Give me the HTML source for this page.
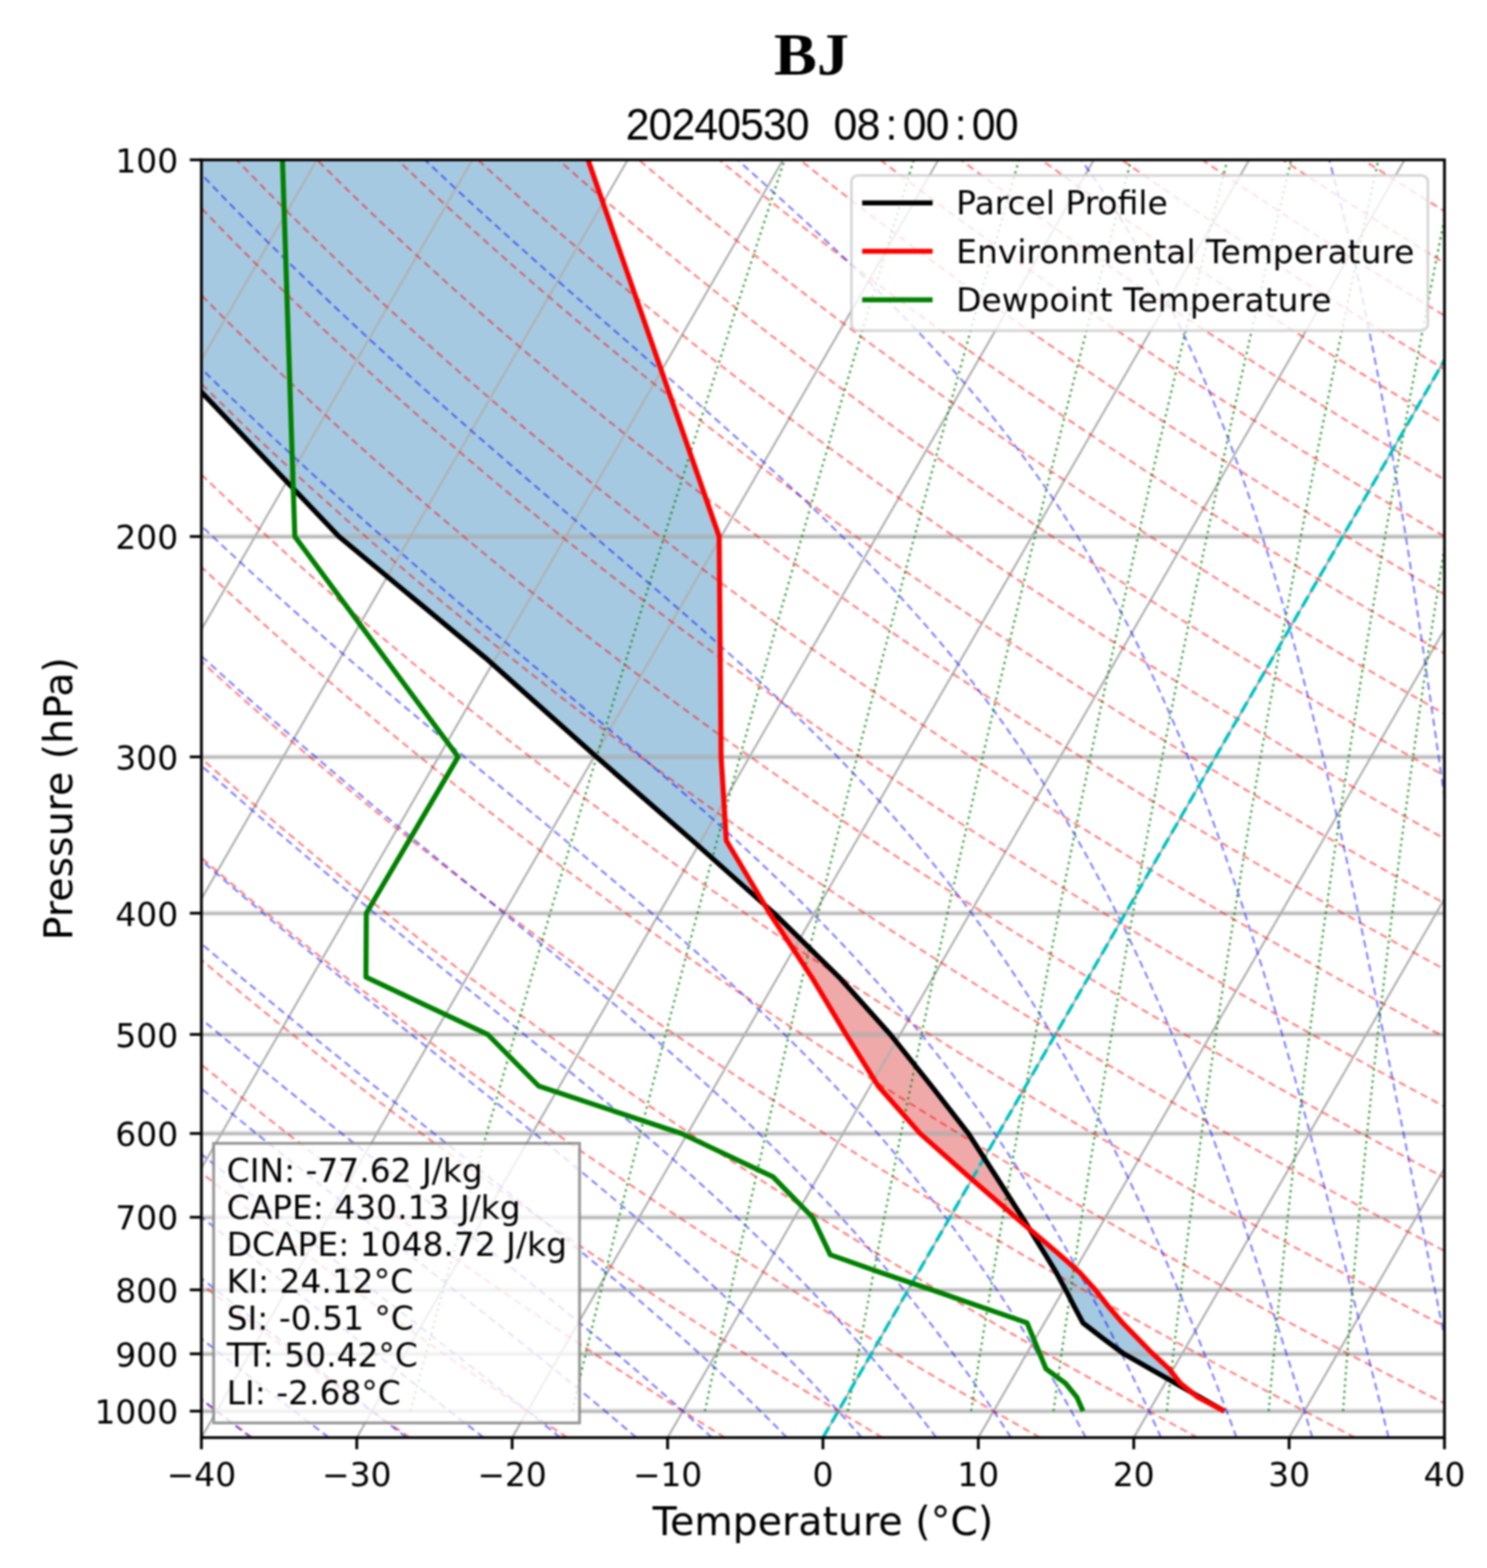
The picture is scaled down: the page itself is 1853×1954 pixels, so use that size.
<!DOCTYPE html>
<html><head><meta charset="utf-8"><title>BJ Skew-T</title>
<style>
html,body{margin:0;padding:0;background:#fff;}
body{width:1853px;height:1954px;overflow:hidden;}
svg{display:block;}
</style></head><body>
<svg xmlns="http://www.w3.org/2000/svg" width="1853" height="1954" viewBox="0 0 1853 1954">
<defs><filter id="soft" x="0" y="0" width="100%" height="100%" filterUnits="userSpaceOnUse" color-interpolation-filters="sRGB"><feGaussianBlur stdDeviation="0.9"/></filter></defs>
<g filter="url(#soft)">
<rect x="-10" y="-10" width="1873" height="1974" fill="#fff"/>
<defs><clipPath id="ax"><rect x="251.0" y="199.2" width="1549.0" height="1592.3"/></clipPath></defs>
<g clip-path="url(#ax)">
<path d="M732.8,199.2 L732.8,199.2 L733.2,200.2 L733.5,201.3 L733.9,202.3 L734.2,203.4 L734.6,204.4 L735.0,205.4 L735.3,206.5 L735.7,207.5 L736.1,208.6 L736.4,209.6 L736.8,210.6 L737.1,211.7 L737.5,212.7 L737.9,213.8 L738.2,214.8 L738.6,215.8 L739.0,216.9 L739.3,217.9 L739.7,219.0 L740.0,220.0 L740.4,221.0 L740.8,222.1 L741.1,223.1 L741.5,224.2 L741.9,225.2 L742.2,226.2 L742.6,227.3 L742.9,228.3 L743.3,229.4 L743.7,230.4 L744.0,231.4 L744.4,232.5 L744.7,233.5 L745.1,234.6 L745.5,235.6 L745.8,236.6 L746.2,237.7 L746.6,238.7 L746.9,239.8 L747.3,240.8 L747.6,241.8 L748.0,242.9 L748.4,243.9 L748.7,245.0 L749.1,246.0 L749.5,247.0 L749.8,248.1 L750.2,249.1 L750.5,250.2 L750.9,251.2 L751.3,252.3 L751.6,253.3 L752.0,254.3 L752.4,255.4 L752.7,256.4 L753.1,257.5 L753.4,258.5 L753.8,259.5 L754.2,260.6 L754.5,261.6 L754.9,262.7 L755.3,263.7 L755.6,264.7 L756.0,265.8 L756.3,266.8 L756.7,267.9 L757.1,268.9 L757.4,269.9 L757.8,271.0 L758.1,272.0 L758.5,273.1 L758.9,274.1 L759.2,275.1 L759.6,276.2 L760.0,277.2 L760.3,278.3 L760.7,279.3 L761.0,280.3 L761.4,281.4 L761.8,282.4 L762.1,283.5 L762.5,284.5 L762.9,285.5 L763.2,286.6 L763.6,287.6 L763.9,288.7 L764.3,289.7 L764.7,290.7 L765.0,291.8 L765.4,292.8 L765.8,293.9 L766.1,294.9 L766.5,295.9 L766.8,297.0 L767.2,298.0 L767.6,299.1 L767.9,300.1 L768.3,301.1 L768.6,302.2 L769.0,303.2 L769.4,304.3 L769.7,305.3 L770.1,306.3 L770.5,307.4 L770.8,308.4 L771.2,309.5 L771.5,310.5 L771.9,311.5 L772.3,312.6 L772.6,313.6 L773.0,314.7 L773.4,315.7 L773.7,316.7 L774.1,317.8 L774.4,318.8 L774.8,319.9 L775.2,320.9 L775.5,321.9 L775.9,323.0 L776.3,324.0 L776.6,325.1 L777.0,326.1 L777.3,327.1 L777.7,328.2 L778.1,329.2 L778.4,330.3 L778.8,331.3 L779.2,332.3 L779.5,333.4 L779.9,334.4 L780.2,335.5 L780.6,336.5 L781.0,337.5 L781.3,338.6 L781.7,339.6 L782.0,340.7 L782.4,341.7 L782.8,342.7 L783.1,343.8 L783.5,344.8 L783.9,345.9 L784.2,346.9 L784.6,347.9 L784.9,349.0 L785.3,350.0 L785.7,351.1 L786.0,352.1 L786.4,353.1 L786.8,354.2 L787.1,355.2 L787.5,356.3 L787.8,357.3 L788.2,358.4 L788.6,359.4 L788.9,360.4 L789.3,361.5 L789.7,362.5 L790.0,363.6 L790.4,364.6 L790.7,365.6 L791.1,366.7 L791.5,367.7 L791.8,368.8 L792.2,369.8 L792.5,370.8 L792.9,371.9 L793.3,372.9 L793.6,374.0 L794.0,375.0 L794.4,376.0 L794.7,377.1 L795.1,378.1 L795.4,379.2 L795.8,380.2 L796.2,381.2 L796.5,382.3 L796.9,383.3 L797.3,384.4 L797.6,385.4 L798.0,386.4 L798.3,387.5 L798.7,388.5 L799.1,389.6 L799.4,390.6 L799.8,391.6 L800.2,392.7 L800.5,393.7 L800.9,394.8 L801.2,395.8 L801.6,396.8 L802.0,397.9 L802.3,398.9 L802.7,400.0 L803.0,401.0 L803.4,402.0 L803.8,403.1 L804.1,404.1 L804.5,405.2 L804.9,406.2 L805.2,407.2 L805.6,408.3 L805.9,409.3 L806.3,410.4 L806.7,411.4 L807.0,412.4 L807.4,413.5 L807.8,414.5 L808.1,415.6 L808.5,416.6 L808.8,417.6 L809.2,418.7 L809.6,419.7 L809.9,420.8 L810.3,421.8 L810.7,422.8 L811.0,423.9 L811.4,424.9 L811.7,426.0 L812.1,427.0 L812.5,428.0 L812.8,429.1 L813.2,430.1 L813.6,431.2 L813.9,432.2 L814.3,433.2 L814.6,434.3 L815.0,435.3 L815.4,436.4 L815.7,437.4 L816.1,438.4 L816.4,439.5 L816.8,440.5 L817.2,441.6 L817.5,442.6 L817.9,443.6 L818.3,444.7 L818.6,445.7 L819.0,446.8 L819.3,447.8 L819.7,448.8 L820.1,449.9 L820.4,450.9 L820.8,452.0 L821.2,453.0 L821.5,454.0 L821.9,455.1 L822.2,456.1 L822.6,457.2 L823.0,458.2 L823.3,459.3 L823.7,460.3 L824.1,461.3 L824.4,462.4 L824.8,463.4 L825.1,464.5 L825.5,465.5 L825.9,466.5 L826.2,467.6 L826.6,468.6 L826.9,469.7 L827.3,470.7 L827.7,471.7 L828.0,472.8 L828.4,473.8 L828.8,474.9 L829.1,475.9 L829.5,476.9 L829.8,478.0 L830.2,479.0 L830.6,480.1 L830.9,481.1 L831.3,482.1 L831.7,483.2 L832.0,484.2 L832.4,485.3 L832.7,486.3 L833.1,487.3 L833.5,488.4 L833.8,489.4 L834.2,490.5 L834.6,491.5 L834.9,492.5 L835.3,493.6 L835.6,494.6 L836.0,495.7 L836.4,496.7 L836.7,497.7 L837.1,498.8 L837.4,499.8 L837.8,500.9 L838.2,501.9 L838.5,502.9 L838.9,504.0 L839.3,505.0 L839.6,506.1 L840.0,507.1 L840.3,508.1 L840.7,509.2 L841.1,510.2 L841.4,511.3 L841.8,512.3 L842.2,513.3 L842.5,514.4 L842.9,515.4 L843.2,516.5 L843.6,517.5 L844.0,518.5 L844.3,519.6 L844.7,520.6 L845.1,521.7 L845.4,522.7 L845.8,523.7 L846.1,524.8 L846.5,525.8 L846.9,526.9 L847.2,527.9 L847.6,528.9 L848.0,530.0 L848.3,531.0 L848.7,532.1 L849.0,533.1 L849.4,534.1 L849.8,535.2 L850.1,536.2 L850.5,537.3 L850.8,538.3 L851.2,539.3 L851.6,540.4 L851.9,541.4 L852.3,542.5 L852.7,543.5 L853.0,544.5 L853.4,545.6 L853.7,546.6 L854.1,547.7 L854.5,548.7 L854.8,549.7 L855.2,550.8 L855.6,551.8 L855.9,552.9 L856.3,553.9 L856.6,554.9 L857.0,556.0 L857.4,557.0 L857.7,558.1 L858.1,559.1 L858.5,560.1 L858.8,561.2 L859.2,562.2 L859.5,563.3 L859.9,564.3 L860.3,565.4 L860.6,566.4 L861.0,567.4 L861.3,568.5 L861.7,569.5 L862.1,570.6 L862.4,571.6 L862.8,572.6 L863.2,573.7 L863.5,574.7 L863.9,575.8 L864.2,576.8 L864.6,577.8 L865.0,578.9 L865.3,579.9 L865.7,581.0 L866.1,582.0 L866.4,583.0 L866.8,584.1 L867.1,585.1 L867.5,586.2 L867.9,587.2 L868.2,588.2 L868.6,589.3 L869.0,590.3 L869.3,591.4 L869.7,592.4 L870.0,593.4 L870.4,594.5 L870.8,595.5 L871.1,596.6 L871.5,597.6 L871.9,598.6 L872.2,599.7 L872.6,600.7 L872.9,601.8 L873.3,602.8 L873.7,603.8 L874.0,604.9 L874.4,605.9 L874.7,607.0 L875.1,608.0 L875.5,609.0 L875.8,610.1 L876.2,611.1 L876.6,612.2 L876.9,613.2 L877.3,614.2 L877.6,615.3 L878.0,616.3 L878.4,617.4 L878.7,618.4 L879.1,619.4 L879.5,620.5 L879.8,621.5 L880.2,622.6 L880.5,623.6 L880.9,624.6 L881.3,625.7 L881.6,626.7 L882.0,627.8 L882.4,628.8 L882.7,629.8 L883.1,630.9 L883.4,631.9 L883.8,633.0 L884.2,634.0 L884.5,635.0 L884.9,636.1 L885.2,637.1 L885.6,638.2 L886.0,639.2 L886.3,640.2 L886.7,641.3 L887.1,642.3 L887.4,643.4 L887.8,644.4 L888.1,645.4 L888.5,646.5 L888.9,647.5 L889.2,648.6 L889.6,649.6 L890.0,650.6 L890.3,651.7 L890.7,652.7 L891.0,653.8 L891.4,654.8 L891.8,655.8 L892.1,656.9 L892.5,657.9 L892.9,659.0 L893.2,660.0 L893.6,661.0 L893.9,662.1 L894.3,663.1 L894.7,664.2 L895.0,665.2 L895.4,666.2 L895.7,667.3 L896.1,668.3 L896.2,668.6 L896.2,669.4 L896.2,670.4 L896.2,671.5 L896.2,672.5 L896.2,673.5 L896.3,674.6 L896.3,675.6 L896.3,676.7 L896.3,677.7 L896.3,678.7 L896.3,679.8 L896.3,680.8 L896.3,681.9 L896.3,682.9 L896.3,683.9 L896.3,685.0 L896.4,686.0 L896.4,687.1 L896.4,688.1 L896.4,689.1 L896.4,690.2 L896.4,691.2 L896.4,692.3 L896.4,693.3 L896.4,694.3 L896.4,695.4 L896.4,696.4 L896.5,697.5 L896.5,698.5 L896.5,699.5 L896.5,700.6 L896.5,701.6 L896.5,702.7 L896.5,703.7 L896.5,704.7 L896.5,705.8 L896.5,706.8 L896.5,707.9 L896.6,708.9 L896.6,709.9 L896.6,711.0 L896.6,712.0 L896.6,713.1 L896.6,714.1 L896.6,715.1 L896.6,716.2 L896.6,717.2 L896.6,718.3 L896.6,719.3 L896.7,720.3 L896.7,721.4 L896.7,722.4 L896.7,723.5 L896.7,724.5 L896.7,725.5 L896.7,726.6 L896.7,727.6 L896.7,728.7 L896.7,729.7 L896.7,730.7 L896.8,731.8 L896.8,732.8 L896.8,733.9 L896.8,734.9 L896.8,735.9 L896.8,737.0 L896.8,738.0 L896.8,739.1 L896.8,740.1 L896.8,741.1 L896.8,742.2 L896.9,743.2 L896.9,744.3 L896.9,745.3 L896.9,746.3 L896.9,747.4 L896.9,748.3 L896.9,748.4 L896.9,749.5 L896.9,750.5 L896.9,751.5 L896.9,752.6 L896.9,753.6 L897.0,754.7 L897.0,755.7 L897.0,756.7 L897.0,757.8 L897.0,758.8 L897.0,759.9 L897.0,760.9 L897.0,761.9 L897.0,763.0 L897.0,764.0 L897.0,765.1 L897.1,766.1 L897.1,767.1 L897.1,768.2 L897.1,769.2 L897.1,770.3 L897.1,771.3 L897.1,772.4 L897.1,773.4 L897.1,774.4 L897.1,775.5 L897.1,776.5 L897.2,777.6 L897.2,778.6 L897.2,779.6 L897.2,780.7 L897.2,781.7 L897.2,782.8 L897.2,783.8 L897.2,784.8 L897.2,785.9 L897.2,786.9 L897.2,788.0 L897.3,789.0 L897.3,790.0 L897.3,791.1 L897.3,792.1 L897.3,793.2 L897.3,794.2 L897.3,795.2 L897.3,796.3 L897.3,797.3 L897.3,798.4 L897.3,799.4 L897.4,800.4 L897.4,801.5 L897.4,802.5 L897.4,803.6 L897.4,804.6 L897.4,805.6 L897.4,806.7 L897.4,807.7 L897.4,808.8 L897.4,809.8 L897.4,810.8 L897.5,811.9 L897.5,812.9 L897.5,814.0 L897.5,815.0 L897.5,816.0 L897.5,817.1 L897.5,818.1 L897.5,819.2 L897.5,819.7 L897.5,820.2 L897.5,821.2 L897.5,822.3 L897.6,823.3 L897.6,824.4 L897.6,825.4 L897.6,826.4 L897.6,827.5 L897.6,828.5 L897.6,829.6 L897.6,830.6 L897.6,831.6 L897.6,832.7 L897.6,833.7 L897.7,834.8 L897.7,835.8 L897.7,836.8 L897.7,837.9 L897.7,838.9 L897.7,840.0 L897.7,841.0 L897.7,842.0 L897.7,843.1 L897.7,844.1 L897.7,845.2 L897.8,846.2 L897.8,847.2 L897.8,848.3 L897.8,849.3 L897.8,850.4 L897.8,851.4 L897.8,852.4 L897.8,853.5 L897.8,854.5 L897.8,855.6 L897.8,856.6 L897.9,857.6 L897.9,858.7 L897.9,859.7 L897.9,860.8 L897.9,861.8 L897.9,862.8 L897.9,863.9 L897.9,864.9 L897.9,866.0 L897.9,867.0 L897.9,868.0 L898.0,869.1 L898.0,870.1 L898.0,871.2 L898.0,872.2 L898.0,873.2 L898.0,874.3 L898.0,875.3 L898.0,876.4 L898.0,877.4 L898.0,878.5 L898.0,879.5 L898.1,880.5 L898.1,881.6 L898.1,882.6 L898.1,883.7 L898.1,884.7 L898.1,885.7 L898.1,886.8 L898.1,887.8 L898.1,888.9 L898.1,889.9 L898.1,890.9 L898.2,892.0 L898.2,893.0 L898.2,894.1 L898.2,895.1 L898.2,896.1 L898.2,897.2 L898.2,898.2 L898.2,899.3 L898.2,900.3 L898.2,901.3 L898.2,902.4 L898.3,903.4 L898.3,904.5 L898.3,905.5 L898.3,906.5 L898.3,907.6 L898.3,908.6 L898.3,909.7 L898.3,910.7 L898.3,911.7 L898.3,912.8 L898.3,913.8 L898.4,914.9 L898.4,915.9 L898.4,916.9 L898.4,918.0 L898.4,919.0 L898.4,920.1 L898.4,921.1 L898.4,922.1 L898.4,923.2 L898.4,924.2 L898.4,925.3 L898.5,926.3 L898.5,927.3 L898.5,928.4 L898.5,929.4 L898.5,930.5 L898.5,931.5 L898.5,932.5 L898.5,933.6 L898.5,934.6 L898.5,935.7 L898.5,936.7 L898.6,937.7 L898.6,938.8 L898.6,939.8 L898.6,940.9 L898.6,941.9 L898.6,942.9 L898.6,943.2 L898.7,944.0 L898.7,945.0 L898.8,946.1 L898.8,947.1 L898.9,948.1 L899.0,949.2 L899.0,950.2 L899.1,951.3 L899.2,952.3 L899.2,953.3 L899.3,954.4 L899.4,955.4 L899.4,956.5 L899.5,957.5 L899.6,958.5 L899.6,959.6 L899.7,960.6 L899.8,961.7 L899.8,962.7 L899.9,963.7 L899.9,964.8 L900.0,965.8 L900.1,966.9 L900.1,967.9 L900.2,968.9 L900.3,970.0 L900.3,971.0 L900.4,972.1 L900.5,973.1 L900.5,974.1 L900.6,975.2 L900.7,976.2 L900.7,977.3 L900.8,978.3 L900.9,979.4 L900.9,980.4 L901.0,981.4 L901.0,982.5 L901.1,983.5 L901.2,984.6 L901.2,985.6 L901.3,986.6 L901.4,987.7 L901.4,988.7 L901.5,989.8 L901.6,990.8 L901.6,991.8 L901.7,992.9 L901.8,993.9 L901.8,995.0 L901.9,996.0 L902.0,997.0 L902.0,998.1 L902.1,999.1 L902.1,1000.2 L902.2,1001.2 L902.3,1002.2 L902.3,1003.3 L902.4,1004.3 L902.5,1005.4 L902.5,1006.4 L902.6,1007.4 L902.7,1008.5 L902.7,1009.5 L902.8,1010.6 L902.9,1011.6 L902.9,1012.6 L903.0,1013.7 L903.1,1014.7 L903.1,1015.8 L903.2,1016.8 L903.3,1017.8 L903.3,1018.9 L903.4,1019.9 L903.4,1021.0 L903.5,1022.0 L903.6,1023.0 L903.6,1024.1 L903.7,1025.1 L903.8,1026.2 L903.8,1027.2 L903.9,1028.2 L904.0,1029.3 L904.0,1030.3 L904.1,1031.4 L904.2,1032.4 L904.2,1033.4 L904.3,1034.5 L904.4,1035.5 L904.4,1036.6 L904.5,1037.6 L904.5,1038.6 L904.6,1039.7 L904.7,1040.7 L904.7,1041.8 L904.8,1042.8 L904.9,1043.8 L904.9,1044.9 L905.0,1045.9 L905.1,1047.0 L905.1,1047.5 L905.4,1048.0 L906.0,1049.0 L906.6,1050.1 L907.2,1051.1 L907.9,1052.2 L908.5,1053.2 L909.1,1054.2 L909.7,1055.3 L910.3,1056.3 L911.0,1057.4 L911.6,1058.4 L912.2,1059.4 L912.8,1060.5 L913.4,1061.5 L914.1,1062.6 L914.7,1063.6 L915.3,1064.6 L915.9,1065.7 L916.5,1066.7 L917.2,1067.8 L917.8,1068.8 L918.4,1069.8 L919.0,1070.9 L919.6,1071.9 L920.3,1073.0 L920.9,1074.0 L921.5,1075.0 L922.1,1076.1 L922.7,1077.1 L923.4,1078.2 L924.0,1079.2 L924.6,1080.2 L925.2,1081.3 L925.8,1082.3 L926.5,1083.4 L927.1,1084.4 L927.7,1085.5 L928.3,1086.5 L928.9,1087.5 L929.6,1088.6 L930.2,1089.6 L930.8,1090.7 L931.4,1091.7 L932.0,1092.7 L932.7,1093.8 L933.3,1094.8 L933.9,1095.9 L934.5,1096.9 L935.1,1097.9 L935.8,1099.0 L936.4,1100.0 L937.0,1101.1 L937.6,1102.1 L938.2,1103.1 L938.9,1104.2 L939.5,1105.2 L940.1,1106.3 L940.7,1107.3 L941.3,1108.3 L942.0,1109.4 L942.6,1110.4 L943.2,1111.5 L943.8,1112.5 L944.4,1113.5 L945.1,1114.6 L945.7,1115.6 L946.3,1116.7 L946.9,1117.7 L947.5,1118.7 L948.2,1119.8 L948.8,1120.8 L949.4,1121.9 L950.0,1122.9 L950.6,1123.9 L951.3,1125.0 L951.9,1126.0 L952.5,1127.1 L952.2,1127.1 L951.1,1126.0 L949.9,1125.0 L948.7,1123.9 L947.6,1122.9 L946.4,1121.9 L945.2,1120.8 L944.1,1119.8 L942.9,1118.7 L941.7,1117.7 L940.6,1116.7 L939.4,1115.6 L938.2,1114.6 L937.0,1113.5 L935.9,1112.5 L934.7,1111.5 L933.5,1110.4 L932.4,1109.4 L931.2,1108.3 L930.0,1107.3 L928.9,1106.3 L927.7,1105.2 L926.5,1104.2 L925.4,1103.1 L924.2,1102.1 L923.0,1101.1 L921.9,1100.0 L920.7,1099.0 L919.5,1097.9 L918.3,1096.9 L917.2,1095.9 L916.0,1094.8 L914.8,1093.8 L913.7,1092.7 L912.5,1091.7 L911.3,1090.7 L910.2,1089.6 L909.0,1088.6 L907.8,1087.5 L906.7,1086.5 L905.5,1085.5 L904.3,1084.4 L903.2,1083.4 L902.0,1082.3 L900.8,1081.3 L899.6,1080.2 L898.5,1079.2 L897.3,1078.2 L896.1,1077.1 L895.0,1076.1 L893.8,1075.0 L892.6,1074.0 L891.5,1073.0 L890.3,1071.9 L889.1,1070.9 L888.0,1069.8 L886.8,1068.8 L885.6,1067.8 L884.5,1066.7 L883.3,1065.7 L882.1,1064.6 L880.9,1063.6 L879.8,1062.6 L878.6,1061.5 L877.4,1060.5 L876.3,1059.4 L875.1,1058.4 L873.9,1057.4 L872.8,1056.3 L871.6,1055.3 L870.4,1054.2 L869.3,1053.2 L868.1,1052.2 L866.9,1051.1 L865.8,1050.1 L864.6,1049.0 L863.4,1048.0 L862.9,1047.5 L862.2,1047.0 L861.0,1045.9 L859.8,1044.9 L858.7,1043.8 L857.5,1042.8 L856.3,1041.8 L855.1,1040.7 L853.9,1039.7 L852.7,1038.6 L851.5,1037.6 L850.3,1036.6 L849.1,1035.5 L847.9,1034.5 L846.7,1033.4 L845.5,1032.4 L844.3,1031.4 L843.1,1030.3 L842.0,1029.3 L840.8,1028.2 L839.6,1027.2 L838.4,1026.2 L837.2,1025.1 L836.0,1024.1 L834.8,1023.0 L833.6,1022.0 L832.4,1021.0 L831.2,1019.9 L830.0,1018.9 L828.8,1017.8 L827.6,1016.8 L826.5,1015.8 L825.3,1014.7 L824.1,1013.7 L822.9,1012.6 L821.7,1011.6 L820.5,1010.6 L819.3,1009.5 L818.1,1008.5 L816.9,1007.4 L815.7,1006.4 L814.5,1005.4 L813.3,1004.3 L812.1,1003.3 L810.9,1002.2 L809.8,1001.2 L808.6,1000.2 L807.4,999.1 L806.2,998.1 L805.0,997.0 L803.8,996.0 L802.6,995.0 L801.4,993.9 L800.2,992.9 L799.0,991.8 L797.8,990.8 L796.6,989.8 L795.4,988.7 L794.2,987.7 L793.1,986.6 L791.9,985.6 L790.7,984.6 L789.5,983.5 L788.3,982.5 L787.1,981.4 L785.9,980.4 L784.7,979.4 L783.5,978.3 L782.3,977.3 L781.1,976.2 L779.9,975.2 L778.7,974.1 L777.5,973.1 L776.4,972.1 L775.2,971.0 L774.0,970.0 L772.8,968.9 L771.6,967.9 L770.4,966.9 L769.2,965.8 L768.0,964.8 L766.8,963.7 L765.6,962.7 L764.4,961.7 L763.2,960.6 L762.0,959.6 L760.8,958.5 L759.7,957.5 L758.5,956.5 L757.3,955.4 L756.1,954.4 L754.9,953.3 L753.7,952.3 L752.5,951.3 L751.3,950.2 L750.1,949.2 L748.9,948.1 L747.7,947.1 L746.5,946.1 L745.3,945.0 L744.1,944.0 L743.2,943.2 L743.0,942.9 L741.8,941.9 L740.6,940.9 L739.5,939.8 L738.3,938.8 L737.1,937.7 L736.0,936.7 L734.8,935.7 L733.6,934.6 L732.5,933.6 L731.3,932.5 L730.1,931.5 L729.0,930.5 L727.8,929.4 L726.6,928.4 L725.5,927.3 L724.3,926.3 L723.1,925.3 L722.0,924.2 L720.8,923.2 L719.6,922.1 L718.5,921.1 L717.3,920.1 L716.1,919.0 L715.0,918.0 L713.8,916.9 L712.6,915.9 L711.5,914.9 L710.3,913.8 L709.1,912.8 L708.0,911.7 L706.8,910.7 L705.6,909.7 L704.5,908.6 L703.3,907.6 L702.1,906.5 L701.0,905.5 L699.8,904.5 L698.7,903.4 L697.5,902.4 L696.3,901.3 L695.2,900.3 L694.0,899.3 L692.8,898.2 L691.7,897.2 L690.5,896.1 L689.3,895.1 L688.2,894.1 L687.0,893.0 L685.8,892.0 L684.7,890.9 L683.5,889.9 L682.3,888.9 L681.2,887.8 L680.0,886.8 L678.8,885.7 L677.7,884.7 L676.5,883.7 L675.3,882.6 L674.2,881.6 L673.0,880.5 L671.8,879.5 L670.7,878.5 L669.5,877.4 L668.3,876.4 L667.2,875.3 L666.0,874.3 L664.8,873.2 L663.7,872.2 L662.5,871.2 L661.3,870.1 L660.2,869.1 L659.0,868.0 L657.8,867.0 L656.7,866.0 L655.5,864.9 L654.3,863.9 L653.2,862.8 L652.0,861.8 L650.8,860.8 L649.7,859.7 L648.5,858.7 L647.3,857.6 L646.2,856.6 L645.0,855.6 L643.8,854.5 L642.7,853.5 L641.5,852.4 L640.4,851.4 L639.2,850.4 L638.0,849.3 L636.9,848.3 L635.7,847.2 L634.5,846.2 L633.4,845.2 L632.2,844.1 L631.0,843.1 L629.9,842.0 L628.7,841.0 L627.5,840.0 L626.4,838.9 L625.2,837.9 L624.0,836.8 L622.9,835.8 L621.7,834.8 L620.5,833.7 L619.4,832.7 L618.2,831.6 L617.0,830.6 L615.9,829.6 L614.7,828.5 L613.5,827.5 L612.4,826.4 L611.2,825.4 L610.0,824.4 L608.9,823.3 L607.7,822.3 L606.5,821.2 L605.4,820.2 L604.8,819.7 L604.2,819.2 L602.9,818.1 L601.6,817.1 L600.4,816.0 L599.1,815.0 L597.9,814.0 L596.6,812.9 L595.3,811.9 L594.1,810.8 L592.8,809.8 L591.6,808.8 L590.3,807.7 L589.1,806.7 L587.8,805.6 L586.5,804.6 L585.3,803.6 L584.0,802.5 L582.8,801.5 L581.5,800.4 L580.3,799.4 L579.0,798.4 L577.7,797.3 L576.5,796.3 L575.2,795.2 L574.0,794.2 L572.7,793.2 L571.4,792.1 L570.2,791.1 L568.9,790.0 L567.7,789.0 L566.4,788.0 L565.2,786.9 L563.9,785.9 L562.6,784.8 L561.4,783.8 L560.1,782.8 L558.9,781.7 L557.6,780.7 L556.3,779.6 L555.1,778.6 L553.8,777.6 L552.6,776.5 L551.3,775.5 L550.1,774.4 L548.8,773.4 L547.5,772.4 L546.3,771.3 L545.0,770.3 L543.8,769.2 L542.5,768.2 L541.2,767.1 L540.0,766.1 L538.7,765.1 L537.5,764.0 L536.2,763.0 L535.0,761.9 L533.7,760.9 L532.4,759.9 L531.2,758.8 L529.9,757.8 L528.7,756.7 L527.4,755.7 L526.1,754.7 L524.9,753.6 L523.6,752.6 L522.4,751.5 L521.1,750.5 L519.9,749.5 L518.6,748.4 L518.5,748.3 L517.3,747.4 L516.1,746.3 L514.8,745.3 L513.6,744.3 L512.3,743.2 L511.1,742.2 L509.8,741.1 L508.6,740.1 L507.3,739.1 L506.1,738.0 L504.8,737.0 L503.6,735.9 L502.3,734.9 L501.1,733.9 L499.8,732.8 L498.5,731.8 L497.3,730.7 L496.0,729.7 L494.8,728.7 L493.5,727.6 L492.3,726.6 L491.0,725.5 L489.8,724.5 L488.5,723.5 L487.3,722.4 L486.0,721.4 L484.8,720.3 L483.5,719.3 L482.3,718.3 L481.0,717.2 L479.7,716.2 L478.5,715.1 L477.2,714.1 L476.0,713.1 L474.7,712.0 L473.5,711.0 L472.2,709.9 L471.0,708.9 L469.7,707.9 L468.5,706.8 L467.2,705.8 L466.0,704.7 L464.7,703.7 L463.5,702.7 L462.2,701.6 L460.9,700.6 L459.7,699.5 L458.4,698.5 L457.2,697.5 L455.9,696.4 L454.7,695.4 L453.4,694.3 L452.2,693.3 L450.9,692.3 L449.7,691.2 L448.4,690.2 L447.2,689.1 L445.9,688.1 L444.7,687.1 L443.4,686.0 L442.1,685.0 L440.9,683.9 L439.6,682.9 L438.4,681.9 L437.1,680.8 L435.9,679.8 L434.6,678.7 L433.4,677.7 L432.1,676.7 L430.9,675.6 L429.6,674.6 L428.4,673.5 L427.1,672.5 L425.9,671.5 L424.6,670.4 L423.3,669.4 L422.4,668.6 L422.2,668.3 L421.2,667.3 L420.2,666.2 L419.2,665.2 L418.2,664.2 L417.2,663.1 L416.2,662.1 L415.2,661.0 L414.2,660.0 L413.2,659.0 L412.3,657.9 L411.3,656.9 L410.3,655.8 L409.3,654.8 L408.3,653.8 L407.3,652.7 L406.3,651.7 L405.3,650.6 L404.3,649.6 L403.3,648.6 L402.4,647.5 L401.4,646.5 L400.4,645.4 L399.4,644.4 L398.4,643.4 L397.4,642.3 L396.4,641.3 L395.4,640.2 L394.4,639.2 L393.4,638.2 L392.4,637.1 L391.5,636.1 L390.5,635.0 L389.5,634.0 L388.5,633.0 L387.5,631.9 L386.5,630.9 L385.5,629.8 L384.5,628.8 L383.5,627.8 L382.5,626.7 L381.6,625.7 L380.6,624.6 L379.6,623.6 L378.6,622.6 L377.6,621.5 L376.6,620.5 L375.6,619.4 L374.6,618.4 L373.6,617.4 L372.6,616.3 L371.6,615.3 L370.7,614.2 L369.7,613.2 L368.7,612.2 L367.7,611.1 L366.7,610.1 L365.7,609.0 L364.7,608.0 L363.7,607.0 L362.7,605.9 L361.7,604.9 L360.8,603.8 L359.8,602.8 L358.8,601.8 L357.8,600.7 L356.8,599.7 L355.8,598.6 L354.8,597.6 L353.8,596.6 L352.8,595.5 L351.8,594.5 L350.9,593.4 L349.9,592.4 L348.9,591.4 L347.9,590.3 L346.9,589.3 L345.9,588.2 L344.9,587.2 L343.9,586.2 L342.9,585.1 L341.9,584.1 L340.9,583.0 L340.0,582.0 L339.0,581.0 L338.0,579.9 L337.0,578.9 L336.0,577.8 L335.0,576.8 L334.0,575.8 L333.0,574.7 L332.0,573.7 L331.0,572.6 L330.1,571.6 L329.1,570.6 L328.1,569.5 L327.1,568.5 L326.1,567.4 L325.1,566.4 L324.1,565.4 L323.1,564.3 L322.1,563.3 L321.1,562.2 L320.1,561.2 L319.2,560.1 L318.2,559.1 L317.2,558.1 L316.2,557.0 L315.2,556.0 L314.2,554.9 L313.2,553.9 L312.2,552.9 L311.2,551.8 L310.2,550.8 L309.3,549.7 L308.3,548.7 L307.3,547.7 L306.3,546.6 L305.3,545.6 L304.3,544.5 L303.3,543.5 L302.3,542.5 L301.3,541.4 L300.3,540.4 L299.4,539.3 L298.4,538.3 L297.4,537.3 L296.4,536.2 L295.4,535.2 L294.4,534.1 L293.4,533.1 L292.4,532.1 L291.4,531.0 L290.4,530.0 L289.4,528.9 L288.5,527.9 L287.5,526.9 L286.5,525.8 L285.5,524.8 L284.5,523.7 L283.5,522.7 L282.5,521.7 L281.5,520.6 L280.5,519.6 L279.5,518.5 L278.6,517.5 L277.6,516.5 L276.6,515.4 L275.6,514.4 L274.6,513.3 L273.6,512.3 L272.6,511.3 L271.6,510.2 L270.6,509.2 L269.6,508.1 L268.7,507.1 L267.7,506.1 L266.7,505.0 L265.7,504.0 L264.7,502.9 L263.7,501.9 L262.7,500.9 L261.7,499.8 L260.7,498.8 L259.7,497.7 L258.7,496.7 L257.8,495.7 L256.8,494.6 L255.8,493.6 L254.8,492.5 L253.8,491.5 L252.8,490.5 L251.8,489.4 L250.8,488.4 L249.8,487.3 L248.8,486.3 L247.9,485.3 L246.9,484.2 L245.9,483.2 L244.9,482.1 L243.9,481.1 L242.9,480.1 L241.9,479.0 L240.9,478.0 L239.9,476.9 L238.9,475.9 L237.9,474.9 L237.0,473.8 L236.0,472.8 L235.0,471.7 L234.0,470.7 L233.0,469.7 L232.0,468.6 L231.0,467.6 L230.0,466.5 L229.0,465.5 L228.0,464.5 L227.1,463.4 L226.1,462.4 L225.1,461.3 L224.1,460.3 L223.1,459.3 L222.1,458.2 L221.1,457.2 L220.1,456.1 L219.1,455.1 L218.1,454.0 L217.2,453.0 L216.2,452.0 L215.2,450.9 L214.2,449.9 L213.2,448.8 L212.2,447.8 L211.2,446.8 L210.2,445.7 L209.2,444.7 L208.2,443.6 L207.2,442.6 L206.3,441.6 L205.3,440.5 L204.3,439.5 L203.3,438.4 L202.3,437.4 L201.3,436.4 L200.3,435.3 L199.3,434.3 L198.3,433.2 L197.3,432.2 L196.4,431.2 L195.4,430.1 L194.4,429.1 L193.4,428.0 L192.4,427.0 L191.4,426.0 L190.4,424.9 L189.4,423.9 L188.4,422.8 L187.4,421.8 L186.4,420.8 L185.5,419.7 L184.5,418.7 L183.5,417.6 L182.5,416.6 L181.5,415.6 L180.5,414.5 L179.5,413.5 L178.5,412.4 L177.5,411.4 L176.5,410.4 L175.6,409.3 L174.6,408.3 L173.6,407.2 L172.6,406.2 L171.6,405.2 L170.6,404.1 L169.6,403.1 L168.6,402.0 L167.6,401.0 L166.6,400.0 L165.7,398.9 L164.7,397.9 L163.7,396.8 L162.7,395.8 L161.7,394.8 L160.7,393.7 L159.7,392.7 L158.7,391.6 L157.7,390.6 L156.7,389.6 L155.7,388.5 L154.8,387.5 L153.8,386.4 L152.8,385.4 L151.8,384.4 L150.8,383.3 L149.8,382.3 L148.8,381.2 L147.8,380.2 L146.8,379.2 L145.8,378.1 L144.9,377.1 L143.9,376.0 L142.9,375.0 L141.9,374.0 L140.9,372.9 L139.9,371.9 L138.9,370.8 L137.9,369.8 L136.9,368.8 L135.9,367.7 L135.0,366.7 L134.0,365.6 L133.0,364.6 L132.0,363.6 L131.0,362.5 L130.0,361.5 L129.0,360.4 L128.0,359.4 L127.0,358.4 L126.0,357.3 L125.0,356.3 L124.1,355.2 L123.1,354.2 L122.1,353.1 L121.1,352.1 L120.1,351.1 L119.1,350.0 L118.1,349.0 L117.1,347.9 L116.1,346.9 L115.1,345.9 L114.2,344.8 L113.2,343.8 L112.2,342.7 L111.2,341.7 L110.2,340.7 L109.2,339.6 L108.2,338.6 L107.2,337.5 L106.2,336.5 L105.2,335.5 L104.2,334.4 L103.3,333.4 L102.3,332.3 L101.3,331.3 L100.3,330.3 L99.3,329.2 L98.3,328.2 L97.3,327.1 L96.3,326.1 L95.3,325.1 L94.3,324.0 L93.4,323.0 L92.4,321.9 L91.4,320.9 L90.4,319.9 L89.4,318.8 L88.4,317.8 L87.4,316.7 L86.4,315.7 L85.4,314.7 L84.4,313.6 L83.5,312.6 L82.5,311.5 L81.5,310.5 L80.5,309.5 L79.5,308.4 L78.5,307.4 L77.5,306.3 L76.5,305.3 L75.5,304.3 L74.5,303.2 L73.5,302.2 L72.6,301.1 L71.6,300.1 L70.6,299.1 L69.6,298.0 L68.6,297.0 L67.6,295.9 L66.6,294.9 L65.6,293.9 L64.6,292.8 L63.6,291.8 L62.7,290.7 L61.7,289.7 L60.7,288.7 L59.7,287.6 L58.7,286.6 L57.7,285.5 L56.7,284.5 L55.7,283.5 L54.7,282.4 L53.7,281.4 L52.7,280.3 L51.8,279.3 L50.8,278.3 L49.8,277.2 L48.8,276.2 L47.8,275.1 L46.8,274.1 L45.8,273.1 L44.8,272.0 L43.8,271.0 L42.8,269.9 L41.9,268.9 L40.9,267.9 L39.9,266.8 L38.9,265.8 L37.9,264.7 L36.9,263.7 L35.9,262.7 L34.9,261.6 L33.9,260.6 L32.9,259.5 L32.0,258.5 L31.0,257.5 L30.0,256.4 L29.0,255.4 L28.0,254.3 L27.0,253.3 L26.0,252.3 L25.0,251.2 L24.0,250.2 L23.0,249.1 L22.0,248.1 L21.1,247.0 L20.1,246.0 L19.1,245.0 L18.1,243.9 L17.1,242.9 L16.1,241.8 L15.1,240.8 L14.1,239.8 L13.1,238.7 L12.1,237.7 L11.2,236.6 L10.2,235.6 L9.2,234.6 L8.2,233.5 L7.2,232.5 L6.2,231.4 L5.2,230.4 L4.2,229.4 L3.2,228.3 L2.2,227.3 L1.2,226.2 L0.3,225.2 L-0.7,224.2 L-1.7,223.1 L-2.7,222.1 L-3.7,221.0 L-4.7,220.0 L-5.7,219.0 L-6.7,217.9 L-7.7,216.9 L-8.7,215.8 L-9.6,214.8 L-10.6,213.8 L-11.6,212.7 L-12.6,211.7 L-13.6,210.6 L-14.6,209.6 L-15.6,208.6 L-16.6,207.5 L-17.6,206.5 L-18.6,205.4 L-19.5,204.4 L-20.5,203.4 L-21.5,202.3 L-22.5,201.3 L-23.5,200.2 L-24.5,199.2 L-24.5,199.2Z" fill="#1f77b4" fill-opacity="0.4"/><path d="M1284.1,1532.7 L1285.3,1533.8 L1286.6,1534.8 L1287.8,1535.9 L1289.0,1536.9 L1290.2,1537.9 L1291.5,1539.0 L1292.7,1540.0 L1293.9,1541.1 L1295.1,1542.1 L1296.4,1543.1 L1297.6,1544.2 L1298.8,1545.2 L1300.0,1546.3 L1301.3,1547.3 L1302.5,1548.3 L1303.7,1549.4 L1304.9,1550.4 L1306.2,1551.5 L1307.4,1552.5 L1308.6,1553.5 L1309.8,1554.6 L1311.1,1555.6 L1312.3,1556.7 L1313.5,1557.7 L1314.7,1558.7 L1315.9,1559.8 L1317.2,1560.8 L1318.4,1561.9 L1319.6,1562.9 L1320.5,1563.6 L1320.8,1563.9 L1322.0,1565.0 L1323.2,1566.0 L1324.3,1567.1 L1325.5,1568.1 L1326.7,1569.1 L1327.9,1570.2 L1329.0,1571.2 L1330.2,1572.3 L1331.4,1573.3 L1332.5,1574.3 L1333.7,1575.4 L1334.9,1576.4 L1336.1,1577.5 L1337.2,1578.5 L1338.4,1579.5 L1339.6,1580.6 L1340.7,1581.6 L1341.9,1582.7 L1343.1,1583.7 L1344.3,1584.7 L1345.4,1585.8 L1345.5,1585.9 L1346.4,1586.8 L1347.3,1587.9 L1348.3,1588.9 L1349.2,1589.9 L1350.2,1591.0 L1351.1,1592.0 L1352.0,1593.1 L1353.0,1594.1 L1353.9,1595.1 L1354.9,1596.2 L1355.8,1597.2 L1356.8,1598.3 L1357.7,1599.3 L1358.6,1600.3 L1359.6,1601.4 L1360.5,1602.4 L1361.5,1603.5 L1362.4,1604.5 L1363.4,1605.6 L1364.3,1606.6 L1365.0,1607.4 L1365.2,1607.6 L1366.0,1608.7 L1366.8,1609.7 L1367.7,1610.8 L1368.5,1611.8 L1369.3,1612.8 L1370.1,1613.9 L1370.9,1614.9 L1371.7,1616.0 L1372.5,1617.0 L1373.4,1618.0 L1374.2,1619.1 L1375.0,1620.1 L1375.8,1621.2 L1376.6,1622.2 L1377.4,1623.2 L1378.2,1624.3 L1379.1,1625.3 L1379.9,1626.4 L1380.7,1627.4 L1381.3,1628.2 L1381.5,1628.4 L1382.4,1629.5 L1383.3,1630.5 L1384.2,1631.6 L1385.1,1632.6 L1386.0,1633.6 L1386.9,1634.7 L1387.8,1635.7 L1388.7,1636.8 L1389.6,1637.8 L1390.5,1638.8 L1391.4,1639.9 L1392.3,1640.9 L1393.1,1642.0 L1394.0,1643.0 L1394.9,1644.0 L1395.8,1645.1 L1396.7,1646.1 L1397.6,1647.2 L1398.5,1648.2 L1398.7,1648.4 L1399.5,1649.2 L1400.5,1650.3 L1401.5,1651.3 L1402.5,1652.4 L1403.6,1653.4 L1404.6,1654.4 L1405.6,1655.5 L1406.6,1656.5 L1407.6,1657.6 L1408.6,1658.6 L1409.6,1659.6 L1410.6,1660.7 L1411.7,1661.7 L1412.7,1662.8 L1413.7,1663.8 L1414.7,1664.8 L1415.7,1665.9 L1416.7,1666.9 L1417.7,1668.0 L1417.8,1668.0 L1418.7,1669.0 L1419.8,1670.0 L1420.8,1671.1 L1421.8,1672.1 L1422.8,1673.2 L1423.8,1674.2 L1424.9,1675.2 L1425.9,1676.3 L1426.9,1677.3 L1427.9,1678.4 L1428.9,1679.4 L1430.0,1680.4 L1431.0,1681.5 L1432.0,1682.5 L1433.0,1683.6 L1434.0,1684.6 L1435.1,1685.6 L1436.1,1686.7 L1436.5,1687.1 L1437.2,1687.7 L1438.3,1688.8 L1439.4,1689.8 L1440.6,1690.8 L1441.7,1691.9 L1442.8,1692.9 L1444.0,1694.0 L1445.1,1695.0 L1446.2,1696.0 L1447.4,1697.1 L1448.5,1698.1 L1449.6,1699.2 L1450.8,1700.2 L1451.9,1701.2 L1453.0,1702.3 L1454.2,1703.3 L1455.3,1704.4 L1456.4,1705.4 L1456.7,1705.7 L1457.3,1706.5 L1458.1,1707.5 L1458.9,1708.5 L1459.7,1709.6 L1460.6,1710.6 L1461.4,1711.7 L1462.2,1712.7 L1463.0,1713.7 L1463.8,1714.8 L1464.6,1715.8 L1465.4,1716.9 L1466.2,1717.9 L1467.1,1718.9 L1467.9,1720.0 L1468.7,1721.0 L1469.5,1722.1 L1470.3,1723.1 L1470.8,1723.7 L1471.3,1724.1 L1472.6,1725.2 L1473.9,1726.2 L1475.2,1727.3 L1476.5,1728.3 L1477.8,1729.3 L1479.1,1730.4 L1480.4,1731.4 L1481.7,1732.5 L1483.0,1733.5 L1484.3,1734.5 L1485.6,1735.6 L1485.5,1735.6 L1483.7,1734.5 L1481.9,1733.5 L1480.0,1732.5 L1478.2,1731.4 L1476.4,1730.4 L1474.6,1729.3 L1472.7,1728.3 L1470.9,1727.3 L1469.1,1726.2 L1467.2,1725.2 L1465.4,1724.1 L1464.7,1723.7 L1463.6,1723.1 L1461.8,1722.1 L1459.9,1721.0 L1458.1,1720.0 L1456.3,1718.9 L1454.5,1717.9 L1452.6,1716.9 L1450.8,1715.8 L1449.0,1714.8 L1447.1,1713.7 L1445.3,1712.7 L1443.5,1711.7 L1441.7,1710.6 L1439.8,1709.6 L1438.0,1708.5 L1436.2,1707.5 L1434.4,1706.5 L1433.0,1705.7 L1432.5,1705.4 L1430.7,1704.4 L1428.9,1703.3 L1427.1,1702.3 L1425.2,1701.2 L1423.4,1700.2 L1421.6,1699.2 L1419.7,1698.1 L1417.9,1697.1 L1416.1,1696.0 L1414.3,1695.0 L1412.4,1694.0 L1410.6,1692.9 L1408.8,1691.9 L1407.0,1690.8 L1405.1,1689.8 L1403.3,1688.8 L1401.5,1687.7 L1400.4,1687.1 L1399.8,1686.7 L1398.4,1685.6 L1397.0,1684.6 L1395.6,1683.6 L1394.2,1682.5 L1392.8,1681.5 L1391.4,1680.4 L1390.0,1679.4 L1388.6,1678.4 L1387.2,1677.3 L1385.8,1676.3 L1384.3,1675.2 L1382.9,1674.2 L1381.5,1673.2 L1380.1,1672.1 L1378.7,1671.1 L1377.3,1670.0 L1375.9,1669.0 L1374.6,1668.0 L1374.5,1668.0 L1373.2,1666.9 L1371.8,1665.9 L1370.5,1664.8 L1369.2,1663.8 L1367.8,1662.8 L1366.5,1661.7 L1365.2,1660.7 L1363.8,1659.6 L1362.5,1658.6 L1361.2,1657.6 L1359.8,1656.5 L1358.5,1655.5 L1357.1,1654.4 L1355.8,1653.4 L1354.5,1652.4 L1353.1,1651.3 L1351.8,1650.3 L1350.5,1649.2 L1349.4,1648.4 L1349.3,1648.2 L1348.7,1647.2 L1348.2,1646.1 L1347.6,1645.1 L1347.1,1644.0 L1346.5,1643.0 L1346.0,1642.0 L1345.4,1640.9 L1344.9,1639.9 L1344.3,1638.8 L1343.8,1637.8 L1343.2,1636.8 L1342.7,1635.7 L1342.1,1634.7 L1341.6,1633.6 L1341.0,1632.6 L1340.5,1631.6 L1339.9,1630.5 L1339.4,1629.5 L1338.8,1628.4 L1338.7,1628.2 L1338.3,1627.4 L1337.8,1626.4 L1337.2,1625.3 L1336.7,1624.3 L1336.2,1623.2 L1335.6,1622.2 L1335.1,1621.2 L1334.6,1620.1 L1334.0,1619.1 L1333.5,1618.0 L1333.0,1617.0 L1332.4,1616.0 L1331.9,1614.9 L1331.3,1613.9 L1330.8,1612.8 L1330.3,1611.8 L1329.7,1610.8 L1329.2,1609.7 L1328.7,1608.7 L1328.1,1607.6 L1328.0,1607.4 L1327.6,1606.6 L1327.0,1605.6 L1326.5,1604.5 L1325.9,1603.5 L1325.3,1602.4 L1324.8,1601.4 L1324.2,1600.3 L1323.6,1599.3 L1323.1,1598.3 L1322.5,1597.2 L1321.9,1596.2 L1321.4,1595.1 L1320.8,1594.1 L1320.2,1593.1 L1319.7,1592.0 L1319.1,1591.0 L1318.5,1589.9 L1318.0,1588.9 L1317.4,1587.9 L1316.8,1586.8 L1316.3,1585.9 L1316.3,1585.8 L1315.6,1584.7 L1315.0,1583.7 L1314.3,1582.7 L1313.7,1581.6 L1313.1,1580.6 L1312.4,1579.5 L1311.8,1578.5 L1311.2,1577.5 L1310.5,1576.4 L1309.9,1575.4 L1309.3,1574.3 L1308.6,1573.3 L1308.0,1572.3 L1307.3,1571.2 L1306.7,1570.2 L1306.1,1569.1 L1305.4,1568.1 L1304.8,1567.1 L1304.2,1566.0 L1303.5,1565.0 L1302.9,1563.9 L1302.7,1563.6 L1302.2,1562.9 L1301.6,1561.9 L1301.0,1560.8 L1300.3,1559.8 L1299.7,1558.7 L1299.0,1557.7 L1298.4,1556.7 L1297.7,1555.6 L1297.1,1554.6 L1296.4,1553.5 L1295.8,1552.5 L1295.2,1551.5 L1294.5,1550.4 L1293.9,1549.4 L1293.2,1548.3 L1292.6,1547.3 L1291.9,1546.3 L1291.3,1545.2 L1290.7,1544.2 L1290.0,1543.1 L1289.4,1542.1 L1288.7,1541.1 L1288.1,1540.0 L1287.4,1539.0 L1286.8,1537.9 L1286.2,1536.9 L1285.5,1535.9 L1284.9,1534.8 L1284.2,1533.8 L1283.6,1532.7Z" fill="#1f77b4" fill-opacity="0.4"/><path d="M953.1,1128.1 L953.7,1129.1 L954.4,1130.2 L955.0,1131.2 L955.6,1132.3 L956.2,1133.3 L956.8,1134.3 L957.5,1135.4 L958.1,1136.4 L958.7,1137.5 L959.0,1138.0 L959.4,1138.5 L960.0,1139.5 L960.7,1140.6 L961.4,1141.6 L962.1,1142.7 L962.8,1143.7 L963.5,1144.7 L964.1,1145.8 L964.8,1146.8 L965.5,1147.9 L966.2,1148.9 L966.9,1149.9 L967.6,1151.0 L968.3,1152.0 L968.9,1153.1 L969.6,1154.1 L970.3,1155.1 L971.0,1156.2 L971.7,1157.2 L972.4,1158.3 L973.0,1159.3 L973.7,1160.3 L974.4,1161.4 L975.1,1162.4 L975.8,1163.5 L976.5,1164.5 L977.2,1165.5 L977.8,1166.6 L978.5,1167.6 L979.2,1168.7 L979.9,1169.7 L980.6,1170.7 L981.3,1171.8 L981.9,1172.8 L982.6,1173.9 L983.3,1174.9 L984.0,1175.9 L984.7,1177.0 L985.4,1178.0 L986.1,1179.1 L986.7,1180.1 L987.4,1181.1 L988.1,1182.2 L988.8,1183.2 L989.5,1184.3 L990.2,1185.3 L990.8,1186.4 L991.5,1187.4 L992.2,1188.4 L992.9,1189.5 L993.6,1190.5 L994.3,1191.6 L995.0,1192.6 L995.6,1193.6 L996.3,1194.7 L997.0,1195.7 L997.7,1196.8 L998.4,1197.8 L999.1,1198.8 L999.7,1199.9 L1000.4,1200.9 L1001.1,1202.0 L1001.8,1203.0 L1002.5,1204.0 L1003.2,1205.1 L1003.9,1206.1 L1004.5,1207.2 L1005.2,1208.2 L1005.9,1209.2 L1006.6,1210.3 L1007.3,1211.3 L1008.0,1212.4 L1008.6,1213.4 L1009.3,1214.4 L1010.0,1215.5 L1010.7,1216.5 L1011.4,1217.6 L1011.5,1217.7 L1012.0,1218.6 L1012.6,1219.6 L1013.3,1220.7 L1013.9,1221.7 L1014.5,1222.8 L1015.1,1223.8 L1015.8,1224.8 L1016.4,1225.9 L1017.0,1226.9 L1017.6,1228.0 L1018.3,1229.0 L1018.9,1230.0 L1019.5,1231.1 L1020.1,1232.1 L1020.8,1233.2 L1021.4,1234.2 L1022.0,1235.2 L1022.6,1236.3 L1023.3,1237.3 L1023.9,1238.4 L1024.5,1239.4 L1025.1,1240.4 L1025.7,1241.5 L1026.4,1242.5 L1027.0,1243.6 L1027.6,1244.6 L1028.2,1245.6 L1028.9,1246.7 L1029.5,1247.7 L1030.1,1248.8 L1030.7,1249.8 L1031.4,1250.8 L1032.0,1251.9 L1032.6,1252.9 L1033.2,1254.0 L1033.9,1255.0 L1034.5,1256.0 L1035.1,1257.1 L1035.7,1258.1 L1036.4,1259.2 L1037.0,1260.2 L1037.6,1261.2 L1038.2,1262.3 L1038.9,1263.3 L1039.5,1264.4 L1040.1,1265.4 L1040.7,1266.4 L1041.3,1267.5 L1042.0,1268.5 L1042.6,1269.6 L1043.2,1270.6 L1043.8,1271.6 L1044.5,1272.7 L1045.1,1273.7 L1045.7,1274.8 L1046.3,1275.8 L1047.0,1276.8 L1047.6,1277.9 L1048.2,1278.9 L1048.8,1280.0 L1049.5,1281.0 L1050.1,1282.0 L1050.7,1283.1 L1051.3,1284.1 L1052.0,1285.2 L1052.6,1286.2 L1053.2,1287.2 L1053.8,1288.3 L1054.3,1289.1 L1054.5,1289.3 L1055.1,1290.4 L1055.8,1291.4 L1056.4,1292.5 L1057.0,1293.5 L1057.7,1294.5 L1058.3,1295.6 L1059.0,1296.6 L1059.6,1297.7 L1060.3,1298.7 L1060.9,1299.7 L1061.6,1300.8 L1062.2,1301.8 L1062.9,1302.9 L1063.5,1303.9 L1064.2,1304.9 L1064.8,1306.0 L1065.5,1307.0 L1066.1,1308.1 L1066.8,1309.1 L1067.4,1310.1 L1068.1,1311.2 L1068.7,1312.2 L1069.4,1313.3 L1070.0,1314.3 L1070.7,1315.3 L1071.3,1316.4 L1072.0,1317.4 L1072.6,1318.5 L1073.2,1319.5 L1073.9,1320.5 L1074.5,1321.6 L1075.2,1322.6 L1075.8,1323.7 L1076.5,1324.7 L1077.1,1325.7 L1077.8,1326.8 L1078.4,1327.8 L1079.1,1328.9 L1079.7,1329.9 L1080.4,1330.9 L1081.0,1332.0 L1081.7,1333.0 L1082.3,1334.1 L1083.0,1335.1 L1083.6,1336.1 L1084.3,1337.2 L1084.9,1338.2 L1085.6,1339.3 L1086.2,1340.3 L1086.9,1341.3 L1087.5,1342.4 L1088.1,1343.4 L1088.8,1344.5 L1089.4,1345.5 L1090.1,1346.5 L1090.7,1347.6 L1091.4,1348.6 L1092.0,1349.7 L1092.7,1350.7 L1093.3,1351.7 L1094.0,1352.8 L1094.5,1353.6 L1094.7,1353.8 L1095.6,1354.9 L1096.5,1355.9 L1097.4,1356.9 L1098.4,1358.0 L1099.3,1359.0 L1100.2,1360.1 L1101.1,1361.1 L1102.0,1362.1 L1102.9,1363.2 L1103.9,1364.2 L1104.8,1365.3 L1105.7,1366.3 L1106.6,1367.3 L1107.5,1368.4 L1108.5,1369.4 L1109.4,1370.5 L1110.3,1371.5 L1111.2,1372.5 L1112.1,1373.6 L1113.0,1374.6 L1114.0,1375.7 L1114.9,1376.7 L1115.8,1377.7 L1116.7,1378.8 L1117.6,1379.8 L1118.5,1380.9 L1119.5,1381.9 L1120.4,1382.9 L1121.3,1384.0 L1122.2,1385.0 L1123.1,1386.1 L1124.1,1387.1 L1125.0,1388.1 L1125.9,1389.2 L1126.8,1390.2 L1127.7,1391.3 L1128.6,1392.3 L1129.6,1393.4 L1130.5,1394.4 L1131.4,1395.4 L1132.3,1396.5 L1133.2,1397.5 L1134.2,1398.6 L1135.1,1399.6 L1136.0,1400.6 L1136.9,1401.7 L1137.8,1402.7 L1138.7,1403.8 L1139.7,1404.8 L1140.6,1405.8 L1141.5,1406.9 L1142.4,1407.9 L1143.3,1409.0 L1144.3,1410.0 L1145.2,1411.0 L1146.1,1412.1 L1146.5,1412.5 L1147.1,1413.1 L1148.3,1414.2 L1149.5,1415.2 L1150.7,1416.2 L1151.8,1417.3 L1153.0,1418.3 L1154.2,1419.4 L1155.3,1420.4 L1156.5,1421.4 L1157.7,1422.5 L1158.9,1423.5 L1160.0,1424.6 L1161.2,1425.6 L1162.4,1426.6 L1163.5,1427.7 L1164.7,1428.7 L1165.9,1429.8 L1167.0,1430.8 L1168.2,1431.8 L1169.4,1432.9 L1170.6,1433.9 L1171.7,1435.0 L1172.9,1436.0 L1174.1,1437.0 L1175.2,1438.1 L1176.4,1439.1 L1177.6,1440.2 L1178.8,1441.2 L1179.9,1442.2 L1181.1,1443.3 L1182.3,1444.3 L1183.4,1445.4 L1184.6,1446.4 L1185.8,1447.4 L1186.9,1448.5 L1188.1,1449.5 L1189.3,1450.6 L1190.5,1451.6 L1191.6,1452.6 L1192.8,1453.7 L1194.0,1454.7 L1195.1,1455.8 L1196.3,1456.8 L1197.5,1457.8 L1198.7,1458.9 L1199.8,1459.9 L1201.0,1461.0 L1202.2,1462.0 L1203.3,1463.0 L1204.5,1464.1 L1205.7,1465.1 L1206.8,1466.2 L1207.5,1466.7 L1208.0,1467.2 L1209.2,1468.2 L1210.4,1469.3 L1211.6,1470.3 L1212.8,1471.4 L1214.0,1472.4 L1215.2,1473.4 L1216.4,1474.5 L1217.7,1475.5 L1218.9,1476.6 L1220.1,1477.6 L1221.3,1478.6 L1222.5,1479.7 L1223.7,1480.7 L1224.9,1481.8 L1226.1,1482.8 L1227.3,1483.8 L1228.5,1484.9 L1229.7,1485.9 L1230.9,1487.0 L1232.1,1488.0 L1233.3,1489.0 L1234.5,1490.1 L1235.7,1491.1 L1236.9,1492.2 L1238.1,1493.2 L1239.3,1494.2 L1240.5,1495.3 L1241.7,1496.3 L1242.9,1497.4 L1244.1,1498.4 L1245.3,1499.5 L1246.5,1500.5 L1247.7,1501.5 L1248.9,1502.6 L1250.1,1503.6 L1251.3,1504.7 L1252.5,1505.7 L1253.7,1506.7 L1254.9,1507.8 L1256.1,1508.8 L1257.3,1509.9 L1258.5,1510.9 L1259.7,1511.9 L1260.9,1513.0 L1262.1,1514.0 L1263.3,1515.1 L1264.5,1516.1 L1265.5,1516.9 L1265.7,1517.1 L1267.0,1518.2 L1268.2,1519.2 L1269.4,1520.3 L1270.6,1521.3 L1271.9,1522.3 L1273.1,1523.4 L1274.3,1524.4 L1275.5,1525.5 L1276.8,1526.5 L1278.0,1527.5 L1279.2,1528.6 L1280.4,1529.6 L1281.7,1530.7 L1282.9,1531.7 L1282.9,1531.7 L1282.3,1530.7 L1281.6,1529.6 L1281.0,1528.6 L1280.4,1527.5 L1279.7,1526.5 L1279.1,1525.5 L1278.4,1524.4 L1277.8,1523.4 L1277.1,1522.3 L1276.5,1521.3 L1275.9,1520.3 L1275.2,1519.2 L1274.6,1518.2 L1273.9,1517.1 L1273.8,1516.9 L1273.3,1516.1 L1272.6,1515.1 L1271.9,1514.0 L1271.3,1513.0 L1270.6,1511.9 L1269.9,1510.9 L1269.3,1509.9 L1268.6,1508.8 L1267.9,1507.8 L1267.3,1506.7 L1266.6,1505.7 L1265.9,1504.7 L1265.3,1503.6 L1264.6,1502.6 L1264.0,1501.5 L1263.3,1500.5 L1262.6,1499.5 L1262.0,1498.4 L1261.3,1497.4 L1260.6,1496.3 L1260.0,1495.3 L1259.3,1494.2 L1258.6,1493.2 L1258.0,1492.2 L1257.3,1491.1 L1256.6,1490.1 L1256.0,1489.0 L1255.3,1488.0 L1254.6,1487.0 L1254.0,1485.9 L1253.3,1484.9 L1252.6,1483.8 L1252.0,1482.8 L1251.3,1481.8 L1250.6,1480.7 L1250.0,1479.7 L1249.3,1478.6 L1248.6,1477.6 L1248.0,1476.6 L1247.3,1475.5 L1246.7,1474.5 L1246.0,1473.4 L1245.3,1472.4 L1244.7,1471.4 L1244.0,1470.3 L1243.3,1469.3 L1242.7,1468.2 L1242.0,1467.2 L1241.7,1466.7 L1241.3,1466.2 L1240.7,1465.1 L1240.0,1464.1 L1239.3,1463.0 L1238.6,1462.0 L1238.0,1461.0 L1237.3,1459.9 L1236.6,1458.9 L1236.0,1457.8 L1235.3,1456.8 L1234.6,1455.8 L1233.9,1454.7 L1233.3,1453.7 L1232.6,1452.6 L1231.9,1451.6 L1231.3,1450.6 L1230.6,1449.5 L1229.9,1448.5 L1229.2,1447.4 L1228.6,1446.4 L1227.9,1445.4 L1227.2,1444.3 L1226.5,1443.3 L1225.9,1442.2 L1225.2,1441.2 L1224.5,1440.2 L1223.9,1439.1 L1223.2,1438.1 L1222.5,1437.0 L1221.8,1436.0 L1221.2,1435.0 L1220.5,1433.9 L1219.8,1432.9 L1219.2,1431.8 L1218.5,1430.8 L1217.8,1429.8 L1217.1,1428.7 L1216.5,1427.7 L1215.8,1426.6 L1215.1,1425.6 L1214.5,1424.6 L1213.8,1423.5 L1213.1,1422.5 L1212.4,1421.4 L1211.8,1420.4 L1211.1,1419.4 L1210.4,1418.3 L1209.8,1417.3 L1209.1,1416.2 L1208.4,1415.2 L1207.7,1414.2 L1207.1,1413.1 L1206.7,1412.5 L1206.3,1412.1 L1205.5,1411.0 L1204.7,1410.0 L1203.9,1409.0 L1203.1,1407.9 L1202.3,1406.9 L1201.5,1405.8 L1200.7,1404.8 L1199.9,1403.8 L1199.1,1402.7 L1198.3,1401.7 L1197.5,1400.6 L1196.7,1399.6 L1195.8,1398.6 L1195.0,1397.5 L1194.2,1396.5 L1193.4,1395.4 L1192.6,1394.4 L1191.8,1393.4 L1191.0,1392.3 L1190.2,1391.3 L1189.4,1390.2 L1188.6,1389.2 L1187.8,1388.1 L1187.0,1387.1 L1186.2,1386.1 L1185.4,1385.0 L1184.6,1384.0 L1183.7,1382.9 L1182.9,1381.9 L1182.1,1380.9 L1181.3,1379.8 L1180.5,1378.8 L1179.7,1377.7 L1178.9,1376.7 L1178.1,1375.7 L1177.3,1374.6 L1176.5,1373.6 L1175.7,1372.5 L1174.9,1371.5 L1174.1,1370.5 L1173.3,1369.4 L1172.5,1368.4 L1171.6,1367.3 L1170.8,1366.3 L1170.0,1365.3 L1169.2,1364.2 L1168.4,1363.2 L1167.6,1362.1 L1166.8,1361.1 L1166.0,1360.1 L1165.2,1359.0 L1164.4,1358.0 L1163.6,1356.9 L1162.8,1355.9 L1162.0,1354.9 L1161.2,1353.8 L1161.0,1353.6 L1160.3,1352.8 L1159.5,1351.7 L1158.7,1350.7 L1157.8,1349.7 L1157.0,1348.6 L1156.2,1347.6 L1155.4,1346.5 L1154.5,1345.5 L1153.7,1344.5 L1152.9,1343.4 L1152.0,1342.4 L1151.2,1341.3 L1150.4,1340.3 L1149.5,1339.3 L1148.7,1338.2 L1147.9,1337.2 L1147.1,1336.1 L1146.2,1335.1 L1145.4,1334.1 L1144.6,1333.0 L1143.7,1332.0 L1142.9,1330.9 L1142.1,1329.9 L1141.2,1328.9 L1140.4,1327.8 L1139.6,1326.8 L1138.8,1325.7 L1137.9,1324.7 L1137.1,1323.7 L1136.3,1322.6 L1135.4,1321.6 L1134.6,1320.5 L1133.8,1319.5 L1132.9,1318.5 L1132.1,1317.4 L1131.3,1316.4 L1130.5,1315.3 L1129.6,1314.3 L1128.8,1313.3 L1128.0,1312.2 L1127.1,1311.2 L1126.3,1310.1 L1125.5,1309.1 L1124.6,1308.1 L1123.8,1307.0 L1123.0,1306.0 L1122.2,1304.9 L1121.3,1303.9 L1120.5,1302.9 L1119.7,1301.8 L1118.8,1300.8 L1118.0,1299.7 L1117.2,1298.7 L1116.3,1297.7 L1115.5,1296.6 L1114.7,1295.6 L1113.9,1294.5 L1113.0,1293.5 L1112.2,1292.5 L1111.4,1291.4 L1110.5,1290.4 L1109.7,1289.3 L1109.5,1289.1 L1108.8,1288.3 L1107.9,1287.2 L1106.9,1286.2 L1106.0,1285.2 L1105.1,1284.1 L1104.1,1283.1 L1103.2,1282.0 L1102.3,1281.0 L1101.3,1280.0 L1100.4,1278.9 L1099.5,1277.9 L1098.5,1276.8 L1097.6,1275.8 L1096.7,1274.8 L1095.8,1273.7 L1094.8,1272.7 L1093.9,1271.6 L1093.0,1270.6 L1092.0,1269.6 L1091.1,1268.5 L1090.2,1267.5 L1089.2,1266.4 L1088.3,1265.4 L1087.4,1264.4 L1086.4,1263.3 L1085.5,1262.3 L1084.6,1261.2 L1083.6,1260.2 L1082.7,1259.2 L1081.8,1258.1 L1080.8,1257.1 L1079.9,1256.0 L1079.0,1255.0 L1078.1,1254.0 L1077.1,1252.9 L1076.2,1251.9 L1075.3,1250.8 L1074.3,1249.8 L1073.4,1248.8 L1072.5,1247.7 L1071.5,1246.7 L1070.6,1245.6 L1069.7,1244.6 L1068.7,1243.6 L1067.8,1242.5 L1066.9,1241.5 L1065.9,1240.4 L1065.0,1239.4 L1064.1,1238.4 L1063.1,1237.3 L1062.2,1236.3 L1061.3,1235.2 L1060.4,1234.2 L1059.4,1233.2 L1058.5,1232.1 L1057.6,1231.1 L1056.6,1230.0 L1055.7,1229.0 L1054.8,1228.0 L1053.8,1226.9 L1052.9,1225.9 L1052.0,1224.8 L1051.0,1223.8 L1050.1,1222.8 L1049.2,1221.7 L1048.2,1220.7 L1047.3,1219.6 L1046.4,1218.6 L1045.6,1217.7 L1045.4,1217.6 L1044.4,1216.5 L1043.3,1215.5 L1042.3,1214.4 L1041.2,1213.4 L1040.1,1212.4 L1039.1,1211.3 L1038.0,1210.3 L1037.0,1209.2 L1035.9,1208.2 L1034.8,1207.2 L1033.8,1206.1 L1032.7,1205.1 L1031.7,1204.0 L1030.6,1203.0 L1029.6,1202.0 L1028.5,1200.9 L1027.4,1199.9 L1026.4,1198.8 L1025.3,1197.8 L1024.3,1196.8 L1023.2,1195.7 L1022.2,1194.7 L1021.1,1193.6 L1020.0,1192.6 L1019.0,1191.6 L1017.9,1190.5 L1016.9,1189.5 L1015.8,1188.4 L1014.8,1187.4 L1013.7,1186.4 L1012.6,1185.3 L1011.6,1184.3 L1010.5,1183.2 L1009.5,1182.2 L1008.4,1181.1 L1007.3,1180.1 L1006.3,1179.1 L1005.2,1178.0 L1004.2,1177.0 L1003.1,1175.9 L1002.1,1174.9 L1001.0,1173.9 L999.9,1172.8 L998.9,1171.8 L997.8,1170.7 L996.8,1169.7 L995.7,1168.7 L994.7,1167.6 L993.6,1166.6 L992.5,1165.5 L991.5,1164.5 L990.4,1163.5 L989.4,1162.4 L988.3,1161.4 L987.3,1160.3 L986.2,1159.3 L985.1,1158.3 L984.1,1157.2 L983.0,1156.2 L982.0,1155.1 L980.9,1154.1 L979.8,1153.1 L978.8,1152.0 L977.7,1151.0 L976.7,1149.9 L975.6,1148.9 L974.6,1147.9 L973.5,1146.8 L972.4,1145.8 L971.4,1144.7 L970.3,1143.7 L969.3,1142.7 L968.2,1141.6 L967.2,1140.6 L966.1,1139.5 L965.0,1138.5 L964.5,1138.0 L963.9,1137.5 L962.8,1136.4 L961.6,1135.4 L960.4,1134.3 L959.3,1133.3 L958.1,1132.3 L956.9,1131.2 L955.7,1130.2 L954.6,1129.1 L953.4,1128.1Z" fill="#d62728" fill-opacity="0.4"/><path d="M1486.8,1736.6 L1488.1,1737.7 L1489.4,1738.7 L1490.7,1739.7 L1492.0,1740.8 L1492.7,1741.3 L1493.7,1741.8 L1495.7,1742.9 L1497.7,1743.9 L1499.7,1744.9 L1501.7,1746.0 L1503.7,1747.0 L1505.7,1748.1 L1507.7,1749.1 L1509.7,1750.1 L1511.7,1751.2 L1513.7,1752.2 L1515.7,1753.3 L1517.7,1754.3 L1519.7,1755.3 L1521.7,1756.4 L1523.7,1757.4 L1523.9,1757.4 L1522.0,1756.4 L1520.2,1755.3 L1518.4,1754.3 L1516.6,1753.3 L1514.7,1752.2 L1512.9,1751.2 L1511.1,1750.1 L1509.3,1749.1 L1507.4,1748.1 L1505.6,1747.0 L1503.8,1746.0 L1502.0,1744.9 L1500.1,1743.9 L1498.3,1742.9 L1496.5,1741.8 L1495.6,1741.3 L1494.6,1740.8 L1492.8,1739.7 L1491.0,1738.7 L1489.2,1737.7 L1487.3,1736.6Z" fill="#d62728" fill-opacity="0.4"/>
<g stroke="#b0b0b0" stroke-width="2.6" fill="none">
<path d="M-1298.0,1791.5 L-379.6,199.2"/>
<path d="M-1104.4,1791.5 L-185.9,199.2"/>
<path d="M-910.8,1791.5 L7.7,199.2"/>
<path d="M-717.1,1791.5 L201.3,199.2"/>
<path d="M-523.5,1791.5 L394.9,199.2"/>
<path d="M-329.9,1791.5 L588.6,199.2"/>
<path d="M-136.2,1791.5 L782.2,199.2"/>
<path d="M57.4,1791.5 L975.8,199.2"/>
<path d="M251.0,1791.5 L1169.4,199.2"/>
<path d="M444.6,1791.5 L1363.1,199.2"/>
<path d="M638.2,1791.5 L1556.7,199.2"/>
<path d="M831.9,1791.5 L1750.3,199.2"/>
<path d="M1025.5,1791.5 L1943.9,199.2"/>
<path d="M1219.1,1791.5 L2137.6,199.2"/>
<path d="M1412.8,1791.5 L2331.2,199.2"/>
<path d="M1606.4,1791.5 L2524.8,199.2"/>
<path d="M1800.0,1791.5 L2718.4,199.2"/>
</g>
<g fill="none">
<path d="M251.0,668.6 H1800.0" stroke="#a0a0a0" stroke-opacity="0.28" stroke-width="7.0"/>
<path d="M251.0,668.9 H1800.0" stroke="#b0b0b0" stroke-width="2.6"/>
<path d="M251.0,943.2 H1800.0" stroke="#a0a0a0" stroke-opacity="0.28" stroke-width="7.0"/>
<path d="M251.0,943.5 H1800.0" stroke="#b0b0b0" stroke-width="2.6"/>
<path d="M251.0,1138.0 H1800.0" stroke="#a0a0a0" stroke-opacity="0.28" stroke-width="7.0"/>
<path d="M251.0,1138.3 H1800.0" stroke="#b0b0b0" stroke-width="2.6"/>
<path d="M251.0,1289.1 H1800.0" stroke="#a0a0a0" stroke-opacity="0.28" stroke-width="7.0"/>
<path d="M251.0,1289.4 H1800.0" stroke="#b0b0b0" stroke-width="2.6"/>
<path d="M251.0,1412.5 H1800.0" stroke="#a0a0a0" stroke-opacity="0.28" stroke-width="7.0"/>
<path d="M251.0,1412.8 H1800.0" stroke="#b0b0b0" stroke-width="2.6"/>
<path d="M251.0,1516.9 H1800.0" stroke="#a0a0a0" stroke-opacity="0.28" stroke-width="7.0"/>
<path d="M251.0,1517.2 H1800.0" stroke="#b0b0b0" stroke-width="2.6"/>
<path d="M251.0,1607.4 H1800.0" stroke="#a0a0a0" stroke-opacity="0.28" stroke-width="7.0"/>
<path d="M251.0,1607.7 H1800.0" stroke="#b0b0b0" stroke-width="2.6"/>
<path d="M251.0,1687.1 H1800.0" stroke="#a0a0a0" stroke-opacity="0.28" stroke-width="7.0"/>
<path d="M251.0,1687.4 H1800.0" stroke="#b0b0b0" stroke-width="2.6"/>
<path d="M251.0,1758.5 H1800.0" stroke="#a0a0a0" stroke-opacity="0.28" stroke-width="7.0"/>
<path d="M251.0,1758.8 H1800.0" stroke="#b0b0b0" stroke-width="2.6"/>
</g>
<g stroke="#ff0000" stroke-opacity="0.5" stroke-width="2.5" fill="none" stroke-dasharray="9.4 5.8">
<path d="M314.4,1791.5 L300.8,1781.5 L287.4,1771.5 L274.0,1761.5 L260.7,1751.4 L247.5,1741.4 L234.4,1731.4 L221.3,1721.4 L208.4,1711.4 L195.5,1701.4 L182.6,1691.4 L169.9,1681.3 L157.2,1671.3 L144.7,1661.3 L132.1,1651.3 L119.7,1641.3 L107.4,1631.3 L95.1,1621.3 L82.9,1611.2 L70.7,1601.2 L58.7,1591.2 L46.7,1581.2 L34.8,1571.2 L23.0,1561.2 L11.2,1551.2 L-0.4,1541.1 L-12.0,1531.1 L-23.6,1521.1 L-35.0,1511.1 L-46.4,1501.1 L-57.7,1491.1 L-69.0,1481.1 L-80.1,1471.0 L-91.2,1461.0 L-102.3,1451.0 L-113.2,1441.0 L-124.1,1431.0 L-134.9,1421.0 L-145.7,1411.0 L-156.4,1400.9 L-167.0,1390.9 L-177.5,1380.9 L-188.0,1370.9 L-198.4,1360.9 L-208.7,1350.9 L-219.0,1340.8 L-229.2,1330.8 L-239.3,1320.8 L-249.4,1310.8 L-259.4,1300.8 L-269.3,1290.8 L-279.2,1280.8 L-289.0,1270.7 L-298.7,1260.7 L-308.4,1250.7 L-318.0,1240.7 L-327.5,1230.7 L-337.0,1220.7 L-346.4,1210.7 L-355.7,1200.6 L-365.0,1190.6 L-374.2,1180.6 L-383.4,1170.6 L-392.5,1160.6 L-401.5,1150.6 L-410.5,1140.6 L-419.4,1130.5 L-428.2,1120.5 L-437.0,1110.5 L-445.7,1100.5 L-454.4,1090.5 L-463.0,1080.5 L-471.5,1070.5 L-480.0,1060.4 L-488.4,1050.4 L-496.8,1040.4 L-505.1,1030.4 L-513.3,1020.4 L-521.5,1010.4 L-529.6,1000.4 L-537.7,990.3 L-545.7,980.3 L-553.6,970.3 L-561.5,960.3 L-569.3,950.3 L-577.1,940.3 L-584.8,930.3 L-592.5,920.2 L-600.1,910.2 L-607.6,900.2 L-615.1,890.2 L-622.6,880.2 L-629.9,870.2 L-637.3,860.2 L-644.5,850.1 L-651.7,840.1 L-658.9,830.1 L-666.0,820.1 L-673.0,810.1 L-680.0,800.1 L-687.0,790.1 L-693.9,780.0 L-700.7,770.0 L-707.5,760.0 L-714.2,750.0 L-720.9,740.0 L-727.5,730.0 L-734.1,720.0 L-740.6,709.9 L-747.1,699.9 L-753.5,689.9 L-759.9,679.9 L-766.2,669.9 L-772.4,659.9 L-778.7,649.9 L-784.8,639.8 L-790.9,629.8 L-797.0,619.8 L-803.0,609.8 L-809.0,599.8 L-814.9,589.8 L-820.7,579.7 L-826.6,569.7 L-832.3,559.7 L-838.0,549.7 L-843.7,539.7 L-849.3,529.7 L-854.9,519.7 L-860.4,509.6 L-865.9,499.6 L-871.3,489.6 L-876.7,479.6 L-882.0,469.6 L-887.3,459.6 L-892.6,449.6 L-897.8,439.5 L-902.9,429.5 L-908.0,419.5 L-913.1,409.5 L-918.1,399.5 L-923.1,389.5 L-928.0,379.5 L-932.9,369.4 L-937.7,359.4 L-942.5,349.4 L-947.2,339.4 L-951.9,329.4 L-956.6,319.4 L-961.2,309.4 L-965.7,299.3 L-970.3,289.3 L-974.8,279.3 L-979.2,269.3 L-983.6,259.3 L-987.9,249.3 L-992.2,239.3 L-996.5,229.2 L-1000.7,219.2 L-1004.9,209.2 L-1009.0,199.2"/>
<path d="M510.7,1791.5 L496.4,1781.5 L482.1,1771.5 L467.9,1761.5 L453.8,1751.4 L439.8,1741.4 L425.8,1731.4 L412.0,1721.4 L398.2,1711.4 L384.5,1701.4 L370.9,1691.4 L357.3,1681.3 L343.9,1671.3 L330.5,1661.3 L317.2,1651.3 L304.0,1641.3 L290.9,1631.3 L277.8,1621.3 L264.8,1611.2 L251.9,1601.2 L239.1,1591.2 L226.4,1581.2 L213.7,1571.2 L201.2,1561.2 L188.6,1551.2 L176.2,1541.1 L163.9,1531.1 L151.6,1521.1 L139.4,1511.1 L127.3,1501.1 L115.2,1491.1 L103.3,1481.1 L91.4,1471.0 L79.5,1461.0 L67.8,1451.0 L56.1,1441.0 L44.5,1431.0 L33.0,1421.0 L21.5,1411.0 L10.2,1400.9 L-1.2,1390.9 L-12.4,1380.9 L-23.6,1370.9 L-34.7,1360.9 L-45.7,1350.9 L-56.6,1340.8 L-67.5,1330.8 L-78.3,1320.8 L-89.1,1310.8 L-99.7,1300.8 L-110.3,1290.8 L-120.9,1280.8 L-131.3,1270.7 L-141.7,1260.7 L-152.1,1250.7 L-162.3,1240.7 L-172.5,1230.7 L-182.7,1220.7 L-192.7,1210.7 L-202.7,1200.6 L-212.6,1190.6 L-222.5,1180.6 L-232.3,1170.6 L-242.0,1160.6 L-251.7,1150.6 L-261.3,1140.6 L-270.8,1130.5 L-280.3,1120.5 L-289.7,1110.5 L-299.0,1100.5 L-308.3,1090.5 L-317.5,1080.5 L-326.7,1070.5 L-335.8,1060.4 L-344.8,1050.4 L-353.7,1040.4 L-362.6,1030.4 L-371.5,1020.4 L-380.3,1010.4 L-389.0,1000.4 L-397.6,990.3 L-406.2,980.3 L-414.8,970.3 L-423.2,960.3 L-431.6,950.3 L-440.0,940.3 L-448.3,930.3 L-456.5,920.2 L-464.7,910.2 L-472.8,900.2 L-480.9,890.2 L-488.9,880.2 L-496.8,870.2 L-504.7,860.2 L-512.5,850.1 L-520.3,840.1 L-528.0,830.1 L-535.7,820.1 L-543.3,810.1 L-550.8,800.1 L-558.3,790.1 L-565.7,780.0 L-573.1,770.0 L-580.4,760.0 L-587.7,750.0 L-594.9,740.0 L-602.1,730.0 L-609.2,720.0 L-616.2,709.9 L-623.2,699.9 L-630.1,689.9 L-637.0,679.9 L-643.9,669.9 L-650.6,659.9 L-657.4,649.9 L-664.0,639.8 L-670.7,629.8 L-677.2,619.8 L-683.7,609.8 L-690.2,599.8 L-696.6,589.8 L-703.0,579.7 L-709.3,569.7 L-715.6,559.7 L-721.8,549.7 L-727.9,539.7 L-734.0,529.7 L-740.1,519.7 L-746.1,509.6 L-752.1,499.6 L-758.0,489.6 L-763.8,479.6 L-769.6,469.6 L-775.4,459.6 L-781.1,449.6 L-786.8,439.5 L-792.4,429.5 L-798.0,419.5 L-803.5,409.5 L-809.0,399.5 L-814.4,389.5 L-819.8,379.5 L-825.1,369.4 L-830.4,359.4 L-835.6,349.4 L-840.8,339.4 L-846.0,329.4 L-851.1,319.4 L-856.1,309.4 L-861.1,299.3 L-866.1,289.3 L-871.0,279.3 L-875.9,269.3 L-880.7,259.3 L-885.5,249.3 L-890.2,239.3 L-894.9,229.2 L-899.6,219.2 L-904.2,209.2 L-908.8,199.2"/>
<path d="M707.1,1791.5 L691.9,1781.5 L676.8,1771.5 L661.8,1761.5 L646.9,1751.4 L632.0,1741.4 L617.2,1731.4 L602.6,1721.4 L588.0,1711.4 L573.5,1701.4 L559.1,1691.4 L544.8,1681.3 L530.5,1671.3 L516.3,1661.3 L502.3,1651.3 L488.3,1641.3 L474.4,1631.3 L460.5,1621.3 L446.8,1611.2 L433.1,1601.2 L419.6,1591.2 L406.1,1581.2 L392.6,1571.2 L379.3,1561.2 L366.1,1551.2 L352.9,1541.1 L339.8,1531.1 L326.8,1521.1 L313.8,1511.1 L301.0,1501.1 L288.2,1491.1 L275.5,1481.1 L262.9,1471.0 L250.3,1461.0 L237.9,1451.0 L225.5,1441.0 L213.2,1431.0 L200.9,1421.0 L188.8,1411.0 L176.7,1400.9 L164.7,1390.9 L152.7,1380.9 L140.9,1370.9 L129.1,1360.9 L117.4,1350.9 L105.7,1340.8 L94.1,1330.8 L82.7,1320.8 L71.2,1310.8 L59.9,1300.8 L48.6,1290.8 L37.4,1280.8 L26.3,1270.7 L15.2,1260.7 L4.2,1250.7 L-6.7,1240.7 L-17.6,1230.7 L-28.3,1220.7 L-39.0,1210.7 L-49.7,1200.6 L-60.3,1190.6 L-70.8,1180.6 L-81.2,1170.6 L-91.6,1160.6 L-101.9,1150.6 L-112.1,1140.6 L-122.2,1130.5 L-132.3,1120.5 L-142.4,1110.5 L-152.3,1100.5 L-162.2,1090.5 L-172.1,1080.5 L-181.8,1070.5 L-191.5,1060.4 L-201.2,1050.4 L-210.7,1040.4 L-220.2,1030.4 L-229.7,1020.4 L-239.0,1010.4 L-248.4,1000.4 L-257.6,990.3 L-266.8,980.3 L-275.9,970.3 L-285.0,960.3 L-294.0,950.3 L-302.9,940.3 L-311.8,930.3 L-320.6,920.2 L-329.3,910.2 L-338.0,900.2 L-346.6,890.2 L-355.2,880.2 L-363.7,870.2 L-372.2,860.2 L-380.6,850.1 L-388.9,840.1 L-397.1,830.1 L-405.4,820.1 L-413.5,810.1 L-421.6,800.1 L-429.6,790.1 L-437.6,780.0 L-445.5,770.0 L-453.4,760.0 L-461.2,750.0 L-468.9,740.0 L-476.6,730.0 L-484.2,720.0 L-491.8,709.9 L-499.3,699.9 L-506.8,689.9 L-514.2,679.9 L-521.5,669.9 L-528.8,659.9 L-536.1,649.9 L-543.3,639.8 L-550.4,629.8 L-557.5,619.8 L-564.5,609.8 L-571.5,599.8 L-578.4,589.8 L-585.2,579.7 L-592.0,569.7 L-598.8,559.7 L-605.5,549.7 L-612.1,539.7 L-618.7,529.7 L-625.3,519.7 L-631.8,509.6 L-638.2,499.6 L-644.6,489.6 L-650.9,479.6 L-657.2,469.6 L-663.5,459.6 L-669.7,449.6 L-675.8,439.5 L-681.9,429.5 L-687.9,419.5 L-693.9,409.5 L-699.8,399.5 L-705.7,389.5 L-711.6,379.5 L-717.3,369.4 L-723.1,359.4 L-728.8,349.4 L-734.4,339.4 L-740.0,329.4 L-745.6,319.4 L-751.1,309.4 L-756.5,299.3 L-761.9,289.3 L-767.3,279.3 L-772.6,269.3 L-777.9,259.3 L-783.1,249.3 L-788.2,239.3 L-793.4,229.2 L-798.4,219.2 L-803.5,209.2 L-808.5,199.2"/>
<path d="M903.4,1791.5 L887.4,1781.5 L871.5,1771.5 L855.6,1761.5 L839.9,1751.4 L824.2,1741.4 L808.7,1731.4 L793.2,1721.4 L777.8,1711.4 L762.5,1701.4 L747.3,1691.4 L732.2,1681.3 L717.1,1671.3 L702.2,1661.3 L687.3,1651.3 L672.6,1641.3 L657.9,1631.3 L643.3,1621.3 L628.8,1611.2 L614.3,1601.2 L600.0,1591.2 L585.7,1581.2 L571.6,1571.2 L557.5,1561.2 L543.5,1551.2 L529.5,1541.1 L515.7,1531.1 L501.9,1521.1 L488.3,1511.1 L474.7,1501.1 L461.2,1491.1 L447.7,1481.1 L434.4,1471.0 L421.1,1461.0 L407.9,1451.0 L394.8,1441.0 L381.8,1431.0 L368.8,1421.0 L356.0,1411.0 L343.2,1400.9 L330.5,1390.9 L317.8,1380.9 L305.3,1370.9 L292.8,1360.9 L280.4,1350.9 L268.1,1340.8 L255.8,1330.8 L243.6,1320.8 L231.5,1310.8 L219.5,1300.8 L207.6,1290.8 L195.7,1280.8 L183.9,1270.7 L172.2,1260.7 L160.5,1250.7 L148.9,1240.7 L137.4,1230.7 L126.0,1220.7 L114.6,1210.7 L103.3,1200.6 L92.1,1190.6 L81.0,1180.6 L69.9,1170.6 L58.9,1160.6 L48.0,1150.6 L37.1,1140.6 L26.3,1130.5 L15.6,1120.5 L4.9,1110.5 L-5.6,1100.5 L-16.2,1090.5 L-26.6,1080.5 L-37.0,1070.5 L-47.3,1060.4 L-57.5,1050.4 L-67.7,1040.4 L-77.8,1030.4 L-87.9,1020.4 L-97.8,1010.4 L-107.7,1000.4 L-117.6,990.3 L-127.4,980.3 L-137.1,970.3 L-146.7,960.3 L-156.3,950.3 L-165.8,940.3 L-175.3,930.3 L-184.6,920.2 L-194.0,910.2 L-203.2,900.2 L-212.4,890.2 L-221.5,880.2 L-230.6,870.2 L-239.6,860.2 L-248.6,850.1 L-257.5,840.1 L-266.3,830.1 L-275.0,820.1 L-283.7,810.1 L-292.4,800.1 L-300.9,790.1 L-309.5,780.0 L-317.9,770.0 L-326.3,760.0 L-334.6,750.0 L-342.9,740.0 L-351.1,730.0 L-359.3,720.0 L-367.4,709.9 L-375.4,699.9 L-383.4,689.9 L-391.4,679.9 L-399.2,669.9 L-407.0,659.9 L-414.8,649.9 L-422.5,639.8 L-430.1,629.8 L-437.7,619.8 L-445.2,609.8 L-452.7,599.8 L-460.1,589.8 L-467.5,579.7 L-474.8,569.7 L-482.0,559.7 L-489.2,549.7 L-496.4,539.7 L-503.4,529.7 L-510.5,519.7 L-517.5,509.6 L-524.4,499.6 L-531.2,489.6 L-538.1,479.6 L-544.8,469.6 L-551.5,459.6 L-558.2,449.6 L-564.8,439.5 L-571.4,429.5 L-577.9,419.5 L-584.3,409.5 L-590.7,399.5 L-597.0,389.5 L-603.3,379.5 L-609.6,369.4 L-615.8,359.4 L-621.9,349.4 L-628.0,339.4 L-634.1,329.4 L-640.1,319.4 L-646.0,309.4 L-651.9,299.3 L-657.7,289.3 L-663.5,279.3 L-669.3,269.3 L-675.0,259.3 L-680.6,249.3 L-686.2,239.3 L-691.8,229.2 L-697.3,219.2 L-702.8,209.2 L-708.2,199.2"/>
<path d="M1099.7,1791.5 L1082.9,1781.5 L1066.2,1771.5 L1049.5,1761.5 L1033.0,1751.4 L1016.5,1741.4 L1000.1,1731.4 L983.8,1721.4 L967.6,1711.4 L951.5,1701.4 L935.5,1691.4 L919.6,1681.3 L903.8,1671.3 L888.0,1661.3 L872.4,1651.3 L856.9,1641.3 L841.4,1631.3 L826.0,1621.3 L810.7,1611.2 L795.5,1601.2 L780.4,1591.2 L765.4,1581.2 L750.5,1571.2 L735.6,1561.2 L720.9,1551.2 L706.2,1541.1 L691.6,1531.1 L677.1,1521.1 L662.7,1511.1 L648.4,1501.1 L634.1,1491.1 L620.0,1481.1 L605.9,1471.0 L591.9,1461.0 L578.0,1451.0 L564.2,1441.0 L550.4,1431.0 L536.8,1421.0 L523.2,1411.0 L509.7,1400.9 L496.3,1390.9 L482.9,1380.9 L469.7,1370.9 L456.5,1360.9 L443.4,1350.9 L430.4,1340.8 L417.5,1330.8 L404.6,1320.8 L391.8,1310.8 L379.1,1300.8 L366.5,1290.8 L354.0,1280.8 L341.5,1270.7 L329.1,1260.7 L316.8,1250.7 L304.6,1240.7 L292.4,1230.7 L280.3,1220.7 L268.3,1210.7 L256.4,1200.6 L244.5,1190.6 L232.7,1180.6 L221.0,1170.6 L209.4,1160.6 L197.8,1150.6 L186.3,1140.6 L174.9,1130.5 L163.5,1120.5 L152.2,1110.5 L141.0,1100.5 L129.9,1090.5 L118.8,1080.5 L107.9,1070.5 L96.9,1060.4 L86.1,1050.4 L75.3,1040.4 L64.6,1030.4 L54.0,1020.4 L43.4,1010.4 L32.9,1000.4 L22.5,990.3 L12.1,980.3 L1.8,970.3 L-8.4,960.3 L-18.6,950.3 L-28.7,940.3 L-38.7,930.3 L-48.7,920.2 L-58.6,910.2 L-68.4,900.2 L-78.2,890.2 L-87.9,880.2 L-97.5,870.2 L-107.1,860.2 L-116.6,850.1 L-126.0,840.1 L-135.4,830.1 L-144.7,820.1 L-154.0,810.1 L-163.1,800.1 L-172.3,790.1 L-181.3,780.0 L-190.3,770.0 L-199.3,760.0 L-208.1,750.0 L-216.9,740.0 L-225.7,730.0 L-234.4,720.0 L-243.0,709.9 L-251.6,699.9 L-260.1,689.9 L-268.5,679.9 L-276.9,669.9 L-285.2,659.9 L-293.5,649.9 L-301.7,639.8 L-309.8,629.8 L-317.9,619.8 L-326.0,609.8 L-333.9,599.8 L-341.9,589.8 L-349.7,579.7 L-357.5,569.7 L-365.3,559.7 L-372.9,549.7 L-380.6,539.7 L-388.2,529.7 L-395.7,519.7 L-403.1,509.6 L-410.5,499.6 L-417.9,489.6 L-425.2,479.6 L-432.4,469.6 L-439.6,459.6 L-446.7,449.6 L-453.8,439.5 L-460.8,429.5 L-467.8,419.5 L-474.7,409.5 L-481.6,399.5 L-488.4,389.5 L-495.1,379.5 L-501.8,369.4 L-508.5,359.4 L-515.1,349.4 L-521.6,339.4 L-528.1,329.4 L-534.6,319.4 L-540.9,309.4 L-547.3,299.3 L-553.6,289.3 L-559.8,279.3 L-566.0,269.3 L-572.1,259.3 L-578.2,249.3 L-584.3,239.3 L-590.2,229.2 L-596.2,219.2 L-602.1,209.2 L-607.9,199.2"/>
<path d="M1296.1,1791.5 L1278.4,1781.5 L1260.9,1771.5 L1243.4,1761.5 L1226.0,1751.4 L1208.7,1741.4 L1191.5,1731.4 L1174.4,1721.4 L1157.4,1711.4 L1140.5,1701.4 L1123.7,1691.4 L1107.0,1681.3 L1090.4,1671.3 L1073.9,1661.3 L1057.5,1651.3 L1041.1,1641.3 L1024.9,1631.3 L1008.7,1621.3 L992.7,1611.2 L976.7,1601.2 L960.9,1591.2 L945.1,1581.2 L929.4,1571.2 L913.8,1561.2 L898.3,1551.2 L882.9,1541.1 L867.5,1531.1 L852.3,1521.1 L837.1,1511.1 L822.1,1501.1 L807.1,1491.1 L792.2,1481.1 L777.4,1471.0 L762.7,1461.0 L748.1,1451.0 L733.5,1441.0 L719.1,1431.0 L704.7,1421.0 L690.4,1411.0 L676.2,1400.9 L662.1,1390.9 L648.1,1380.9 L634.1,1370.9 L620.2,1360.9 L606.5,1350.9 L592.8,1340.8 L579.1,1330.8 L565.6,1320.8 L552.1,1310.8 L538.8,1300.8 L525.5,1290.8 L512.2,1280.8 L499.1,1270.7 L486.1,1260.7 L473.1,1250.7 L460.2,1240.7 L447.4,1230.7 L434.6,1220.7 L422.0,1210.7 L409.4,1200.6 L396.9,1190.6 L384.4,1180.6 L372.1,1170.6 L359.8,1160.6 L347.6,1150.6 L335.5,1140.6 L323.4,1130.5 L311.5,1120.5 L299.6,1110.5 L287.7,1100.5 L276.0,1090.5 L264.3,1080.5 L252.7,1070.5 L241.2,1060.4 L229.7,1050.4 L218.3,1040.4 L207.0,1030.4 L195.8,1020.4 L184.6,1010.4 L173.5,1000.4 L162.5,990.3 L151.5,980.3 L140.6,970.3 L129.8,960.3 L119.1,950.3 L108.4,940.3 L97.8,930.3 L87.3,920.2 L76.8,910.2 L66.4,900.2 L56.1,890.2 L45.8,880.2 L35.6,870.2 L25.5,860.2 L15.4,850.1 L5.4,840.1 L-4.5,830.1 L-14.4,820.1 L-24.2,810.1 L-33.9,800.1 L-43.6,790.1 L-53.2,780.0 L-62.7,770.0 L-72.2,760.0 L-81.6,750.0 L-90.9,740.0 L-100.2,730.0 L-109.4,720.0 L-118.6,709.9 L-127.7,699.9 L-136.7,689.9 L-145.7,679.9 L-154.6,669.9 L-163.4,659.9 L-172.2,649.9 L-180.9,639.8 L-189.6,629.8 L-198.2,619.8 L-206.7,609.8 L-215.2,599.8 L-223.6,589.8 L-232.0,579.7 L-240.3,569.7 L-248.5,559.7 L-256.7,549.7 L-264.8,539.7 L-272.9,529.7 L-280.9,519.7 L-288.8,509.6 L-296.7,499.6 L-304.5,489.6 L-312.3,479.6 L-320.0,469.6 L-327.7,459.6 L-335.3,449.6 L-342.8,439.5 L-350.3,429.5 L-357.7,419.5 L-365.1,409.5 L-372.4,399.5 L-379.7,389.5 L-386.9,379.5 L-394.1,369.4 L-401.2,359.4 L-408.2,349.4 L-415.2,339.4 L-422.2,329.4 L-429.1,319.4 L-435.9,309.4 L-442.7,299.3 L-449.4,289.3 L-456.1,279.3 L-462.7,269.3 L-469.3,259.3 L-475.8,249.3 L-482.3,239.3 L-488.7,229.2 L-495.0,219.2 L-501.3,209.2 L-507.6,199.2"/>
<path d="M1492.4,1791.5 L1473.9,1781.5 L1455.5,1771.5 L1437.3,1761.5 L1419.1,1751.4 L1401.0,1741.4 L1383.0,1731.4 L1365.1,1721.4 L1347.3,1711.4 L1329.6,1701.4 L1312.0,1691.4 L1294.5,1681.3 L1277.1,1671.3 L1259.7,1661.3 L1242.5,1651.3 L1225.4,1641.3 L1208.4,1631.3 L1191.5,1621.3 L1174.7,1611.2 L1157.9,1601.2 L1141.3,1591.2 L1124.8,1581.2 L1108.3,1571.2 L1092.0,1561.2 L1075.7,1551.2 L1059.5,1541.1 L1043.5,1531.1 L1027.5,1521.1 L1011.6,1511.1 L995.8,1501.1 L980.1,1491.1 L964.5,1481.1 L948.9,1471.0 L933.5,1461.0 L918.1,1451.0 L902.9,1441.0 L887.7,1431.0 L872.6,1421.0 L857.6,1411.0 L842.7,1400.9 L827.9,1390.9 L813.2,1380.9 L798.5,1370.9 L784.0,1360.9 L769.5,1350.9 L755.1,1340.8 L740.8,1330.8 L726.6,1320.8 L712.4,1310.8 L698.4,1300.8 L684.4,1290.8 L670.5,1280.8 L656.7,1270.7 L643.0,1260.7 L629.4,1250.7 L615.8,1240.7 L602.3,1230.7 L588.9,1220.7 L575.6,1210.7 L562.4,1200.6 L549.2,1190.6 L536.2,1180.6 L523.2,1170.6 L510.3,1160.6 L497.4,1150.6 L484.7,1140.6 L472.0,1130.5 L459.4,1120.5 L446.9,1110.5 L434.4,1100.5 L422.1,1090.5 L409.8,1080.5 L397.5,1070.5 L385.4,1060.4 L373.3,1050.4 L361.3,1040.4 L349.4,1030.4 L337.6,1020.4 L325.8,1010.4 L314.1,1000.4 L302.5,990.3 L291.0,980.3 L279.5,970.3 L268.1,960.3 L256.8,950.3 L245.5,940.3 L234.3,930.3 L223.2,920.2 L212.2,910.2 L201.2,900.2 L190.3,890.2 L179.5,880.2 L168.7,870.2 L158.0,860.2 L147.4,850.1 L136.8,840.1 L126.4,830.1 L115.9,820.1 L105.6,810.1 L95.3,800.1 L85.1,790.1 L75.0,780.0 L64.9,770.0 L54.9,760.0 L44.9,750.0 L35.0,740.0 L25.2,730.0 L15.5,720.0 L5.8,709.9 L-3.8,699.9 L-13.4,689.9 L-22.8,679.9 L-32.3,669.9 L-41.6,659.9 L-50.9,649.9 L-60.1,639.8 L-69.3,629.8 L-78.4,619.8 L-87.5,609.8 L-96.4,599.8 L-105.4,589.8 L-114.2,579.7 L-123.0,569.7 L-131.7,559.7 L-140.4,549.7 L-149.0,539.7 L-157.6,529.7 L-166.1,519.7 L-174.5,509.6 L-182.9,499.6 L-191.2,489.6 L-199.4,479.6 L-207.6,469.6 L-215.7,459.6 L-223.8,449.6 L-231.8,439.5 L-239.8,429.5 L-247.7,419.5 L-255.5,409.5 L-263.3,399.5 L-271.0,389.5 L-278.7,379.5 L-286.3,369.4 L-293.9,359.4 L-301.4,349.4 L-308.8,339.4 L-316.2,329.4 L-323.5,319.4 L-330.8,309.4 L-338.1,299.3 L-345.2,289.3 L-352.3,279.3 L-359.4,269.3 L-366.4,259.3 L-373.4,249.3 L-380.3,239.3 L-387.1,229.2 L-393.9,219.2 L-400.6,209.2 L-407.3,199.2"/>
<path d="M1688.8,1791.5 L1669.5,1781.5 L1650.2,1771.5 L1631.1,1761.5 L1612.1,1751.4 L1593.2,1741.4 L1574.4,1731.4 L1555.7,1721.4 L1537.1,1711.4 L1518.6,1701.4 L1500.2,1691.4 L1481.9,1681.3 L1463.7,1671.3 L1445.6,1661.3 L1427.6,1651.3 L1409.7,1641.3 L1391.9,1631.3 L1374.2,1621.3 L1356.6,1611.2 L1339.1,1601.2 L1321.7,1591.2 L1304.4,1581.2 L1287.2,1571.2 L1270.1,1561.2 L1253.1,1551.2 L1236.2,1541.1 L1219.4,1531.1 L1202.6,1521.1 L1186.0,1511.1 L1169.5,1501.1 L1153.0,1491.1 L1136.7,1481.1 L1120.4,1471.0 L1104.3,1461.0 L1088.2,1451.0 L1072.2,1441.0 L1056.3,1431.0 L1040.6,1421.0 L1024.8,1411.0 L1009.2,1400.9 L993.7,1390.9 L978.3,1380.9 L962.9,1370.9 L947.7,1360.9 L932.5,1350.9 L917.4,1340.8 L902.5,1330.8 L887.6,1320.8 L872.7,1310.8 L858.0,1300.8 L843.4,1290.8 L828.8,1280.8 L814.3,1270.7 L800.0,1260.7 L785.7,1250.7 L771.4,1240.7 L757.3,1230.7 L743.3,1220.7 L729.3,1210.7 L715.4,1200.6 L701.6,1190.6 L687.9,1180.6 L674.3,1170.6 L660.7,1160.6 L647.3,1150.6 L633.9,1140.6 L620.6,1130.5 L607.3,1120.5 L594.2,1110.5 L581.1,1100.5 L568.1,1090.5 L555.2,1080.5 L542.4,1070.5 L529.6,1060.4 L517.0,1050.4 L504.4,1040.4 L491.8,1030.4 L479.4,1020.4 L467.0,1010.4 L454.7,1000.4 L442.5,990.3 L430.4,980.3 L418.3,970.3 L406.3,960.3 L394.4,950.3 L382.6,940.3 L370.8,930.3 L359.2,920.2 L347.5,910.2 L336.0,900.2 L324.5,890.2 L313.1,880.2 L301.8,870.2 L290.6,860.2 L279.4,850.1 L268.3,840.1 L257.2,830.1 L246.3,820.1 L235.4,810.1 L224.5,800.1 L213.8,790.1 L203.1,780.0 L192.5,770.0 L181.9,760.0 L171.4,750.0 L161.0,740.0 L150.7,730.0 L140.4,720.0 L130.2,709.9 L120.1,699.9 L110.0,689.9 L100.0,679.9 L90.1,669.9 L80.2,659.9 L70.4,649.9 L60.6,639.8 L51.0,629.8 L41.3,619.8 L31.8,609.8 L22.3,599.8 L12.9,589.8 L3.5,579.7 L-5.7,569.7 L-15.0,559.7 L-24.1,549.7 L-33.2,539.7 L-42.3,529.7 L-51.2,519.7 L-60.2,509.6 L-69.0,499.6 L-77.8,489.6 L-86.5,479.6 L-95.2,469.6 L-103.8,459.6 L-112.3,449.6 L-120.8,439.5 L-129.3,429.5 L-137.6,419.5 L-145.9,409.5 L-154.2,399.5 L-162.4,389.5 L-170.5,379.5 L-178.6,369.4 L-186.6,359.4 L-194.5,349.4 L-202.4,339.4 L-210.3,329.4 L-218.0,319.4 L-225.8,309.4 L-233.4,299.3 L-241.0,289.3 L-248.6,279.3 L-256.1,269.3 L-263.5,259.3 L-270.9,249.3 L-278.3,239.3 L-285.5,229.2 L-292.8,219.2 L-299.9,209.2 L-307.0,199.2"/>
<path d="M1885.1,1791.5 L1865.0,1781.5 L1844.9,1771.5 L1825.0,1761.5 L1805.2,1751.4 L1785.4,1741.4 L1765.8,1731.4 L1746.3,1721.4 L1726.9,1711.4 L1707.6,1701.4 L1688.4,1691.4 L1669.3,1681.3 L1650.3,1671.3 L1631.4,1661.3 L1612.7,1651.3 L1594.0,1641.3 L1575.4,1631.3 L1557.0,1621.3 L1538.6,1611.2 L1520.3,1601.2 L1502.2,1591.2 L1484.1,1581.2 L1466.1,1571.2 L1448.3,1561.2 L1430.5,1551.2 L1412.8,1541.1 L1395.3,1531.1 L1377.8,1521.1 L1360.5,1511.1 L1343.2,1501.1 L1326.0,1491.1 L1308.9,1481.1 L1292.0,1471.0 L1275.1,1461.0 L1258.3,1451.0 L1241.6,1441.0 L1225.0,1431.0 L1208.5,1421.0 L1192.1,1411.0 L1175.8,1400.9 L1159.5,1390.9 L1143.4,1380.9 L1127.4,1370.9 L1111.4,1360.9 L1095.6,1350.9 L1079.8,1340.8 L1064.1,1330.8 L1048.5,1320.8 L1033.0,1310.8 L1017.6,1300.8 L1002.3,1290.8 L987.1,1280.8 L972.0,1270.7 L956.9,1260.7 L941.9,1250.7 L927.1,1240.7 L912.3,1230.7 L897.6,1220.7 L883.0,1210.7 L868.4,1200.6 L854.0,1190.6 L839.6,1180.6 L825.4,1170.6 L811.2,1160.6 L797.1,1150.6 L783.1,1140.6 L769.1,1130.5 L755.3,1120.5 L741.5,1110.5 L727.8,1100.5 L714.2,1090.5 L700.7,1080.5 L687.2,1070.5 L673.9,1060.4 L660.6,1050.4 L647.4,1040.4 L634.3,1030.4 L621.2,1020.4 L608.3,1010.4 L595.4,1000.4 L582.6,990.3 L569.8,980.3 L557.2,970.3 L544.6,960.3 L532.1,950.3 L519.7,940.3 L507.4,930.3 L495.1,920.2 L482.9,910.2 L470.8,900.2 L458.8,890.2 L446.8,880.2 L434.9,870.2 L423.1,860.2 L411.4,850.1 L399.7,840.1 L388.1,830.1 L376.6,820.1 L365.1,810.1 L353.8,800.1 L342.5,790.1 L331.2,780.0 L320.1,770.0 L309.0,760.0 L298.0,750.0 L287.0,740.0 L276.2,730.0 L265.4,720.0 L254.6,709.9 L244.0,699.9 L233.4,689.9 L222.8,679.9 L212.4,669.9 L202.0,659.9 L191.7,649.9 L181.4,639.8 L171.2,629.8 L161.1,619.8 L151.1,609.8 L141.1,599.8 L131.2,589.8 L121.3,579.7 L111.5,569.7 L101.8,559.7 L92.1,549.7 L82.5,539.7 L73.0,529.7 L63.6,519.7 L54.2,509.6 L44.8,499.6 L35.6,489.6 L26.4,479.6 L17.2,469.6 L8.1,459.6 L-0.9,449.6 L-9.8,439.5 L-18.7,429.5 L-27.6,419.5 L-36.3,409.5 L-45.0,399.5 L-53.7,389.5 L-62.3,379.5 L-70.8,369.4 L-79.3,359.4 L-87.7,349.4 L-96.0,339.4 L-104.3,329.4 L-112.5,319.4 L-120.7,309.4 L-128.8,299.3 L-136.9,289.3 L-144.9,279.3 L-152.8,269.3 L-160.7,259.3 L-168.5,249.3 L-176.3,239.3 L-184.0,229.2 L-191.6,219.2 L-199.2,209.2 L-206.7,199.2"/>
<path d="M2081.5,1791.5 L2060.5,1781.5 L2039.6,1771.5 L2018.9,1761.5 L1998.2,1751.4 L1977.7,1741.4 L1957.2,1731.4 L1936.9,1721.4 L1916.7,1711.4 L1896.6,1701.4 L1876.6,1691.4 L1856.7,1681.3 L1837.0,1671.3 L1817.3,1661.3 L1797.7,1651.3 L1778.3,1641.3 L1758.9,1631.3 L1739.7,1621.3 L1720.5,1611.2 L1701.5,1601.2 L1682.6,1591.2 L1663.8,1581.2 L1645.0,1571.2 L1626.4,1561.2 L1607.9,1551.2 L1589.5,1541.1 L1571.2,1531.1 L1553.0,1521.1 L1534.9,1511.1 L1516.9,1501.1 L1499.0,1491.1 L1481.2,1481.1 L1463.5,1471.0 L1445.9,1461.0 L1428.3,1451.0 L1410.9,1441.0 L1393.6,1431.0 L1376.4,1421.0 L1359.3,1411.0 L1342.3,1400.9 L1325.3,1390.9 L1308.5,1380.9 L1291.8,1370.9 L1275.1,1360.9 L1258.6,1350.9 L1242.1,1340.8 L1225.8,1330.8 L1209.5,1320.8 L1193.3,1310.8 L1177.3,1300.8 L1161.3,1290.8 L1145.4,1280.8 L1129.6,1270.7 L1113.9,1260.7 L1098.2,1250.7 L1082.7,1240.7 L1067.3,1230.7 L1051.9,1220.7 L1036.6,1210.7 L1021.5,1200.6 L1006.4,1190.6 L991.4,1180.6 L976.5,1170.6 L961.6,1160.6 L946.9,1150.6 L932.2,1140.6 L917.7,1130.5 L903.2,1120.5 L888.8,1110.5 L874.5,1100.5 L860.3,1090.5 L846.1,1080.5 L832.1,1070.5 L818.1,1060.4 L804.2,1050.4 L790.4,1040.4 L776.7,1030.4 L763.0,1020.4 L749.5,1010.4 L736.0,1000.4 L722.6,990.3 L709.3,980.3 L696.0,970.3 L682.9,960.3 L669.8,950.3 L656.8,940.3 L643.9,930.3 L631.0,920.2 L618.3,910.2 L605.6,900.2 L593.0,890.2 L580.5,880.2 L568.0,870.2 L555.6,860.2 L543.3,850.1 L531.1,840.1 L519.0,830.1 L506.9,820.1 L494.9,810.1 L483.0,800.1 L471.1,790.1 L459.4,780.0 L447.7,770.0 L436.0,760.0 L424.5,750.0 L413.0,740.0 L401.6,730.0 L390.3,720.0 L379.0,709.9 L367.8,699.9 L356.7,689.9 L345.7,679.9 L334.7,669.9 L323.8,659.9 L313.0,649.9 L302.2,639.8 L291.5,629.8 L280.9,619.8 L270.3,609.8 L259.8,599.8 L249.4,589.8 L239.1,579.7 L228.8,569.7 L218.6,559.7 L208.4,549.7 L198.3,539.7 L188.3,529.7 L178.4,519.7 L168.5,509.6 L158.7,499.6 L148.9,489.6 L139.2,479.6 L129.6,469.6 L120.1,459.6 L110.6,449.6 L101.1,439.5 L91.8,429.5 L82.5,419.5 L73.3,409.5 L64.1,399.5 L55.0,389.5 L45.9,379.5 L36.9,369.4 L28.0,359.4 L19.2,349.4 L10.4,339.4 L1.6,329.4 L-7.0,319.4 L-15.7,309.4 L-24.2,299.3 L-32.7,289.3 L-41.1,279.3 L-49.5,269.3 L-57.8,259.3 L-66.1,249.3 L-74.3,239.3 L-82.4,229.2 L-90.5,219.2 L-98.5,209.2 L-106.5,199.2"/>
<path d="M2277.8,1791.5 L2256.0,1781.5 L2234.3,1771.5 L2212.7,1761.5 L2191.3,1751.4 L2169.9,1741.4 L2148.7,1731.4 L2127.5,1721.4 L2106.5,1711.4 L2085.6,1701.4 L2064.8,1691.4 L2044.2,1681.3 L2023.6,1671.3 L2003.1,1661.3 L1982.8,1651.3 L1962.6,1641.3 L1942.4,1631.3 L1922.4,1621.3 L1902.5,1611.2 L1882.7,1601.2 L1863.0,1591.2 L1843.4,1581.2 L1824.0,1571.2 L1804.6,1561.2 L1785.3,1551.2 L1766.2,1541.1 L1747.1,1531.1 L1728.2,1521.1 L1709.3,1511.1 L1690.6,1501.1 L1671.9,1491.1 L1653.4,1481.1 L1635.0,1471.0 L1616.6,1461.0 L1598.4,1451.0 L1580.3,1441.0 L1562.3,1431.0 L1544.3,1421.0 L1526.5,1411.0 L1508.8,1400.9 L1491.1,1390.9 L1473.6,1380.9 L1456.2,1370.9 L1438.9,1360.9 L1421.6,1350.9 L1404.5,1340.8 L1387.4,1330.8 L1370.5,1320.8 L1353.6,1310.8 L1336.9,1300.8 L1320.2,1290.8 L1303.7,1280.8 L1287.2,1270.7 L1270.8,1260.7 L1254.5,1250.7 L1238.3,1240.7 L1222.2,1230.7 L1206.2,1220.7 L1190.3,1210.7 L1174.5,1200.6 L1158.7,1190.6 L1143.1,1180.6 L1127.6,1170.6 L1112.1,1160.6 L1096.7,1150.6 L1081.4,1140.6 L1066.2,1130.5 L1051.1,1120.5 L1036.1,1110.5 L1021.2,1100.5 L1006.3,1090.5 L991.6,1080.5 L976.9,1070.5 L962.3,1060.4 L947.8,1050.4 L933.4,1040.4 L919.1,1030.4 L904.8,1020.4 L890.7,1010.4 L876.6,1000.4 L862.6,990.3 L848.7,980.3 L834.9,970.3 L821.1,960.3 L807.5,950.3 L793.9,940.3 L780.4,930.3 L767.0,920.2 L753.7,910.2 L740.4,900.2 L727.2,890.2 L714.1,880.2 L701.1,870.2 L688.2,860.2 L675.3,850.1 L662.5,840.1 L649.8,830.1 L637.2,820.1 L624.7,810.1 L612.2,800.1 L599.8,790.1 L587.5,780.0 L575.3,770.0 L563.1,760.0 L551.0,750.0 L539.0,740.0 L527.1,730.0 L515.2,720.0 L503.4,709.9 L491.7,699.9 L480.1,689.9 L468.5,679.9 L457.0,669.9 L445.6,659.9 L434.2,649.9 L423.0,639.8 L411.8,629.8 L400.6,619.8 L389.6,609.8 L378.6,599.8 L367.7,589.8 L356.8,579.7 L346.0,569.7 L335.3,559.7 L324.7,549.7 L314.1,539.7 L303.6,529.7 L293.2,519.7 L282.8,509.6 L272.5,499.6 L262.3,489.6 L252.1,479.6 L242.0,469.6 L232.0,459.6 L222.0,449.6 L212.1,439.5 L202.3,429.5 L192.5,419.5 L182.8,409.5 L173.2,399.5 L163.6,389.5 L154.1,379.5 L144.7,369.4 L135.3,359.4 L126.0,349.4 L116.8,339.4 L107.6,329.4 L98.5,319.4 L89.4,309.4 L80.4,299.3 L71.5,289.3 L62.6,279.3 L53.8,269.3 L45.0,259.3 L36.4,249.3 L27.7,239.3 L19.2,229.2 L10.7,219.2 L2.2,209.2 L-6.2,199.2"/>
<path d="M2474.1,1791.5 L2451.5,1781.5 L2429.0,1771.5 L2406.6,1761.5 L2384.3,1751.4 L2362.2,1741.4 L2340.1,1731.4 L2318.2,1721.4 L2296.3,1711.4 L2274.6,1701.4 L2253.1,1691.4 L2231.6,1681.3 L2210.2,1671.3 L2189.0,1661.3 L2167.9,1651.3 L2146.8,1641.3 L2125.9,1631.3 L2105.2,1621.3 L2084.5,1611.2 L2063.9,1601.2 L2043.5,1591.2 L2023.1,1581.2 L2002.9,1571.2 L1982.8,1561.2 L1962.7,1551.2 L1942.8,1541.1 L1923.0,1531.1 L1903.3,1521.1 L1883.8,1511.1 L1864.3,1501.1 L1844.9,1491.1 L1825.6,1481.1 L1806.5,1471.0 L1787.4,1461.0 L1768.5,1451.0 L1749.6,1441.0 L1730.9,1431.0 L1712.3,1421.0 L1693.7,1411.0 L1675.3,1400.9 L1657.0,1390.9 L1638.7,1380.9 L1620.6,1370.9 L1602.6,1360.9 L1584.7,1350.9 L1566.8,1340.8 L1549.1,1330.8 L1531.5,1320.8 L1513.9,1310.8 L1496.5,1300.8 L1479.2,1290.8 L1461.9,1280.8 L1444.8,1270.7 L1427.8,1260.7 L1410.8,1250.7 L1394.0,1240.7 L1377.2,1230.7 L1360.5,1220.7 L1344.0,1210.7 L1327.5,1200.6 L1311.1,1190.6 L1294.8,1180.6 L1278.6,1170.6 L1262.5,1160.6 L1246.5,1150.6 L1230.6,1140.6 L1214.8,1130.5 L1199.1,1120.5 L1183.4,1110.5 L1167.9,1100.5 L1152.4,1090.5 L1137.0,1080.5 L1121.8,1070.5 L1106.6,1060.4 L1091.5,1050.4 L1076.4,1040.4 L1061.5,1030.4 L1046.7,1020.4 L1031.9,1010.4 L1017.2,1000.4 L1002.6,990.3 L988.1,980.3 L973.7,970.3 L959.4,960.3 L945.2,950.3 L931.0,940.3 L916.9,930.3 L902.9,920.2 L889.0,910.2 L875.2,900.2 L861.5,890.2 L847.8,880.2 L834.2,870.2 L820.7,860.2 L807.3,850.1 L794.0,840.1 L780.7,830.1 L767.5,820.1 L754.5,810.1 L741.4,800.1 L728.5,790.1 L715.6,780.0 L702.9,770.0 L690.2,760.0 L677.5,750.0 L665.0,740.0 L652.5,730.0 L640.1,720.0 L627.8,709.9 L615.6,699.9 L603.4,689.9 L591.3,679.9 L579.3,669.9 L567.4,659.9 L555.5,649.9 L543.7,639.8 L532.0,629.8 L520.4,619.8 L508.8,609.8 L497.3,599.8 L485.9,589.8 L474.6,579.7 L463.3,569.7 L452.1,559.7 L441.0,549.7 L429.9,539.7 L418.9,529.7 L408.0,519.7 L397.1,509.6 L386.4,499.6 L375.6,489.6 L365.0,479.6 L354.4,469.6 L343.9,459.6 L333.5,449.6 L323.1,439.5 L312.8,429.5 L302.6,419.5 L292.4,409.5 L282.3,399.5 L272.3,389.5 L262.4,379.5 L252.5,369.4 L242.6,359.4 L232.9,349.4 L223.2,339.4 L213.5,329.4 L204.0,319.4 L194.5,309.4 L185.0,299.3 L175.7,289.3 L166.3,279.3 L157.1,269.3 L147.9,259.3 L138.8,249.3 L129.7,239.3 L120.7,229.2 L111.8,219.2 L102.9,209.2 L94.1,199.2"/>
<path d="M2670.5,1791.5 L2647.0,1781.5 L2623.7,1771.5 L2600.5,1761.5 L2577.4,1751.4 L2554.4,1741.4 L2531.5,1731.4 L2508.8,1721.4 L2486.2,1711.4 L2463.7,1701.4 L2441.3,1691.4 L2419.0,1681.3 L2396.9,1671.3 L2374.8,1661.3 L2352.9,1651.3 L2331.1,1641.3 L2309.5,1631.3 L2287.9,1621.3 L2266.4,1611.2 L2245.1,1601.2 L2223.9,1591.2 L2202.8,1581.2 L2181.8,1571.2 L2160.9,1561.2 L2140.1,1551.2 L2119.5,1541.1 L2098.9,1531.1 L2078.5,1521.1 L2058.2,1511.1 L2038.0,1501.1 L2017.9,1491.1 L1997.9,1481.1 L1978.0,1471.0 L1958.2,1461.0 L1938.6,1451.0 L1919.0,1441.0 L1899.5,1431.0 L1880.2,1421.0 L1860.9,1411.0 L1841.8,1400.9 L1822.8,1390.9 L1803.8,1380.9 L1785.0,1370.9 L1766.3,1360.9 L1747.7,1350.9 L1729.2,1340.8 L1710.8,1330.8 L1692.4,1320.8 L1674.2,1310.8 L1656.1,1300.8 L1638.1,1290.8 L1620.2,1280.8 L1602.4,1270.7 L1584.7,1260.7 L1567.1,1250.7 L1549.6,1240.7 L1532.2,1230.7 L1514.9,1220.7 L1497.6,1210.7 L1480.5,1200.6 L1463.5,1190.6 L1446.6,1180.6 L1429.7,1170.6 L1413.0,1160.6 L1396.4,1150.6 L1379.8,1140.6 L1363.4,1130.5 L1347.0,1120.5 L1330.7,1110.5 L1314.6,1100.5 L1298.5,1090.5 L1282.5,1080.5 L1266.6,1070.5 L1250.8,1060.4 L1235.1,1050.4 L1219.4,1040.4 L1203.9,1030.4 L1188.5,1020.4 L1173.1,1010.4 L1157.8,1000.4 L1142.7,990.3 L1127.6,980.3 L1112.6,970.3 L1097.7,960.3 L1082.8,950.3 L1068.1,940.3 L1053.5,930.3 L1038.9,920.2 L1024.4,910.2 L1010.0,900.2 L995.7,890.2 L981.5,880.2 L967.3,870.2 L953.3,860.2 L939.3,850.1 L925.4,840.1 L911.6,830.1 L897.9,820.1 L884.2,810.1 L870.7,800.1 L857.2,790.1 L843.8,780.0 L830.5,770.0 L817.2,760.0 L804.1,750.0 L791.0,740.0 L778.0,730.0 L765.1,720.0 L752.2,709.9 L739.5,699.9 L726.8,689.9 L714.2,679.9 L701.6,669.9 L689.2,659.9 L676.8,649.9 L664.5,639.8 L652.3,629.8 L640.2,619.8 L628.1,609.8 L616.1,599.8 L604.2,589.8 L592.3,579.7 L580.5,569.7 L568.8,559.7 L557.2,549.7 L545.7,539.7 L534.2,529.7 L522.8,519.7 L511.5,509.6 L500.2,499.6 L489.0,489.6 L477.9,479.6 L466.8,469.6 L455.9,459.6 L445.0,449.6 L434.1,439.5 L423.4,429.5 L412.7,419.5 L402.0,409.5 L391.5,399.5 L381.0,389.5 L370.6,379.5 L360.2,369.4 L349.9,359.4 L339.7,349.4 L329.6,339.4 L319.5,329.4 L309.5,319.4 L299.5,309.4 L289.6,299.3 L279.8,289.3 L270.1,279.3 L260.4,269.3 L250.8,259.3 L241.2,249.3 L231.7,239.3 L222.3,229.2 L212.9,219.2 L203.6,209.2 L194.4,199.2"/>
<path d="M2866.8,1791.5 L2842.5,1781.5 L2818.4,1771.5 L2794.3,1761.5 L2770.4,1751.4 L2746.6,1741.4 L2723.0,1731.4 L2699.4,1721.4 L2676.0,1711.4 L2652.7,1701.4 L2629.5,1691.4 L2606.4,1681.3 L2583.5,1671.3 L2560.7,1661.3 L2538.0,1651.3 L2515.4,1641.3 L2493.0,1631.3 L2470.6,1621.3 L2448.4,1611.2 L2426.3,1601.2 L2404.3,1591.2 L2382.5,1581.2 L2360.7,1571.2 L2339.1,1561.2 L2317.6,1551.2 L2296.2,1541.1 L2274.9,1531.1 L2253.7,1521.1 L2232.6,1511.1 L2211.7,1501.1 L2190.8,1491.1 L2170.1,1481.1 L2149.5,1471.0 L2129.0,1461.0 L2108.6,1451.0 L2088.3,1441.0 L2068.2,1431.0 L2048.1,1421.0 L2028.2,1411.0 L2008.3,1400.9 L1988.6,1390.9 L1969.0,1380.9 L1949.4,1370.9 L1930.0,1360.9 L1910.7,1350.9 L1891.5,1340.8 L1872.4,1330.8 L1853.4,1320.8 L1834.5,1310.8 L1815.8,1300.8 L1797.1,1290.8 L1778.5,1280.8 L1760.0,1270.7 L1741.7,1260.7 L1723.4,1250.7 L1705.2,1240.7 L1687.1,1230.7 L1669.2,1220.7 L1651.3,1210.7 L1633.5,1200.6 L1615.9,1190.6 L1598.3,1180.6 L1580.8,1170.6 L1563.5,1160.6 L1546.2,1150.6 L1529.0,1140.6 L1511.9,1130.5 L1494.9,1120.5 L1478.0,1110.5 L1461.2,1100.5 L1444.6,1090.5 L1427.9,1080.5 L1411.4,1070.5 L1395.0,1060.4 L1378.7,1050.4 L1362.5,1040.4 L1346.3,1030.4 L1330.3,1020.4 L1314.3,1010.4 L1298.5,1000.4 L1282.7,990.3 L1267.0,980.3 L1251.4,970.3 L1235.9,960.3 L1220.5,950.3 L1205.2,940.3 L1190.0,930.3 L1174.8,920.2 L1159.8,910.2 L1144.8,900.2 L1129.9,890.2 L1115.1,880.2 L1100.4,870.2 L1085.8,860.2 L1071.3,850.1 L1056.8,840.1 L1042.5,830.1 L1028.2,820.1 L1014.0,810.1 L999.9,800.1 L985.9,790.1 L971.9,780.0 L958.1,770.0 L944.3,760.0 L930.6,750.0 L917.0,740.0 L903.5,730.0 L890.0,720.0 L876.6,709.9 L863.3,699.9 L850.1,689.9 L837.0,679.9 L824.0,669.9 L811.0,659.9 L798.1,649.9 L785.3,639.8 L772.6,629.8 L759.9,619.8 L747.3,609.8 L734.8,599.8 L722.4,589.8 L710.1,579.7 L697.8,569.7 L685.6,559.7 L673.5,549.7 L661.5,539.7 L649.5,529.7 L637.6,519.7 L625.8,509.6 L614.0,499.6 L602.4,489.6 L590.8,479.6 L579.2,469.6 L567.8,459.6 L556.4,449.6 L545.1,439.5 L533.9,429.5 L522.7,419.5 L511.6,409.5 L500.6,399.5 L489.7,389.5 L478.8,379.5 L468.0,369.4 L457.2,359.4 L446.6,349.4 L436.0,339.4 L425.4,329.4 L415.0,319.4 L404.6,309.4 L394.3,299.3 L384.0,289.3 L373.8,279.3 L363.7,269.3 L353.6,259.3 L343.6,249.3 L333.7,239.3 L323.9,229.2 L314.1,219.2 L304.4,209.2 L294.7,199.2"/>
<path d="M3063.2,1791.5 L3038.1,1781.5 L3013.1,1771.5 L2988.2,1761.5 L2963.5,1751.4 L2938.9,1741.4 L2914.4,1731.4 L2890.0,1721.4 L2865.8,1711.4 L2841.7,1701.4 L2817.7,1691.4 L2793.9,1681.3 L2770.1,1671.3 L2746.5,1661.3 L2723.1,1651.3 L2699.7,1641.3 L2676.5,1631.3 L2653.4,1621.3 L2630.4,1611.2 L2607.5,1601.2 L2584.8,1591.2 L2562.1,1581.2 L2539.6,1571.2 L2517.2,1561.2 L2495.0,1551.2 L2472.8,1541.1 L2450.8,1531.1 L2428.9,1521.1 L2407.1,1511.1 L2385.4,1501.1 L2363.8,1491.1 L2342.4,1481.1 L2321.0,1471.0 L2299.8,1461.0 L2278.7,1451.0 L2257.7,1441.0 L2236.8,1431.0 L2216.0,1421.0 L2195.4,1411.0 L2174.8,1400.9 L2154.4,1390.9 L2134.1,1380.9 L2113.9,1370.9 L2093.7,1360.9 L2073.7,1350.9 L2053.9,1340.8 L2034.1,1330.8 L2014.4,1320.8 L1994.8,1310.8 L1975.4,1300.8 L1956.0,1290.8 L1936.8,1280.8 L1917.6,1270.7 L1898.6,1260.7 L1879.7,1250.7 L1860.8,1240.7 L1842.1,1230.7 L1823.5,1220.7 L1805.0,1210.7 L1786.6,1200.6 L1768.2,1190.6 L1750.0,1180.6 L1731.9,1170.6 L1713.9,1160.6 L1696.0,1150.6 L1678.2,1140.6 L1660.5,1130.5 L1642.9,1120.5 L1625.4,1110.5 L1607.9,1100.5 L1590.6,1090.5 L1573.4,1080.5 L1556.3,1070.5 L1539.3,1060.4 L1522.3,1050.4 L1505.5,1040.4 L1488.7,1030.4 L1472.1,1020.4 L1455.5,1010.4 L1439.1,1000.4 L1422.7,990.3 L1406.5,980.3 L1390.3,970.3 L1374.2,960.3 L1358.2,950.3 L1342.3,940.3 L1326.5,930.3 L1310.8,920.2 L1295.1,910.2 L1279.6,900.2 L1264.2,890.2 L1248.8,880.2 L1233.5,870.2 L1218.4,860.2 L1203.3,850.1 L1188.3,840.1 L1173.3,830.1 L1158.5,820.1 L1143.8,810.1 L1129.1,800.1 L1114.5,790.1 L1100.1,780.0 L1085.7,770.0 L1071.3,760.0 L1057.1,750.0 L1043.0,740.0 L1028.9,730.0 L1014.9,720.0 L1001.0,709.9 L987.2,699.9 L973.5,689.9 L959.9,679.9 L946.3,669.9 L932.8,659.9 L919.4,649.9 L906.1,639.8 L892.8,629.8 L879.7,619.8 L866.6,609.8 L853.6,599.8 L840.7,589.8 L827.8,579.7 L815.1,569.7 L802.4,559.7 L789.8,549.7 L777.2,539.7 L764.8,529.7 L752.4,519.7 L740.1,509.6 L727.9,499.6 L715.7,489.6 L703.6,479.6 L691.7,469.6 L679.7,459.6 L667.9,449.6 L656.1,439.5 L644.4,429.5 L632.8,419.5 L621.2,409.5 L609.7,399.5 L598.3,389.5 L587.0,379.5 L575.7,369.4 L564.5,359.4 L553.4,349.4 L542.4,339.4 L531.4,329.4 L520.5,319.4 L509.6,309.4 L498.9,299.3 L488.2,289.3 L477.5,279.3 L467.0,269.3 L456.5,259.3 L446.1,249.3 L435.7,239.3 L425.4,229.2 L415.2,219.2 L405.1,209.2 L395.0,199.2"/>
<path d="M3259.5,1791.5 L3233.6,1781.5 L3207.8,1771.5 L3182.1,1761.5 L3156.5,1751.4 L3131.1,1741.4 L3105.8,1731.4 L3080.6,1721.4 L3055.6,1711.4 L3030.7,1701.4 L3005.9,1691.4 L2981.3,1681.3 L2956.8,1671.3 L2932.4,1661.3 L2908.1,1651.3 L2884.0,1641.3 L2860.0,1631.3 L2836.1,1621.3 L2812.3,1611.2 L2788.7,1601.2 L2765.2,1591.2 L2741.8,1581.2 L2718.5,1571.2 L2695.4,1561.2 L2672.4,1551.2 L2649.5,1541.1 L2626.7,1531.1 L2604.0,1521.1 L2581.5,1511.1 L2559.1,1501.1 L2536.8,1491.1 L2514.6,1481.1 L2492.5,1471.0 L2470.6,1461.0 L2448.8,1451.0 L2427.0,1441.0 L2405.4,1431.0 L2384.0,1421.0 L2362.6,1411.0 L2341.3,1400.9 L2320.2,1390.9 L2299.2,1380.9 L2278.3,1370.9 L2257.5,1360.9 L2236.8,1350.9 L2216.2,1340.8 L2195.7,1330.8 L2175.4,1320.8 L2155.1,1310.8 L2135.0,1300.8 L2115.0,1290.8 L2095.1,1280.8 L2075.3,1270.7 L2055.6,1260.7 L2036.0,1250.7 L2016.5,1240.7 L1997.1,1230.7 L1977.8,1220.7 L1958.6,1210.7 L1939.6,1200.6 L1920.6,1190.6 L1901.8,1180.6 L1883.0,1170.6 L1864.4,1160.6 L1845.8,1150.6 L1827.4,1140.6 L1809.0,1130.5 L1790.8,1120.5 L1772.7,1110.5 L1754.6,1100.5 L1736.7,1090.5 L1718.9,1080.5 L1701.1,1070.5 L1683.5,1060.4 L1665.9,1050.4 L1648.5,1040.4 L1631.2,1030.4 L1613.9,1020.4 L1596.8,1010.4 L1579.7,1000.4 L1562.8,990.3 L1545.9,980.3 L1529.1,970.3 L1512.5,960.3 L1495.9,950.3 L1479.4,940.3 L1463.0,930.3 L1446.7,920.2 L1430.5,910.2 L1414.4,900.2 L1398.4,890.2 L1382.5,880.2 L1366.6,870.2 L1350.9,860.2 L1335.2,850.1 L1319.7,840.1 L1304.2,830.1 L1288.8,820.1 L1273.5,810.1 L1258.3,800.1 L1243.2,790.1 L1228.2,780.0 L1213.3,770.0 L1198.4,760.0 L1183.6,750.0 L1169.0,740.0 L1154.4,730.0 L1139.9,720.0 L1125.4,709.9 L1111.1,699.9 L1096.9,689.9 L1082.7,679.9 L1068.6,669.9 L1054.6,659.9 L1040.7,649.9 L1026.9,639.8 L1013.1,629.8 L999.4,619.8 L985.9,609.8 L972.3,599.8 L958.9,589.8 L945.6,579.7 L932.3,569.7 L919.1,559.7 L906.0,549.7 L893.0,539.7 L880.1,529.7 L867.2,519.7 L854.4,509.6 L841.7,499.6 L829.1,489.6 L816.5,479.6 L804.1,469.6 L791.7,459.6 L779.3,449.6 L767.1,439.5 L754.9,429.5 L742.8,419.5 L730.8,409.5 L718.9,399.5 L707.0,389.5 L695.2,379.5 L683.5,369.4 L671.8,359.4 L660.3,349.4 L648.8,339.4 L637.3,329.4 L626.0,319.4 L614.7,309.4 L603.5,299.3 L592.3,289.3 L581.3,279.3 L570.3,269.3 L559.4,259.3 L548.5,249.3 L537.7,239.3 L527.0,229.2 L516.4,219.2 L505.8,209.2 L495.3,199.2"/>
<path d="M3455.9,1791.5 L3429.1,1781.5 L3402.5,1771.5 L3376.0,1761.5 L3349.6,1751.4 L3323.3,1741.4 L3297.2,1731.4 L3271.3,1721.4 L3245.4,1711.4 L3219.7,1701.4 L3194.2,1691.4 L3168.7,1681.3 L3143.4,1671.3 L3118.2,1661.3 L3093.2,1651.3 L3068.3,1641.3 L3043.5,1631.3 L3018.8,1621.3 L2994.3,1611.2 L2969.9,1601.2 L2945.6,1591.2 L2921.5,1581.2 L2897.4,1571.2 L2873.6,1561.2 L2849.8,1551.2 L2826.1,1541.1 L2802.6,1531.1 L2779.2,1521.1 L2755.9,1511.1 L2732.8,1501.1 L2709.7,1491.1 L2686.8,1481.1 L2664.0,1471.0 L2641.4,1461.0 L2618.8,1451.0 L2596.4,1441.0 L2574.1,1431.0 L2551.9,1421.0 L2529.8,1411.0 L2507.9,1400.9 L2486.0,1390.9 L2464.3,1380.9 L2442.7,1370.9 L2421.2,1360.9 L2399.8,1350.9 L2378.5,1340.8 L2357.4,1330.8 L2336.4,1320.8 L2315.4,1310.8 L2294.6,1300.8 L2273.9,1290.8 L2253.3,1280.8 L2232.9,1270.7 L2212.5,1260.7 L2192.2,1250.7 L2172.1,1240.7 L2152.1,1230.7 L2132.1,1220.7 L2112.3,1210.7 L2092.6,1200.6 L2073.0,1190.6 L2053.5,1180.6 L2034.1,1170.6 L2014.8,1160.6 L1995.6,1150.6 L1976.6,1140.6 L1957.6,1130.5 L1938.7,1120.5 L1920.0,1110.5 L1901.3,1100.5 L1882.8,1090.5 L1864.3,1080.5 L1846.0,1070.5 L1827.7,1060.4 L1809.6,1050.4 L1791.5,1040.4 L1773.6,1030.4 L1755.7,1020.4 L1738.0,1010.4 L1720.3,1000.4 L1702.8,990.3 L1685.3,980.3 L1668.0,970.3 L1650.7,960.3 L1633.6,950.3 L1616.5,940.3 L1599.5,930.3 L1582.7,920.2 L1565.9,910.2 L1549.2,900.2 L1532.6,890.2 L1516.1,880.2 L1499.7,870.2 L1483.4,860.2 L1467.2,850.1 L1451.1,840.1 L1435.1,830.1 L1419.2,820.1 L1403.3,810.1 L1387.6,800.1 L1371.9,790.1 L1356.3,780.0 L1340.9,770.0 L1325.5,760.0 L1310.2,750.0 L1295.0,740.0 L1279.8,730.0 L1264.8,720.0 L1249.8,709.9 L1235.0,699.9 L1220.2,689.9 L1205.5,679.9 L1190.9,669.9 L1176.4,659.9 L1162.0,649.9 L1147.6,639.8 L1133.4,629.8 L1119.2,619.8 L1105.1,609.8 L1091.1,599.8 L1077.2,589.8 L1063.3,579.7 L1049.6,569.7 L1035.9,559.7 L1022.3,549.7 L1008.8,539.7 L995.4,529.7 L982.0,519.7 L968.7,509.6 L955.6,499.6 L942.4,489.6 L929.4,479.6 L916.5,469.6 L903.6,459.6 L890.8,449.6 L878.1,439.5 L865.4,429.5 L852.9,419.5 L840.4,409.5 L828.0,399.5 L815.7,389.5 L803.4,379.5 L791.2,369.4 L779.1,359.4 L767.1,349.4 L755.2,339.4 L743.3,329.4 L731.5,319.4 L719.8,309.4 L708.1,299.3 L696.5,289.3 L685.0,279.3 L673.6,269.3 L662.2,259.3 L650.9,249.3 L639.7,239.3 L628.6,229.2 L617.5,219.2 L606.5,209.2 L595.6,199.2"/>
<path d="M3652.2,1791.5 L3624.6,1781.5 L3597.1,1771.5 L3569.8,1761.5 L3542.6,1751.4 L3515.6,1741.4 L3488.7,1731.4 L3461.9,1721.4 L3435.3,1711.4 L3408.7,1701.4 L3382.4,1691.4 L3356.1,1681.3 L3330.0,1671.3 L3304.1,1661.3 L3278.3,1651.3 L3252.6,1641.3 L3227.0,1631.3 L3201.6,1621.3 L3176.3,1611.2 L3151.1,1601.2 L3126.1,1591.2 L3101.1,1581.2 L3076.4,1571.2 L3051.7,1561.2 L3027.2,1551.2 L3002.8,1541.1 L2978.5,1531.1 L2954.4,1521.1 L2930.4,1511.1 L2906.5,1501.1 L2882.7,1491.1 L2859.1,1481.1 L2835.6,1471.0 L2812.2,1461.0 L2788.9,1451.0 L2765.7,1441.0 L2742.7,1431.0 L2719.8,1421.0 L2697.0,1411.0 L2674.4,1400.9 L2651.8,1390.9 L2629.4,1380.9 L2607.1,1370.9 L2584.9,1360.9 L2562.8,1350.9 L2540.9,1340.8 L2519.1,1330.8 L2497.3,1320.8 L2475.7,1310.8 L2454.3,1300.8 L2432.9,1290.8 L2411.6,1280.8 L2390.5,1270.7 L2369.4,1260.7 L2348.5,1250.7 L2327.7,1240.7 L2307.0,1230.7 L2286.5,1220.7 L2266.0,1210.7 L2245.6,1200.6 L2225.4,1190.6 L2205.2,1180.6 L2185.2,1170.6 L2165.3,1160.6 L2145.5,1150.6 L2125.8,1140.6 L2106.2,1130.5 L2086.7,1120.5 L2067.3,1110.5 L2048.0,1100.5 L2028.8,1090.5 L2009.8,1080.5 L1990.8,1070.5 L1971.9,1060.4 L1953.2,1050.4 L1934.5,1040.4 L1916.0,1030.4 L1897.5,1020.4 L1879.2,1010.4 L1861.0,1000.4 L1842.8,990.3 L1824.8,980.3 L1806.8,970.3 L1789.0,960.3 L1771.2,950.3 L1753.6,940.3 L1736.1,930.3 L1718.6,920.2 L1701.3,910.2 L1684.0,900.2 L1666.9,890.2 L1649.8,880.2 L1632.9,870.2 L1616.0,860.2 L1599.2,850.1 L1582.5,840.1 L1566.0,830.1 L1549.5,820.1 L1533.1,810.1 L1516.8,800.1 L1500.6,790.1 L1484.5,780.0 L1468.5,770.0 L1452.5,760.0 L1436.7,750.0 L1420.9,740.0 L1405.3,730.0 L1389.7,720.0 L1374.3,709.9 L1358.9,699.9 L1343.6,689.9 L1328.4,679.9 L1313.2,669.9 L1298.2,659.9 L1283.3,649.9 L1268.4,639.8 L1253.6,629.8 L1239.0,619.8 L1224.4,609.8 L1209.9,599.8 L1195.4,589.8 L1181.1,579.7 L1166.8,569.7 L1152.7,559.7 L1138.6,549.7 L1124.6,539.7 L1110.7,529.7 L1096.8,519.7 L1083.1,509.6 L1069.4,499.6 L1055.8,489.6 L1042.3,479.6 L1028.9,469.6 L1015.5,459.6 L1002.3,449.6 L989.1,439.5 L976.0,429.5 L962.9,419.5 L950.0,409.5 L937.1,399.5 L924.3,389.5 L911.6,379.5 L899.0,369.4 L886.4,359.4 L874.0,349.4 L861.6,339.4 L849.2,329.4 L837.0,319.4 L824.8,309.4 L812.7,299.3 L800.7,289.3 L788.8,279.3 L776.9,269.3 L765.1,259.3 L753.4,249.3 L741.7,239.3 L730.1,229.2 L718.6,219.2 L707.2,209.2 L695.8,199.2"/>
<path d="M3848.5,1791.5 L3820.1,1781.5 L3791.8,1771.5 L3763.7,1761.5 L3735.7,1751.4 L3707.8,1741.4 L3680.1,1731.4 L3652.5,1721.4 L3625.1,1711.4 L3597.8,1701.4 L3570.6,1691.4 L3543.6,1681.3 L3516.7,1671.3 L3489.9,1661.3 L3463.3,1651.3 L3436.8,1641.3 L3410.5,1631.3 L3384.3,1621.3 L3358.2,1611.2 L3332.3,1601.2 L3306.5,1591.2 L3280.8,1581.2 L3255.3,1571.2 L3229.9,1561.2 L3204.6,1551.2 L3179.5,1541.1 L3154.4,1531.1 L3129.6,1521.1 L3104.8,1511.1 L3080.2,1501.1 L3055.7,1491.1 L3031.3,1481.1 L3007.1,1471.0 L2983.0,1461.0 L2959.0,1451.0 L2935.1,1441.0 L2911.4,1431.0 L2887.7,1421.0 L2864.3,1411.0 L2840.9,1400.9 L2817.6,1390.9 L2794.5,1380.9 L2771.5,1370.9 L2748.6,1360.9 L2725.9,1350.9 L2703.2,1340.8 L2680.7,1330.8 L2658.3,1320.8 L2636.0,1310.8 L2613.9,1300.8 L2591.8,1290.8 L2569.9,1280.8 L2548.1,1270.7 L2526.4,1260.7 L2504.8,1250.7 L2483.4,1240.7 L2462.0,1230.7 L2440.8,1220.7 L2419.7,1210.7 L2398.6,1200.6 L2377.7,1190.6 L2357.0,1180.6 L2336.3,1170.6 L2315.7,1160.6 L2295.3,1150.6 L2275.0,1140.6 L2254.7,1130.5 L2234.6,1120.5 L2214.6,1110.5 L2194.7,1100.5 L2174.9,1090.5 L2155.2,1080.5 L2135.6,1070.5 L2116.2,1060.4 L2096.8,1050.4 L2077.6,1040.4 L2058.4,1030.4 L2039.4,1020.4 L2020.4,1010.4 L2001.6,1000.4 L1982.8,990.3 L1964.2,980.3 L1945.7,970.3 L1927.3,960.3 L1908.9,950.3 L1890.7,940.3 L1872.6,930.3 L1854.6,920.2 L1836.6,910.2 L1818.8,900.2 L1801.1,890.2 L1783.5,880.2 L1766.0,870.2 L1748.5,860.2 L1731.2,850.1 L1714.0,840.1 L1696.8,830.1 L1679.8,820.1 L1662.9,810.1 L1646.0,800.1 L1629.3,790.1 L1612.6,780.0 L1596.1,770.0 L1579.6,760.0 L1563.2,750.0 L1546.9,740.0 L1530.7,730.0 L1514.7,720.0 L1498.7,709.9 L1482.7,699.9 L1466.9,689.9 L1451.2,679.9 L1435.6,669.9 L1420.0,659.9 L1404.6,649.9 L1389.2,639.8 L1373.9,629.8 L1358.7,619.8 L1343.6,609.8 L1328.6,599.8 L1313.7,589.8 L1298.8,579.7 L1284.1,569.7 L1269.4,559.7 L1254.9,549.7 L1240.4,539.7 L1226.0,529.7 L1211.6,519.7 L1197.4,509.6 L1183.2,499.6 L1169.2,489.6 L1155.2,479.6 L1141.3,469.6 L1127.5,459.6 L1113.7,449.6 L1100.1,439.5 L1086.5,429.5 L1073.0,419.5 L1059.6,409.5 L1046.3,399.5 L1033.0,389.5 L1019.8,379.5 L1006.8,369.4 L993.7,359.4 L980.8,349.4 L968.0,339.4 L955.2,329.4 L942.5,319.4 L929.9,309.4 L917.3,299.3 L904.9,289.3 L892.5,279.3 L880.2,269.3 L867.9,259.3 L855.8,249.3 L843.7,239.3 L831.7,229.2 L819.8,219.2 L807.9,209.2 L796.1,199.2"/>
<path d="M4044.9,1791.5 L4015.6,1781.5 L3986.5,1771.5 L3957.6,1761.5 L3928.7,1751.4 L3900.1,1741.4 L3871.5,1731.4 L3843.1,1721.4 L3814.9,1711.4 L3786.8,1701.4 L3758.8,1691.4 L3731.0,1681.3 L3703.3,1671.3 L3675.8,1661.3 L3648.4,1651.3 L3621.1,1641.3 L3594.0,1631.3 L3567.0,1621.3 L3540.2,1611.2 L3513.5,1601.2 L3486.9,1591.2 L3460.5,1581.2 L3434.2,1571.2 L3408.0,1561.2 L3382.0,1551.2 L3356.1,1541.1 L3330.4,1531.1 L3304.7,1521.1 L3279.2,1511.1 L3253.9,1501.1 L3228.7,1491.1 L3203.6,1481.1 L3178.6,1471.0 L3153.7,1461.0 L3129.0,1451.0 L3104.5,1441.0 L3080.0,1431.0 L3055.7,1421.0 L3031.5,1411.0 L3007.4,1400.9 L2983.5,1390.9 L2959.6,1380.9 L2935.9,1370.9 L2912.4,1360.9 L2888.9,1350.9 L2865.6,1340.8 L2842.4,1330.8 L2819.3,1320.8 L2796.3,1310.8 L2773.5,1300.8 L2750.8,1290.8 L2728.2,1280.8 L2705.7,1270.7 L2683.3,1260.7 L2661.1,1250.7 L2639.0,1240.7 L2617.0,1230.7 L2595.1,1220.7 L2573.3,1210.7 L2551.7,1200.6 L2530.1,1190.6 L2508.7,1180.6 L2487.4,1170.6 L2466.2,1160.6 L2445.1,1150.6 L2424.1,1140.6 L2403.3,1130.5 L2382.5,1120.5 L2361.9,1110.5 L2341.4,1100.5 L2321.0,1090.5 L2300.7,1080.5 L2280.5,1070.5 L2260.4,1060.4 L2240.4,1050.4 L2220.6,1040.4 L2200.8,1030.4 L2181.2,1020.4 L2161.6,1010.4 L2142.2,1000.4 L2122.9,990.3 L2103.6,980.3 L2084.5,970.3 L2065.5,960.3 L2046.6,950.3 L2027.8,940.3 L2009.1,930.3 L1990.5,920.2 L1972.0,910.2 L1953.6,900.2 L1935.3,890.2 L1917.1,880.2 L1899.1,870.2 L1881.1,860.2 L1863.2,850.1 L1845.4,840.1 L1827.7,830.1 L1810.1,820.1 L1792.6,810.1 L1775.2,800.1 L1757.9,790.1 L1740.8,780.0 L1723.7,770.0 L1706.6,760.0 L1689.7,750.0 L1672.9,740.0 L1656.2,730.0 L1639.6,720.0 L1623.1,709.9 L1606.6,699.9 L1590.3,689.9 L1574.0,679.9 L1557.9,669.9 L1541.8,659.9 L1525.8,649.9 L1510.0,639.8 L1494.2,629.8 L1478.5,619.8 L1462.9,609.8 L1447.4,599.8 L1431.9,589.8 L1416.6,579.7 L1401.4,569.7 L1386.2,559.7 L1371.1,549.7 L1356.1,539.7 L1341.2,529.7 L1326.4,519.7 L1311.7,509.6 L1297.1,499.6 L1282.5,489.6 L1268.1,479.6 L1253.7,469.6 L1239.4,459.6 L1225.2,449.6 L1211.1,439.5 L1197.0,429.5 L1183.1,419.5 L1169.2,409.5 L1155.4,399.5 L1141.7,389.5 L1128.1,379.5 L1114.5,369.4 L1101.0,359.4 L1087.7,349.4 L1074.4,339.4 L1061.1,329.4 L1048.0,319.4 L1034.9,309.4 L1022.0,299.3 L1009.0,289.3 L996.2,279.3 L983.5,269.3 L970.8,259.3 L958.2,249.3 L945.7,239.3 L933.3,229.2 L920.9,219.2 L908.6,209.2 L896.4,199.2"/>
<path d="M4241.2,1791.5 L4211.1,1781.5 L4181.2,1771.5 L4151.4,1761.5 L4121.8,1751.4 L4092.3,1741.4 L4063.0,1731.4 L4033.8,1721.4 L4004.7,1711.4 L3975.8,1701.4 L3947.0,1691.4 L3918.4,1681.3 L3890.0,1671.3 L3861.6,1661.3 L3833.4,1651.3 L3805.4,1641.3 L3777.5,1631.3 L3749.8,1621.3 L3722.2,1611.2 L3694.7,1601.2 L3667.4,1591.2 L3640.2,1581.2 L3613.1,1571.2 L3586.2,1561.2 L3559.4,1551.2 L3532.8,1541.1 L3506.3,1531.1 L3479.9,1521.1 L3453.7,1511.1 L3427.6,1501.1 L3401.6,1491.1 L3375.8,1481.1 L3350.1,1471.0 L3324.5,1461.0 L3299.1,1451.0 L3273.8,1441.0 L3248.6,1431.0 L3223.6,1421.0 L3198.7,1411.0 L3173.9,1400.9 L3149.3,1390.9 L3124.7,1380.9 L3100.4,1370.9 L3076.1,1360.9 L3051.9,1350.9 L3027.9,1340.8 L3004.0,1330.8 L2980.3,1320.8 L2956.6,1310.8 L2933.1,1300.8 L2909.7,1290.8 L2886.5,1280.8 L2863.3,1270.7 L2840.3,1260.7 L2817.4,1250.7 L2794.6,1240.7 L2772.0,1230.7 L2749.4,1220.7 L2727.0,1210.7 L2704.7,1200.6 L2682.5,1190.6 L2660.4,1180.6 L2638.5,1170.6 L2616.6,1160.6 L2594.9,1150.6 L2573.3,1140.6 L2551.8,1130.5 L2530.5,1120.5 L2509.2,1110.5 L2488.1,1100.5 L2467.0,1090.5 L2446.1,1080.5 L2425.3,1070.5 L2404.6,1060.4 L2384.1,1050.4 L2363.6,1040.4 L2343.2,1030.4 L2323.0,1020.4 L2302.8,1010.4 L2282.8,1000.4 L2262.9,990.3 L2243.1,980.3 L2223.4,970.3 L2203.8,960.3 L2184.3,950.3 L2164.9,940.3 L2145.6,930.3 L2126.5,920.2 L2107.4,910.2 L2088.4,900.2 L2069.6,890.2 L2050.8,880.2 L2032.2,870.2 L2013.6,860.2 L1995.2,850.1 L1976.8,840.1 L1958.6,830.1 L1940.4,820.1 L1922.4,810.1 L1904.5,800.1 L1886.6,790.1 L1868.9,780.0 L1851.2,770.0 L1833.7,760.0 L1816.3,750.0 L1798.9,740.0 L1781.7,730.0 L1764.5,720.0 L1747.5,709.9 L1730.5,699.9 L1713.6,689.9 L1696.9,679.9 L1680.2,669.9 L1663.6,659.9 L1647.1,649.9 L1630.7,639.8 L1614.5,629.8 L1598.2,619.8 L1582.1,609.8 L1566.1,599.8 L1550.2,589.8 L1534.4,579.7 L1518.6,569.7 L1503.0,559.7 L1487.4,549.7 L1471.9,539.7 L1456.5,529.7 L1441.2,519.7 L1426.0,509.6 L1410.9,499.6 L1395.9,489.6 L1380.9,479.6 L1366.1,469.6 L1351.3,459.6 L1336.6,449.6 L1322.0,439.5 L1307.5,429.5 L1293.1,419.5 L1278.8,409.5 L1264.5,399.5 L1250.4,389.5 L1236.3,379.5 L1222.3,369.4 L1208.3,359.4 L1194.5,349.4 L1180.8,339.4 L1167.1,329.4 L1153.5,319.4 L1140.0,309.4 L1126.6,299.3 L1113.2,289.3 L1100.0,279.3 L1086.8,269.3 L1073.7,259.3 L1060.6,249.3 L1047.7,239.3 L1034.8,229.2 L1022.0,219.2 L1009.3,209.2 L996.7,199.2"/>
<path d="M4437.6,1791.5 L4406.7,1781.5 L4375.9,1771.5 L4345.3,1761.5 L4314.8,1751.4 L4284.5,1741.4 L4254.4,1731.4 L4224.4,1721.4 L4194.5,1711.4 L4164.8,1701.4 L4135.3,1691.4 L4105.8,1681.3 L4076.6,1671.3 L4047.5,1661.3 L4018.5,1651.3 L3989.7,1641.3 L3961.0,1631.3 L3932.5,1621.3 L3904.1,1611.2 L3875.9,1601.2 L3847.8,1591.2 L3819.8,1581.2 L3792.0,1571.2 L3764.4,1561.2 L3736.8,1551.2 L3709.4,1541.1 L3682.2,1531.1 L3655.1,1521.1 L3628.1,1511.1 L3601.3,1501.1 L3574.6,1491.1 L3548.0,1481.1 L3521.6,1471.0 L3495.3,1461.0 L3469.2,1451.0 L3443.2,1441.0 L3417.3,1431.0 L3391.5,1421.0 L3365.9,1411.0 L3340.4,1400.9 L3315.1,1390.9 L3289.9,1380.9 L3264.8,1370.9 L3239.8,1360.9 L3215.0,1350.9 L3190.3,1340.8 L3165.7,1330.8 L3141.3,1320.8 L3116.9,1310.8 L3092.8,1300.8 L3068.7,1290.8 L3044.7,1280.8 L3020.9,1270.7 L2997.2,1260.7 L2973.7,1250.7 L2950.2,1240.7 L2926.9,1230.7 L2903.7,1220.7 L2880.7,1210.7 L2857.7,1200.6 L2834.9,1190.6 L2812.2,1180.6 L2789.6,1170.6 L2767.1,1160.6 L2744.8,1150.6 L2722.5,1140.6 L2700.4,1130.5 L2678.4,1120.5 L2656.5,1110.5 L2634.8,1100.5 L2613.1,1090.5 L2591.6,1080.5 L2570.2,1070.5 L2548.9,1060.4 L2527.7,1050.4 L2506.6,1040.4 L2485.6,1030.4 L2464.8,1020.4 L2444.1,1010.4 L2423.4,1000.4 L2402.9,990.3 L2382.5,980.3 L2362.2,970.3 L2342.0,960.3 L2322.0,950.3 L2302.0,940.3 L2282.2,930.3 L2262.4,920.2 L2242.8,910.2 L2223.2,900.2 L2203.8,890.2 L2184.5,880.2 L2165.3,870.2 L2146.2,860.2 L2127.2,850.1 L2108.3,840.1 L2089.5,830.1 L2070.8,820.1 L2052.2,810.1 L2033.7,800.1 L2015.3,790.1 L1997.0,780.0 L1978.8,770.0 L1960.8,760.0 L1942.8,750.0 L1924.9,740.0 L1907.1,730.0 L1889.4,720.0 L1871.9,709.9 L1854.4,699.9 L1837.0,689.9 L1819.7,679.9 L1802.5,669.9 L1785.4,659.9 L1768.4,649.9 L1751.5,639.8 L1734.7,629.8 L1718.0,619.8 L1701.4,609.8 L1684.9,599.8 L1668.4,589.8 L1652.1,579.7 L1635.9,569.7 L1619.7,559.7 L1603.7,549.7 L1587.7,539.7 L1571.8,529.7 L1556.0,519.7 L1540.4,509.6 L1524.8,499.6 L1509.2,489.6 L1493.8,479.6 L1478.5,469.6 L1463.3,459.6 L1448.1,449.6 L1433.0,439.5 L1418.1,429.5 L1403.2,419.5 L1388.4,409.5 L1373.7,399.5 L1359.0,389.5 L1344.5,379.5 L1330.0,369.4 L1315.6,359.4 L1301.4,349.4 L1287.2,339.4 L1273.0,329.4 L1259.0,319.4 L1245.1,309.4 L1231.2,299.3 L1217.4,289.3 L1203.7,279.3 L1190.1,269.3 L1176.5,259.3 L1163.1,249.3 L1149.7,239.3 L1136.4,229.2 L1123.2,219.2 L1110.0,209.2 L1097.0,199.2"/>
<path d="M4633.9,1791.5 L4602.2,1781.5 L4570.6,1771.5 L4539.2,1761.5 L4507.9,1751.4 L4476.8,1741.4 L4445.8,1731.4 L4415.0,1721.4 L4384.3,1711.4 L4353.8,1701.4 L4323.5,1691.4 L4293.3,1681.3 L4263.2,1671.3 L4233.3,1661.3 L4203.6,1651.3 L4174.0,1641.3 L4144.5,1631.3 L4115.2,1621.3 L4086.1,1611.2 L4057.1,1601.2 L4028.2,1591.2 L3999.5,1581.2 L3970.9,1571.2 L3942.5,1561.2 L3914.2,1551.2 L3886.1,1541.1 L3858.1,1531.1 L3830.3,1521.1 L3802.5,1511.1 L3775.0,1501.1 L3747.6,1491.1 L3720.3,1481.1 L3693.1,1471.0 L3666.1,1461.0 L3639.2,1451.0 L3612.5,1441.0 L3585.9,1431.0 L3559.5,1421.0 L3533.1,1411.0 L3506.9,1400.9 L3480.9,1390.9 L3455.0,1380.9 L3429.2,1370.9 L3403.5,1360.9 L3378.0,1350.9 L3352.6,1340.8 L3327.4,1330.8 L3302.2,1320.8 L3277.2,1310.8 L3252.4,1300.8 L3227.6,1290.8 L3203.0,1280.8 L3178.5,1270.7 L3154.2,1260.7 L3130.0,1250.7 L3105.9,1240.7 L3081.9,1230.7 L3058.0,1220.7 L3034.3,1210.7 L3010.7,1200.6 L2987.2,1190.6 L2963.9,1180.6 L2940.7,1170.6 L2917.6,1160.6 L2894.6,1150.6 L2871.7,1140.6 L2849.0,1130.5 L2826.3,1120.5 L2803.8,1110.5 L2781.5,1100.5 L2759.2,1090.5 L2737.0,1080.5 L2715.0,1070.5 L2693.1,1060.4 L2671.3,1050.4 L2649.6,1040.4 L2628.1,1030.4 L2606.6,1020.4 L2585.3,1010.4 L2564.1,1000.4 L2542.9,990.3 L2522.0,980.3 L2501.1,970.3 L2480.3,960.3 L2459.7,950.3 L2439.1,940.3 L2418.7,930.3 L2398.4,920.2 L2378.1,910.2 L2358.0,900.2 L2338.0,890.2 L2318.2,880.2 L2298.4,870.2 L2278.7,860.2 L2259.1,850.1 L2239.7,840.1 L2220.3,830.1 L2201.1,820.1 L2182.0,810.1 L2162.9,800.1 L2144.0,790.1 L2125.2,780.0 L2106.4,770.0 L2087.8,760.0 L2069.3,750.0 L2050.9,740.0 L2032.6,730.0 L2014.4,720.0 L1996.3,709.9 L1978.3,699.9 L1960.4,689.9 L1942.5,679.9 L1924.8,669.9 L1907.2,659.9 L1889.7,649.9 L1872.3,639.8 L1855.0,629.8 L1837.8,619.8 L1820.7,609.8 L1803.6,599.8 L1786.7,589.8 L1769.9,579.7 L1753.1,569.7 L1736.5,559.7 L1719.9,549.7 L1703.5,539.7 L1687.1,529.7 L1670.9,519.7 L1654.7,509.6 L1638.6,499.6 L1622.6,489.6 L1606.7,479.6 L1590.9,469.6 L1575.2,459.6 L1559.6,449.6 L1544.0,439.5 L1528.6,429.5 L1513.2,419.5 L1498.0,409.5 L1482.8,399.5 L1467.7,389.5 L1452.7,379.5 L1437.8,369.4 L1423.0,359.4 L1408.2,349.4 L1393.6,339.4 L1379.0,329.4 L1364.5,319.4 L1350.1,309.4 L1335.8,299.3 L1321.6,289.3 L1307.4,279.3 L1293.4,269.3 L1279.4,259.3 L1265.5,249.3 L1251.7,239.3 L1238.0,229.2 L1224.3,219.2 L1210.8,209.2 L1197.3,199.2"/>
<path d="M4830.3,1791.5 L4797.7,1781.5 L4765.3,1771.5 L4733.0,1761.5 L4701.0,1751.4 L4669.0,1741.4 L4637.2,1731.4 L4605.6,1721.4 L4574.2,1711.4 L4542.8,1701.4 L4511.7,1691.4 L4480.7,1681.3 L4449.9,1671.3 L4419.2,1661.3 L4388.6,1651.3 L4358.3,1641.3 L4328.0,1631.3 L4298.0,1621.3 L4268.0,1611.2 L4238.3,1601.2 L4208.6,1591.2 L4179.2,1581.2 L4149.8,1571.2 L4120.7,1561.2 L4091.6,1551.2 L4062.8,1541.1 L4034.0,1531.1 L4005.4,1521.1 L3977.0,1511.1 L3948.7,1501.1 L3920.5,1491.1 L3892.5,1481.1 L3864.6,1471.0 L3836.9,1461.0 L3809.3,1451.0 L3781.9,1441.0 L3754.6,1431.0 L3727.4,1421.0 L3700.3,1411.0 L3673.5,1400.9 L3646.7,1390.9 L3620.1,1380.9 L3593.6,1370.9 L3567.3,1360.9 L3541.0,1350.9 L3515.0,1340.8 L3489.0,1330.8 L3463.2,1320.8 L3437.5,1310.8 L3412.0,1300.8 L3386.6,1290.8 L3361.3,1280.8 L3336.2,1270.7 L3311.1,1260.7 L3286.3,1250.7 L3261.5,1240.7 L3236.9,1230.7 L3212.4,1220.7 L3188.0,1210.7 L3163.7,1200.6 L3139.6,1190.6 L3115.6,1180.6 L3091.8,1170.6 L3068.0,1160.6 L3044.4,1150.6 L3020.9,1140.6 L2997.5,1130.5 L2974.3,1120.5 L2951.2,1110.5 L2928.1,1100.5 L2905.3,1090.5 L2882.5,1080.5 L2859.9,1070.5 L2837.3,1060.4 L2814.9,1050.4 L2792.6,1040.4 L2770.5,1030.4 L2748.4,1020.4 L2726.5,1010.4 L2704.7,1000.4 L2683.0,990.3 L2661.4,980.3 L2639.9,970.3 L2618.6,960.3 L2597.3,950.3 L2576.2,940.3 L2555.2,930.3 L2534.3,920.2 L2513.5,910.2 L2492.8,900.2 L2472.3,890.2 L2451.8,880.2 L2431.5,870.2 L2411.2,860.2 L2391.1,850.1 L2371.1,840.1 L2351.2,830.1 L2331.4,820.1 L2311.7,810.1 L2292.1,800.1 L2272.7,790.1 L2253.3,780.0 L2234.0,770.0 L2214.9,760.0 L2195.8,750.0 L2176.9,740.0 L2158.0,730.0 L2139.3,720.0 L2120.7,709.9 L2102.1,699.9 L2083.7,689.9 L2065.4,679.9 L2047.2,669.9 L2029.0,659.9 L2011.0,649.9 L1993.1,639.8 L1975.3,629.8 L1957.5,619.8 L1939.9,609.8 L1922.4,599.8 L1905.0,589.8 L1887.6,579.7 L1870.4,569.7 L1853.2,559.7 L1836.2,549.7 L1819.3,539.7 L1802.4,529.7 L1785.7,519.7 L1769.0,509.6 L1752.4,499.6 L1736.0,489.6 L1719.6,479.6 L1703.3,469.6 L1687.1,459.6 L1671.0,449.6 L1655.0,439.5 L1639.1,429.5 L1623.3,419.5 L1607.6,409.5 L1591.9,399.5 L1576.4,389.5 L1560.9,379.5 L1545.5,369.4 L1530.3,359.4 L1515.1,349.4 L1500.0,339.4 L1484.9,329.4 L1470.0,319.4 L1455.2,309.4 L1440.4,299.3 L1425.7,289.3 L1411.2,279.3 L1396.7,269.3 L1382.3,259.3 L1367.9,249.3 L1353.7,239.3 L1339.5,229.2 L1325.5,219.2 L1311.5,209.2 L1297.6,199.2"/>
<path d="M5026.6,1791.5 L4993.2,1781.5 L4960.0,1771.5 L4926.9,1761.5 L4894.0,1751.4 L4861.3,1741.4 L4828.7,1731.4 L4796.2,1721.4 L4764.0,1711.4 L4731.9,1701.4 L4699.9,1691.4 L4668.1,1681.3 L4636.5,1671.3 L4605.0,1661.3 L4573.7,1651.3 L4542.6,1641.3 L4511.5,1631.3 L4480.7,1621.3 L4450.0,1611.2 L4419.5,1601.2 L4389.1,1591.2 L4358.8,1581.2 L4328.8,1571.2 L4298.8,1561.2 L4269.1,1551.2 L4239.4,1541.1 L4209.9,1531.1 L4180.6,1521.1 L4151.4,1511.1 L4122.4,1501.1 L4093.5,1491.1 L4064.7,1481.1 L4036.1,1471.0 L4007.7,1461.0 L3979.4,1451.0 L3951.2,1441.0 L3923.2,1431.0 L3895.3,1421.0 L3867.6,1411.0 L3840.0,1400.9 L3812.5,1390.9 L3785.2,1380.9 L3758.0,1370.9 L3731.0,1360.9 L3704.1,1350.9 L3677.3,1340.8 L3650.7,1330.8 L3624.2,1320.8 L3597.8,1310.8 L3571.6,1300.8 L3545.5,1290.8 L3519.6,1280.8 L3493.8,1270.7 L3468.1,1260.7 L3442.5,1250.7 L3417.1,1240.7 L3391.8,1230.7 L3366.7,1220.7 L3341.7,1210.7 L3316.8,1200.6 L3292.0,1190.6 L3267.4,1180.6 L3242.9,1170.6 L3218.5,1160.6 L3194.2,1150.6 L3170.1,1140.6 L3146.1,1130.5 L3122.2,1120.5 L3098.5,1110.5 L3074.8,1100.5 L3051.3,1090.5 L3028.0,1080.5 L3004.7,1070.5 L2981.6,1060.4 L2958.5,1050.4 L2935.7,1040.4 L2912.9,1030.4 L2890.2,1020.4 L2867.7,1010.4 L2845.3,1000.4 L2823.0,990.3 L2800.8,980.3 L2778.8,970.3 L2756.8,960.3 L2735.0,950.3 L2713.3,940.3 L2691.7,930.3 L2670.2,920.2 L2648.9,910.2 L2627.6,900.2 L2606.5,890.2 L2585.5,880.2 L2564.6,870.2 L2543.8,860.2 L2523.1,850.1 L2502.5,840.1 L2482.1,830.1 L2461.7,820.1 L2441.5,810.1 L2421.4,800.1 L2401.4,790.1 L2381.4,780.0 L2361.6,770.0 L2341.9,760.0 L2322.4,750.0 L2302.9,740.0 L2283.5,730.0 L2264.2,720.0 L2245.1,709.9 L2226.0,699.9 L2207.1,689.9 L2188.2,679.9 L2169.5,669.9 L2150.8,659.9 L2132.3,649.9 L2113.9,639.8 L2095.5,629.8 L2077.3,619.8 L2059.2,609.8 L2041.1,599.8 L2023.2,589.8 L2005.4,579.7 L1987.6,569.7 L1970.0,559.7 L1952.5,549.7 L1935.0,539.7 L1917.7,529.7 L1900.5,519.7 L1883.3,509.6 L1866.3,499.6 L1849.3,489.6 L1832.5,479.6 L1815.7,469.6 L1799.1,459.6 L1782.5,449.6 L1766.0,439.5 L1749.6,429.5 L1733.3,419.5 L1717.1,409.5 L1701.0,399.5 L1685.0,389.5 L1669.1,379.5 L1653.3,369.4 L1637.6,359.4 L1621.9,349.4 L1606.4,339.4 L1590.9,329.4 L1575.5,319.4 L1560.2,309.4 L1545.0,299.3 L1529.9,289.3 L1514.9,279.3 L1500.0,269.3 L1485.1,259.3 L1470.4,249.3 L1455.7,239.3 L1441.1,229.2 L1426.6,219.2 L1412.2,209.2 L1397.9,199.2"/>
<path d="M5222.9,1791.5 L5188.7,1781.5 L5154.7,1771.5 L5120.8,1761.5 L5087.1,1751.4 L5053.5,1741.4 L5020.1,1731.4 L4986.9,1721.4 L4953.8,1711.4 L4920.9,1701.4 L4888.1,1691.4 L4855.6,1681.3 L4823.1,1671.3 L4790.9,1661.3 L4758.8,1651.3 L4726.8,1641.3 L4695.1,1631.3 L4663.4,1621.3 L4632.0,1611.2 L4600.7,1601.2 L4569.5,1591.2 L4538.5,1581.2 L4507.7,1571.2 L4477.0,1561.2 L4446.5,1551.2 L4416.1,1541.1 L4385.9,1531.1 L4355.8,1521.1 L4325.9,1511.1 L4296.1,1501.1 L4266.5,1491.1 L4237.0,1481.1 L4207.7,1471.0 L4178.5,1461.0 L4149.4,1451.0 L4120.6,1441.0 L4091.8,1431.0 L4063.2,1421.0 L4034.8,1411.0 L4006.5,1400.9 L3978.3,1390.9 L3950.3,1380.9 L3922.4,1370.9 L3894.7,1360.9 L3867.1,1350.9 L3839.7,1340.8 L3812.3,1330.8 L3785.2,1320.8 L3758.1,1310.8 L3731.2,1300.8 L3704.5,1290.8 L3677.9,1280.8 L3651.4,1270.7 L3625.0,1260.7 L3598.8,1250.7 L3572.8,1240.7 L3546.8,1230.7 L3521.0,1220.7 L3495.3,1210.7 L3469.8,1200.6 L3444.4,1190.6 L3419.1,1180.6 L3393.9,1170.6 L3368.9,1160.6 L3344.0,1150.6 L3319.3,1140.6 L3294.6,1130.5 L3270.1,1120.5 L3245.8,1110.5 L3221.5,1100.5 L3197.4,1090.5 L3173.4,1080.5 L3149.5,1070.5 L3125.8,1060.4 L3102.2,1050.4 L3078.7,1040.4 L3055.3,1030.4 L3032.1,1020.4 L3008.9,1010.4 L2985.9,1000.4 L2963.0,990.3 L2940.3,980.3 L2917.6,970.3 L2895.1,960.3 L2872.7,950.3 L2850.4,940.3 L2828.2,930.3 L2806.2,920.2 L2784.3,910.2 L2762.4,900.2 L2740.7,890.2 L2719.2,880.2 L2697.7,870.2 L2676.3,860.2 L2655.1,850.1 L2634.0,840.1 L2613.0,830.1 L2592.1,820.1 L2571.3,810.1 L2550.6,800.1 L2530.0,790.1 L2509.6,780.0 L2489.2,770.0 L2469.0,760.0 L2448.9,750.0 L2428.9,740.0 L2409.0,730.0 L2389.2,720.0 L2369.5,709.9 L2349.9,699.9 L2330.4,689.9 L2311.1,679.9 L2291.8,669.9 L2272.6,659.9 L2253.6,649.9 L2234.6,639.8 L2215.8,629.8 L2197.1,619.8 L2178.4,609.8 L2159.9,599.8 L2141.5,589.8 L2123.1,579.7 L2104.9,569.7 L2086.8,559.7 L2068.8,549.7 L2050.8,539.7 L2033.0,529.7 L2015.3,519.7 L1997.6,509.6 L1980.1,499.6 L1962.7,489.6 L1945.4,479.6 L1928.1,469.6 L1911.0,459.6 L1893.9,449.6 L1877.0,439.5 L1860.2,429.5 L1843.4,419.5 L1826.7,409.5 L1810.2,399.5 L1793.7,389.5 L1777.3,379.5 L1761.0,369.4 L1744.9,359.4 L1728.8,349.4 L1712.8,339.4 L1696.8,329.4 L1681.0,319.4 L1665.3,309.4 L1649.6,299.3 L1634.1,289.3 L1618.6,279.3 L1603.3,269.3 L1588.0,259.3 L1572.8,249.3 L1557.7,239.3 L1542.7,229.2 L1527.7,219.2 L1512.9,209.2 L1498.1,199.2"/>
<path d="M5419.3,1791.5 L5384.2,1781.5 L5349.4,1771.5 L5314.7,1761.5 L5280.1,1751.4 L5245.7,1741.4 L5211.5,1731.4 L5177.5,1721.4 L5143.6,1711.4 L5109.9,1701.4 L5076.4,1691.4 L5043.0,1681.3 L5009.8,1671.3 L4976.7,1661.3 L4943.8,1651.3 L4911.1,1641.3 L4878.6,1631.3 L4846.2,1621.3 L4813.9,1611.2 L4781.9,1601.2 L4749.9,1591.2 L4718.2,1581.2 L4686.6,1571.2 L4655.2,1561.2 L4623.9,1551.2 L4592.7,1541.1 L4561.8,1531.1 L4531.0,1521.1 L4500.3,1511.1 L4469.8,1501.1 L4439.4,1491.1 L4409.2,1481.1 L4379.2,1471.0 L4349.3,1461.0 L4319.5,1451.0 L4289.9,1441.0 L4260.5,1431.0 L4231.2,1421.0 L4202.0,1411.0 L4173.0,1400.9 L4144.1,1390.9 L4115.4,1380.9 L4086.8,1370.9 L4058.4,1360.9 L4030.1,1350.9 L4002.0,1340.8 L3974.0,1330.8 L3946.2,1320.8 L3918.4,1310.8 L3890.9,1300.8 L3863.4,1290.8 L3836.2,1280.8 L3809.0,1270.7 L3782.0,1260.7 L3755.1,1250.7 L3728.4,1240.7 L3701.8,1230.7 L3675.3,1220.7 L3649.0,1210.7 L3622.8,1200.6 L3596.7,1190.6 L3570.8,1180.6 L3545.0,1170.6 L3519.4,1160.6 L3493.9,1150.6 L3468.5,1140.6 L3443.2,1130.5 L3418.1,1120.5 L3393.1,1110.5 L3368.2,1100.5 L3343.5,1090.5 L3318.9,1080.5 L3294.4,1070.5 L3270.0,1060.4 L3245.8,1050.4 L3221.7,1040.4 L3197.7,1030.4 L3173.9,1020.4 L3150.1,1010.4 L3126.5,1000.4 L3103.1,990.3 L3079.7,980.3 L3056.5,970.3 L3033.4,960.3 L3010.4,950.3 L2987.5,940.3 L2964.8,930.3 L2942.1,920.2 L2919.6,910.2 L2897.2,900.2 L2875.0,890.2 L2852.8,880.2 L2830.8,870.2 L2808.9,860.2 L2787.1,850.1 L2765.4,840.1 L2743.8,830.1 L2722.4,820.1 L2701.0,810.1 L2679.8,800.1 L2658.7,790.1 L2637.7,780.0 L2616.8,770.0 L2596.1,760.0 L2575.4,750.0 L2554.9,740.0 L2534.4,730.0 L2514.1,720.0 L2493.9,709.9 L2473.8,699.9 L2453.8,689.9 L2433.9,679.9 L2414.1,669.9 L2394.4,659.9 L2374.9,649.9 L2355.4,639.8 L2336.1,629.8 L2316.8,619.8 L2297.7,609.8 L2278.6,599.8 L2259.7,589.8 L2240.9,579.7 L2222.2,569.7 L2203.5,559.7 L2185.0,549.7 L2166.6,539.7 L2148.3,529.7 L2130.1,519.7 L2112.0,509.6 L2094.0,499.6 L2076.1,489.6 L2058.2,479.6 L2040.5,469.6 L2022.9,459.6 L2005.4,449.6 L1988.0,439.5 L1970.7,429.5 L1953.5,419.5 L1936.3,409.5 L1919.3,399.5 L1902.4,389.5 L1885.5,379.5 L1868.8,369.4 L1852.2,359.4 L1835.6,349.4 L1819.2,339.4 L1802.8,329.4 L1786.5,319.4 L1770.3,309.4 L1754.3,299.3 L1738.3,289.3 L1722.4,279.3 L1706.6,269.3 L1690.8,259.3 L1675.2,249.3 L1659.7,239.3 L1644.2,229.2 L1628.9,219.2 L1613.6,209.2 L1598.4,199.2"/>
<path d="M5615.6,1791.5 L5579.8,1781.5 L5544.1,1771.5 L5508.5,1761.5 L5473.2,1751.4 L5438.0,1741.4 L5402.9,1731.4 L5368.1,1721.4 L5333.4,1711.4 L5298.9,1701.4 L5264.6,1691.4 L5230.4,1681.3 L5196.4,1671.3 L5162.6,1661.3 L5128.9,1651.3 L5095.4,1641.3 L5062.1,1631.3 L5028.9,1621.3 L4995.9,1611.2 L4963.1,1601.2 L4930.4,1591.2 L4897.9,1581.2 L4865.5,1571.2 L4833.3,1561.2 L4801.3,1551.2 L4769.4,1541.1 L4737.7,1531.1 L4706.1,1521.1 L4674.7,1511.1 L4643.5,1501.1 L4612.4,1491.1 L4581.5,1481.1 L4550.7,1471.0 L4520.1,1461.0 L4489.6,1451.0 L4459.3,1441.0 L4429.1,1431.0 L4399.1,1421.0 L4369.2,1411.0 L4339.5,1400.9 L4309.9,1390.9 L4280.5,1380.9 L4251.3,1370.9 L4222.1,1360.9 L4193.2,1350.9 L4164.3,1340.8 L4135.7,1330.8 L4107.1,1320.8 L4078.7,1310.8 L4050.5,1300.8 L4022.4,1290.8 L3994.4,1280.8 L3966.6,1270.7 L3938.9,1260.7 L3911.4,1250.7 L3884.0,1240.7 L3856.8,1230.7 L3829.6,1220.7 L3802.7,1210.7 L3775.8,1200.6 L3749.1,1190.6 L3722.6,1180.6 L3696.1,1170.6 L3669.8,1160.6 L3643.7,1150.6 L3617.7,1140.6 L3591.8,1130.5 L3566.0,1120.5 L3540.4,1110.5 L3514.9,1100.5 L3489.5,1090.5 L3464.3,1080.5 L3439.2,1070.5 L3414.3,1060.4 L3389.4,1050.4 L3364.7,1040.4 L3340.1,1030.4 L3315.7,1020.4 L3291.4,1010.4 L3267.2,1000.4 L3243.1,990.3 L3219.1,980.3 L3195.3,970.3 L3171.6,960.3 L3148.1,950.3 L3124.6,940.3 L3101.3,930.3 L3078.1,920.2 L3055.0,910.2 L3032.0,900.2 L3009.2,890.2 L2986.5,880.2 L2963.9,870.2 L2941.4,860.2 L2919.1,850.1 L2896.8,840.1 L2874.7,830.1 L2852.7,820.1 L2830.8,810.1 L2809.0,800.1 L2787.4,790.1 L2765.9,780.0 L2744.4,770.0 L2723.1,760.0 L2701.9,750.0 L2680.9,740.0 L2659.9,730.0 L2639.0,720.0 L2618.3,709.9 L2597.7,699.9 L2577.1,689.9 L2556.7,679.9 L2536.4,669.9 L2516.2,659.9 L2496.2,649.9 L2476.2,639.8 L2456.3,629.8 L2436.6,619.8 L2416.9,609.8 L2397.4,599.8 L2378.0,589.8 L2358.6,579.7 L2339.4,569.7 L2320.3,559.7 L2301.3,549.7 L2282.4,539.7 L2263.6,529.7 L2244.9,519.7 L2226.3,509.6 L2207.8,499.6 L2189.4,489.6 L2171.1,479.6 L2152.9,469.6 L2134.9,459.6 L2116.9,449.6 L2099.0,439.5 L2081.2,429.5 L2063.5,419.5 L2045.9,409.5 L2028.4,399.5 L2011.0,389.5 L1993.8,379.5 L1976.6,369.4 L1959.5,359.4 L1942.5,349.4 L1925.6,339.4 L1908.7,329.4 L1892.0,319.4 L1875.4,309.4 L1858.9,299.3 L1842.4,289.3 L1826.1,279.3 L1809.9,269.3 L1793.7,259.3 L1777.6,249.3 L1761.7,239.3 L1745.8,229.2 L1730.0,219.2 L1714.3,209.2 L1698.7,199.2"/>
<path d="M5812.0,1791.5 L5775.3,1781.5 L5738.7,1771.5 L5702.4,1761.5 L5666.2,1751.4 L5630.2,1741.4 L5594.4,1731.4 L5558.7,1721.4 L5523.2,1711.4 L5487.9,1701.4 L5452.8,1691.4 L5417.8,1681.3 L5383.0,1671.3 L5348.4,1661.3 L5314.0,1651.3 L5279.7,1641.3 L5245.6,1631.3 L5211.6,1621.3 L5177.9,1611.2 L5144.3,1601.2 L5110.8,1591.2 L5077.5,1581.2 L5044.4,1571.2 L5011.5,1561.2 L4978.7,1551.2 L4946.1,1541.1 L4913.6,1531.1 L4881.3,1521.1 L4849.2,1511.1 L4817.2,1501.1 L4785.4,1491.1 L4753.7,1481.1 L4722.2,1471.0 L4690.8,1461.0 L4659.7,1451.0 L4628.6,1441.0 L4597.7,1431.0 L4567.0,1421.0 L4536.4,1411.0 L4506.0,1400.9 L4475.8,1390.9 L4445.6,1380.9 L4415.7,1370.9 L4385.9,1360.9 L4356.2,1350.9 L4326.7,1340.8 L4297.3,1330.8 L4268.1,1320.8 L4239.0,1310.8 L4210.1,1300.8 L4181.3,1290.8 L4152.7,1280.8 L4124.2,1270.7 L4095.9,1260.7 L4067.7,1250.7 L4039.6,1240.7 L4011.7,1230.7 L3984.0,1220.7 L3956.3,1210.7 L3928.8,1200.6 L3901.5,1190.6 L3874.3,1180.6 L3847.2,1170.6 L3820.3,1160.6 L3793.5,1150.6 L3766.8,1140.6 L3740.3,1130.5 L3713.9,1120.5 L3687.7,1110.5 L3661.6,1100.5 L3635.6,1090.5 L3609.8,1080.5 L3584.1,1070.5 L3558.5,1060.4 L3533.0,1050.4 L3507.7,1040.4 L3482.5,1030.4 L3457.5,1020.4 L3432.6,1010.4 L3407.8,1000.4 L3383.1,990.3 L3358.6,980.3 L3334.2,970.3 L3309.9,960.3 L3285.7,950.3 L3261.7,940.3 L3237.8,930.3 L3214.0,920.2 L3190.4,910.2 L3166.8,900.2 L3143.4,890.2 L3120.2,880.2 L3097.0,870.2 L3074.0,860.2 L3051.0,850.1 L3028.3,840.1 L3005.6,830.1 L2983.0,820.1 L2960.6,810.1 L2938.3,800.1 L2916.1,790.1 L2894.0,780.0 L2872.0,770.0 L2850.2,760.0 L2828.5,750.0 L2806.8,740.0 L2785.3,730.0 L2764.0,720.0 L2742.7,709.9 L2721.5,699.9 L2700.5,689.9 L2679.6,679.9 L2658.7,669.9 L2638.0,659.9 L2617.5,649.9 L2597.0,639.8 L2576.6,629.8 L2556.3,619.8 L2536.2,609.8 L2516.1,599.8 L2496.2,589.8 L2476.4,579.7 L2456.7,569.7 L2437.1,559.7 L2417.6,549.7 L2398.2,539.7 L2378.9,529.7 L2359.7,519.7 L2340.6,509.6 L2321.6,499.6 L2302.8,489.6 L2284.0,479.6 L2265.3,469.6 L2246.8,459.6 L2228.3,449.6 L2210.0,439.5 L2191.7,429.5 L2173.6,419.5 L2155.5,409.5 L2137.6,399.5 L2119.7,389.5 L2102.0,379.5 L2084.3,369.4 L2066.8,359.4 L2049.3,349.4 L2032.0,339.4 L2014.7,329.4 L1997.5,319.4 L1980.5,309.4 L1963.5,299.3 L1946.6,289.3 L1929.8,279.3 L1913.2,269.3 L1896.6,259.3 L1880.1,249.3 L1863.7,239.3 L1847.4,229.2 L1831.2,219.2 L1815.0,209.2 L1799.0,199.2"/>
<path d="M6008.3,1791.5 L5970.8,1781.5 L5933.4,1771.5 L5896.3,1761.5 L5859.3,1751.4 L5822.4,1741.4 L5785.8,1731.4 L5749.3,1721.4 L5713.1,1711.4 L5676.9,1701.4 L5641.0,1691.4 L5605.3,1681.3 L5569.7,1671.3 L5534.3,1661.3 L5499.0,1651.3 L5464.0,1641.3 L5429.1,1631.3 L5394.4,1621.3 L5359.8,1611.2 L5325.5,1601.2 L5291.2,1591.2 L5257.2,1581.2 L5223.3,1571.2 L5189.6,1561.2 L5156.1,1551.2 L5122.7,1541.1 L5089.5,1531.1 L5056.5,1521.1 L5023.6,1511.1 L4990.9,1501.1 L4958.3,1491.1 L4925.9,1481.1 L4893.7,1471.0 L4861.6,1461.0 L4829.7,1451.0 L4798.0,1441.0 L4766.4,1431.0 L4734.9,1421.0 L4703.7,1411.0 L4672.5,1400.9 L4641.6,1390.9 L4610.8,1380.9 L4580.1,1370.9 L4549.6,1360.9 L4519.2,1350.9 L4489.0,1340.8 L4459.0,1330.8 L4429.1,1320.8 L4399.3,1310.8 L4369.7,1300.8 L4340.3,1290.8 L4311.0,1280.8 L4281.8,1270.7 L4252.8,1260.7 L4224.0,1250.7 L4195.3,1240.7 L4166.7,1230.7 L4138.3,1220.7 L4110.0,1210.7 L4081.9,1200.6 L4053.9,1190.6 L4026.0,1180.6 L3998.3,1170.6 L3970.8,1160.6 L3943.3,1150.6 L3916.0,1140.6 L3888.9,1130.5 L3861.9,1120.5 L3835.0,1110.5 L3808.3,1100.5 L3781.7,1090.5 L3755.2,1080.5 L3728.9,1070.5 L3702.7,1060.4 L3676.7,1050.4 L3650.7,1040.4 L3625.0,1030.4 L3599.3,1020.4 L3573.8,1010.4 L3548.4,1000.4 L3523.1,990.3 L3498.0,980.3 L3473.0,970.3 L3448.2,960.3 L3423.4,950.3 L3398.8,940.3 L3374.3,930.3 L3350.0,920.2 L3325.8,910.2 L3301.7,900.2 L3277.7,890.2 L3253.8,880.2 L3230.1,870.2 L3206.5,860.2 L3183.0,850.1 L3159.7,840.1 L3136.5,830.1 L3113.3,820.1 L3090.4,810.1 L3067.5,800.1 L3044.8,790.1 L3022.1,780.0 L2999.6,770.0 L2977.2,760.0 L2955.0,750.0 L2932.8,740.0 L2910.8,730.0 L2888.9,720.0 L2867.1,709.9 L2845.4,699.9 L2823.9,689.9 L2802.4,679.9 L2781.1,669.9 L2759.8,659.9 L2738.7,649.9 L2717.8,639.8 L2696.9,629.8 L2676.1,619.8 L2655.4,609.8 L2634.9,599.8 L2614.5,589.8 L2594.1,579.7 L2573.9,569.7 L2553.8,559.7 L2533.8,549.7 L2514.0,539.7 L2494.2,529.7 L2474.5,519.7 L2454.9,509.6 L2435.5,499.6 L2416.1,489.6 L2396.9,479.6 L2377.8,469.6 L2358.7,459.6 L2339.8,449.6 L2321.0,439.5 L2302.2,429.5 L2283.6,419.5 L2265.1,409.5 L2246.7,399.5 L2228.4,389.5 L2210.2,379.5 L2192.1,369.4 L2174.1,359.4 L2156.2,349.4 L2138.4,339.4 L2120.6,329.4 L2103.0,319.4 L2085.5,309.4 L2068.1,299.3 L2050.8,289.3 L2033.6,279.3 L2016.5,269.3 L1999.4,259.3 L1982.5,249.3 L1965.7,239.3 L1948.9,229.2 L1932.3,219.2 L1915.7,209.2 L1899.3,199.2"/>
</g>
<g stroke="#0000ff" stroke-opacity="0.5" stroke-width="2.5" fill="none" stroke-dasharray="9.4 5.8">
<path d="M312.6,1791.5 L299.7,1781.5 L286.8,1771.5 L273.9,1761.5 L261.0,1751.4 L248.2,1741.4 L235.4,1731.4 L222.6,1721.4 L209.9,1711.4 L197.2,1701.4 L184.6,1691.4 L172.1,1681.3 L159.6,1671.3 L147.2,1661.3 L134.8,1651.3 L122.5,1641.3 L110.2,1631.3 L98.0,1621.3 L85.9,1611.2 L73.8,1601.2 L61.8,1591.2 L49.9,1581.2 L38.0,1571.2 L26.2,1561.2 L14.5,1551.2 L2.8,1541.1 L-8.8,1531.1 L-20.4,1521.1 L-31.9,1511.1 L-43.3,1501.1 L-54.6,1491.1 L-65.9,1481.1 L-77.1,1471.0 L-88.2,1461.0 L-99.3,1451.0 L-110.3,1441.0 L-121.2,1431.0 L-132.1,1421.0 L-142.9,1411.0 L-153.6,1400.9 L-164.3,1390.9 L-174.9,1380.9 L-185.4,1370.9 L-195.9,1360.9 L-206.3,1350.9 L-216.6,1340.8 L-226.9,1330.8 L-237.1,1320.8 L-247.2,1310.8 L-257.3,1300.8 L-267.3,1290.8 L-277.2,1280.8 L-287.1,1270.7 L-296.9,1260.7 L-306.6,1250.7 L-316.3,1240.7 L-325.9,1230.7 L-335.4,1220.7 L-344.9,1210.7 L-354.3,1200.6 L-363.7,1190.6 L-372.9,1180.6 L-382.2,1170.6 L-391.3,1160.6 L-400.4,1150.6 L-409.5,1140.6 L-418.4,1130.5 L-427.4,1120.5 L-436.2,1110.5 L-445.0,1100.5 L-453.7,1090.5 L-462.4,1080.5 L-471.0,1070.5 L-479.6,1060.4 L-488.0,1050.4 L-496.5,1040.4 L-504.8,1030.4 L-513.2,1020.4 L-521.4,1010.4 L-529.6,1000.4 L-537.7,990.3 L-545.8,980.3 L-553.8,970.3 L-561.8,960.3 L-569.7,950.3 L-577.5,940.3 L-585.3,930.3 L-593.0,920.2 L-600.7,910.2 L-608.3,900.2 L-615.9,890.2 L-623.4,880.2 L-630.8,870.2 L-638.2,860.2 L-645.6,850.1 L-652.8,840.1 L-660.1,830.1 L-667.3,820.1 L-674.4,810.1 L-681.4,800.1 L-688.4,790.1 L-695.4,780.0 L-702.3,770.0 L-709.2,760.0 L-716.0,750.0 L-722.7,740.0 L-729.4,730.0 L-736.0,720.0 L-742.6,709.9 L-749.2,699.9 L-755.6,689.9 L-762.1,679.9 L-768.5,669.9 L-774.8,659.9 L-781.1,649.9 L-787.3,639.8 L-793.5,629.8 L-799.6,619.8 L-805.7,609.8 L-811.7,599.8 L-817.7,589.8 L-823.6,579.7 L-829.5,569.7 L-835.4,559.7 L-841.1,549.7 L-846.9,539.7 L-852.6,529.7 L-858.2,519.7 L-863.8,509.6 L-869.3,499.6 L-874.8,489.6 L-880.3,479.6 L-885.7,469.6 L-891.0,459.6 L-896.4,449.6 L-901.6,439.5 L-906.8,429.5 L-912.0,419.5 L-917.1,409.5 L-922.2,399.5 L-927.2,389.5 L-932.2,379.5 L-937.2,369.4 L-942.1,359.4 L-946.9,349.4 L-951.7,339.4 L-956.5,329.4 L-961.2,319.4 L-965.9,309.4 L-970.5,299.3 L-975.1,289.3 L-979.7,279.3 L-984.2,269.3 L-988.6,259.3 L-993.0,249.3 L-997.4,239.3 L-1001.7,229.2 L-1006.0,219.2 L-1010.3,209.2 L-1014.5,199.2"/>
<path d="M409.8,1791.5 L396.8,1781.5 L383.7,1771.5 L370.8,1761.5 L357.7,1751.4 L344.7,1741.4 L331.7,1731.4 L318.8,1721.4 L305.9,1711.4 L293.0,1701.4 L280.2,1691.4 L267.4,1681.3 L254.7,1671.3 L242.0,1661.3 L229.3,1651.3 L216.7,1641.3 L204.2,1631.3 L191.7,1621.3 L179.3,1611.2 L166.9,1601.2 L154.6,1591.2 L142.4,1581.2 L130.2,1571.2 L118.0,1561.2 L106.0,1551.2 L94.0,1541.1 L82.0,1531.1 L70.1,1521.1 L58.3,1511.1 L46.6,1501.1 L34.9,1491.1 L23.3,1481.1 L11.7,1471.0 L0.2,1461.0 L-11.2,1451.0 L-22.5,1441.0 L-33.8,1431.0 L-45.0,1421.0 L-56.2,1411.0 L-67.3,1400.9 L-78.3,1390.9 L-89.2,1380.9 L-100.1,1370.9 L-110.9,1360.9 L-121.7,1350.9 L-132.4,1340.8 L-143.0,1330.8 L-153.5,1320.8 L-164.0,1310.8 L-174.4,1300.8 L-184.7,1290.8 L-195.0,1280.8 L-205.2,1270.7 L-215.4,1260.7 L-225.4,1250.7 L-235.4,1240.7 L-245.4,1230.7 L-255.3,1220.7 L-265.1,1210.7 L-274.8,1200.6 L-284.5,1190.6 L-294.1,1180.6 L-303.7,1170.6 L-313.2,1160.6 L-322.6,1150.6 L-332.0,1140.6 L-341.3,1130.5 L-350.5,1120.5 L-359.7,1110.5 L-368.8,1100.5 L-377.9,1090.5 L-386.8,1080.5 L-395.8,1070.5 L-404.6,1060.4 L-413.4,1050.4 L-422.2,1040.4 L-430.9,1030.4 L-439.5,1020.4 L-448.0,1010.4 L-456.5,1000.4 L-465.0,990.3 L-473.4,980.3 L-481.7,970.3 L-490.0,960.3 L-498.2,950.3 L-506.3,940.3 L-514.4,930.3 L-522.4,920.2 L-530.4,910.2 L-538.3,900.2 L-546.2,890.2 L-554.0,880.2 L-561.7,870.2 L-569.4,860.2 L-577.0,850.1 L-584.6,840.1 L-592.1,830.1 L-599.6,820.1 L-607.0,810.1 L-614.3,800.1 L-621.6,790.1 L-628.8,780.0 L-636.0,770.0 L-643.2,760.0 L-650.2,750.0 L-657.3,740.0 L-664.2,730.0 L-671.1,720.0 L-678.0,709.9 L-684.8,699.9 L-691.6,689.9 L-698.3,679.9 L-704.9,669.9 L-711.5,659.9 L-718.1,649.9 L-724.6,639.8 L-731.0,629.8 L-737.4,619.8 L-743.7,609.8 L-750.0,599.8 L-756.3,589.8 L-762.5,579.7 L-768.6,569.7 L-774.7,559.7 L-780.7,549.7 L-786.7,539.7 L-792.7,529.7 L-798.6,519.7 L-804.4,509.6 L-810.2,499.6 L-815.9,489.6 L-821.6,479.6 L-827.3,469.6 L-832.9,459.6 L-838.5,449.6 L-844.0,439.5 L-849.4,429.5 L-854.8,419.5 L-860.2,409.5 L-865.5,399.5 L-870.8,389.5 L-876.0,379.5 L-881.2,369.4 L-886.3,359.4 L-891.4,349.4 L-896.5,339.4 L-901.5,329.4 L-906.4,319.4 L-911.3,309.4 L-916.2,299.3 L-921.0,289.3 L-925.8,279.3 L-930.5,269.3 L-935.2,259.3 L-939.8,249.3 L-944.4,239.3 L-949.0,229.2 L-953.5,219.2 L-958.0,209.2 L-962.4,199.2"/>
<path d="M506.5,1791.5 L493.5,1781.5 L480.6,1771.5 L467.6,1761.5 L454.5,1751.4 L441.5,1741.4 L428.5,1731.4 L415.4,1721.4 L402.4,1711.4 L389.4,1701.4 L376.5,1691.4 L363.5,1681.3 L350.6,1671.3 L337.8,1661.3 L324.9,1651.3 L312.1,1641.3 L299.4,1631.3 L286.6,1621.3 L274.0,1611.2 L261.4,1601.2 L248.8,1591.2 L236.2,1581.2 L223.8,1571.2 L211.4,1561.2 L199.0,1551.2 L186.7,1541.1 L174.4,1531.1 L162.2,1521.1 L150.1,1511.1 L138.0,1501.1 L126.0,1491.1 L114.1,1481.1 L102.2,1471.0 L90.4,1461.0 L78.6,1451.0 L66.9,1441.0 L55.3,1431.0 L43.7,1421.0 L32.2,1411.0 L20.8,1400.9 L9.5,1390.9 L-1.8,1380.9 L-13.1,1370.9 L-24.2,1360.9 L-35.3,1350.9 L-46.3,1340.8 L-57.3,1330.8 L-68.2,1320.8 L-79.0,1310.8 L-89.8,1300.8 L-100.5,1290.8 L-111.1,1280.8 L-121.6,1270.7 L-132.1,1260.7 L-142.6,1250.7 L-152.9,1240.7 L-163.2,1230.7 L-173.4,1220.7 L-183.6,1210.7 L-193.7,1200.6 L-203.7,1190.6 L-213.6,1180.6 L-223.5,1170.6 L-233.4,1160.6 L-243.1,1150.6 L-252.8,1140.6 L-262.5,1130.5 L-272.0,1120.5 L-281.5,1110.5 L-291.0,1100.5 L-300.4,1090.5 L-309.7,1080.5 L-318.9,1070.5 L-328.1,1060.4 L-337.2,1050.4 L-346.3,1040.4 L-355.3,1030.4 L-364.2,1020.4 L-373.1,1010.4 L-381.9,1000.4 L-390.7,990.3 L-399.4,980.3 L-408.0,970.3 L-416.6,960.3 L-425.1,950.3 L-433.5,940.3 L-441.9,930.3 L-450.3,920.2 L-458.5,910.2 L-466.8,900.2 L-474.9,890.2 L-483.0,880.2 L-491.1,870.2 L-499.0,860.2 L-507.0,850.1 L-514.8,840.1 L-522.6,830.1 L-530.4,820.1 L-538.1,810.1 L-545.7,800.1 L-553.3,790.1 L-560.8,780.0 L-568.3,770.0 L-575.7,760.0 L-583.1,750.0 L-590.4,740.0 L-597.6,730.0 L-604.8,720.0 L-612.0,709.9 L-619.1,699.9 L-626.1,689.9 L-633.1,679.9 L-640.0,669.9 L-646.9,659.9 L-653.7,649.9 L-660.5,639.8 L-667.2,629.8 L-673.8,619.8 L-680.5,609.8 L-687.0,599.8 L-693.5,589.8 L-700.0,579.7 L-706.4,569.7 L-712.7,559.7 L-719.0,549.7 L-725.3,539.7 L-731.5,529.7 L-737.6,519.7 L-743.7,509.6 L-749.8,499.6 L-755.8,489.6 L-761.7,479.6 L-767.6,469.6 L-773.5,459.6 L-779.3,449.6 L-785.1,439.5 L-790.8,429.5 L-796.4,419.5 L-802.0,409.5 L-807.6,399.5 L-813.1,389.5 L-818.6,379.5 L-824.0,369.4 L-829.4,359.4 L-834.7,349.4 L-840.0,339.4 L-845.2,329.4 L-850.4,319.4 L-855.6,309.4 L-860.7,299.3 L-865.7,289.3 L-870.7,279.3 L-875.7,269.3 L-880.6,259.3 L-885.5,249.3 L-890.3,239.3 L-895.1,229.2 L-899.8,219.2 L-904.5,209.2 L-909.2,199.2"/>
<path d="M602.7,1791.5 L589.9,1781.5 L577.1,1771.5 L564.3,1761.5 L551.4,1751.4 L538.5,1741.4 L525.6,1731.4 L512.6,1721.4 L499.7,1711.4 L486.7,1701.4 L473.7,1691.4 L460.8,1681.3 L447.8,1671.3 L434.9,1661.3 L421.9,1651.3 L409.0,1641.3 L396.1,1631.3 L383.3,1621.3 L370.4,1611.2 L357.6,1601.2 L344.9,1591.2 L332.1,1581.2 L319.4,1571.2 L306.8,1561.2 L294.2,1551.2 L281.6,1541.1 L269.1,1531.1 L256.6,1521.1 L244.2,1511.1 L231.9,1501.1 L219.6,1491.1 L207.3,1481.1 L195.1,1471.0 L183.0,1461.0 L170.9,1451.0 L158.9,1441.0 L146.9,1431.0 L135.1,1421.0 L123.2,1411.0 L111.5,1400.9 L99.8,1390.9 L88.1,1380.9 L76.6,1370.9 L65.1,1360.9 L53.6,1350.9 L42.2,1340.8 L30.9,1330.8 L19.7,1320.8 L8.5,1310.8 L-2.6,1300.8 L-13.6,1290.8 L-24.6,1280.8 L-35.5,1270.7 L-46.3,1260.7 L-57.1,1250.7 L-67.8,1240.7 L-78.5,1230.7 L-89.0,1220.7 L-99.5,1210.7 L-110.0,1200.6 L-120.3,1190.6 L-130.6,1180.6 L-140.9,1170.6 L-151.0,1160.6 L-161.2,1150.6 L-171.2,1140.6 L-181.2,1130.5 L-191.1,1120.5 L-200.9,1110.5 L-210.7,1100.5 L-220.4,1090.5 L-230.1,1080.5 L-239.6,1070.5 L-249.2,1060.4 L-258.6,1050.4 L-268.0,1040.4 L-277.3,1030.4 L-286.6,1020.4 L-295.8,1010.4 L-305.0,1000.4 L-314.0,990.3 L-323.1,980.3 L-332.0,970.3 L-340.9,960.3 L-349.7,950.3 L-358.5,940.3 L-367.2,930.3 L-375.9,920.2 L-384.4,910.2 L-393.0,900.2 L-401.4,890.2 L-409.9,880.2 L-418.2,870.2 L-426.5,860.2 L-434.7,850.1 L-442.9,840.1 L-451.0,830.1 L-459.1,820.1 L-467.1,810.1 L-475.0,800.1 L-482.9,790.1 L-490.7,780.0 L-498.5,770.0 L-506.2,760.0 L-513.8,750.0 L-521.4,740.0 L-529.0,730.0 L-536.5,720.0 L-543.9,709.9 L-551.3,699.9 L-558.6,689.9 L-565.8,679.9 L-573.1,669.9 L-580.2,659.9 L-587.3,649.9 L-594.4,639.8 L-601.4,629.8 L-608.3,619.8 L-615.2,609.8 L-622.0,599.8 L-628.8,589.8 L-635.5,579.7 L-642.2,569.7 L-648.8,559.7 L-655.4,549.7 L-661.9,539.7 L-668.4,529.7 L-674.8,519.7 L-681.2,509.6 L-687.5,499.6 L-693.7,489.6 L-700.0,479.6 L-706.1,469.6 L-712.2,459.6 L-718.3,449.6 L-724.3,439.5 L-730.3,429.5 L-736.2,419.5 L-742.1,409.5 L-747.9,399.5 L-753.6,389.5 L-759.4,379.5 L-765.0,369.4 L-770.7,359.4 L-776.2,349.4 L-781.8,339.4 L-787.2,329.4 L-792.7,319.4 L-798.1,309.4 L-803.4,299.3 L-808.7,289.3 L-813.9,279.3 L-819.1,269.3 L-824.3,259.3 L-829.4,249.3 L-834.5,239.3 L-839.5,229.2 L-844.5,219.2 L-849.4,209.2 L-854.3,199.2"/>
<path d="M698.2,1791.5 L685.9,1781.5 L673.5,1771.5 L661.0,1761.5 L648.5,1751.4 L635.9,1741.4 L623.2,1731.4 L610.5,1721.4 L597.8,1711.4 L585.0,1701.4 L572.2,1691.4 L559.4,1681.3 L546.5,1671.3 L533.7,1661.3 L520.8,1651.3 L507.9,1641.3 L495.0,1631.3 L482.1,1621.3 L469.3,1611.2 L456.4,1601.2 L443.5,1591.2 L430.7,1581.2 L417.9,1571.2 L405.1,1561.2 L392.3,1551.2 L379.6,1541.1 L366.9,1531.1 L354.2,1521.1 L341.6,1511.1 L329.0,1501.1 L316.5,1491.1 L304.0,1481.1 L291.5,1471.0 L279.1,1461.0 L266.7,1451.0 L254.4,1441.0 L242.2,1431.0 L230.0,1421.0 L217.8,1411.0 L205.8,1400.9 L193.7,1390.9 L181.8,1380.9 L169.9,1370.9 L158.0,1360.9 L146.3,1350.9 L134.5,1340.8 L122.9,1330.8 L111.3,1320.8 L99.8,1310.8 L88.3,1300.8 L76.9,1290.8 L65.6,1280.8 L54.4,1270.7 L43.2,1260.7 L32.0,1250.7 L21.0,1240.7 L10.0,1230.7 L-0.9,1220.7 L-11.8,1210.7 L-22.6,1200.6 L-33.3,1190.6 L-44.0,1180.6 L-54.6,1170.6 L-65.1,1160.6 L-75.6,1150.6 L-86.0,1140.6 L-96.3,1130.5 L-106.6,1120.5 L-116.7,1110.5 L-126.9,1100.5 L-136.9,1090.5 L-146.9,1080.5 L-156.9,1070.5 L-166.7,1060.4 L-176.5,1050.4 L-186.3,1040.4 L-195.9,1030.4 L-205.6,1020.4 L-215.1,1010.4 L-224.6,1000.4 L-234.0,990.3 L-243.3,980.3 L-252.6,970.3 L-261.9,960.3 L-271.0,950.3 L-280.1,940.3 L-289.2,930.3 L-298.1,920.2 L-307.1,910.2 L-315.9,900.2 L-324.7,890.2 L-333.4,880.2 L-342.1,870.2 L-350.7,860.2 L-359.3,850.1 L-367.8,840.1 L-376.2,830.1 L-384.6,820.1 L-392.9,810.1 L-401.1,800.1 L-409.3,790.1 L-417.4,780.0 L-425.5,770.0 L-433.5,760.0 L-441.5,750.0 L-449.4,740.0 L-457.2,730.0 L-465.0,720.0 L-472.8,709.9 L-480.4,699.9 L-488.1,689.9 L-495.6,679.9 L-503.1,669.9 L-510.6,659.9 L-518.0,649.9 L-525.3,639.8 L-532.6,629.8 L-539.8,619.8 L-547.0,609.8 L-554.1,599.8 L-561.2,589.8 L-568.2,579.7 L-575.2,569.7 L-582.1,559.7 L-588.9,549.7 L-595.7,539.7 L-602.5,529.7 L-609.2,519.7 L-615.8,509.6 L-622.4,499.6 L-628.9,489.6 L-635.4,479.6 L-641.8,469.6 L-648.2,459.6 L-654.6,449.6 L-660.8,439.5 L-667.1,429.5 L-673.3,419.5 L-679.4,409.5 L-685.5,399.5 L-691.5,389.5 L-697.5,379.5 L-703.4,369.4 L-709.3,359.4 L-715.1,349.4 L-720.9,339.4 L-726.7,329.4 L-732.4,319.4 L-738.0,309.4 L-743.6,299.3 L-749.1,289.3 L-754.6,279.3 L-760.1,269.3 L-765.5,259.3 L-770.8,249.3 L-776.2,239.3 L-781.4,229.2 L-786.6,219.2 L-791.8,209.2 L-796.9,199.2"/>
<path d="M793.0,1791.5 L781.3,1781.5 L769.5,1771.5 L757.7,1761.5 L745.7,1751.4 L733.6,1741.4 L721.5,1731.4 L709.2,1721.4 L696.9,1711.4 L684.6,1701.4 L672.1,1691.4 L659.7,1681.3 L647.1,1671.3 L634.5,1661.3 L621.9,1651.3 L609.3,1641.3 L596.6,1631.3 L583.8,1621.3 L571.1,1611.2 L558.3,1601.2 L545.6,1591.2 L532.8,1581.2 L520.0,1571.2 L507.2,1561.2 L494.4,1551.2 L481.6,1541.1 L468.8,1531.1 L456.1,1521.1 L443.3,1511.1 L430.6,1501.1 L417.9,1491.1 L405.2,1481.1 L392.6,1471.0 L380.0,1461.0 L367.4,1451.0 L354.9,1441.0 L342.4,1431.0 L329.9,1421.0 L317.5,1411.0 L305.1,1400.9 L292.8,1390.9 L280.6,1380.9 L268.4,1370.9 L256.2,1360.9 L244.1,1350.9 L232.1,1340.8 L220.1,1330.8 L208.2,1320.8 L196.3,1310.8 L184.5,1300.8 L172.8,1290.8 L161.1,1280.8 L149.5,1270.7 L137.9,1260.7 L126.4,1250.7 L115.0,1240.7 L103.7,1230.7 L92.4,1220.7 L81.2,1210.7 L70.0,1200.6 L58.9,1190.6 L47.9,1180.6 L36.9,1170.6 L26.0,1160.6 L15.2,1150.6 L4.4,1140.6 L-6.3,1130.5 L-16.9,1120.5 L-27.5,1110.5 L-38.0,1100.5 L-48.4,1090.5 L-58.8,1080.5 L-69.0,1070.5 L-79.3,1060.4 L-89.4,1050.4 L-99.5,1040.4 L-109.6,1030.4 L-119.5,1020.4 L-129.4,1010.4 L-139.3,1000.4 L-149.1,990.3 L-158.8,980.3 L-168.4,970.3 L-178.0,960.3 L-187.5,950.3 L-197.0,940.3 L-206.3,930.3 L-215.7,920.2 L-224.9,910.2 L-234.1,900.2 L-243.3,890.2 L-252.3,880.2 L-261.4,870.2 L-270.3,860.2 L-279.2,850.1 L-288.0,840.1 L-296.8,830.1 L-305.5,820.1 L-314.1,810.1 L-322.7,800.1 L-331.2,790.1 L-339.7,780.0 L-348.1,770.0 L-356.5,760.0 L-364.7,750.0 L-373.0,740.0 L-381.1,730.0 L-389.2,720.0 L-397.3,709.9 L-405.3,699.9 L-413.2,689.9 L-421.1,679.9 L-428.9,669.9 L-436.7,659.9 L-444.4,649.9 L-452.0,639.8 L-459.6,629.8 L-467.2,619.8 L-474.6,609.8 L-482.1,599.8 L-489.4,589.8 L-496.8,579.7 L-504.0,569.7 L-511.2,559.7 L-518.4,549.7 L-525.5,539.7 L-532.5,529.7 L-539.5,519.7 L-546.4,509.6 L-553.3,499.6 L-560.2,489.6 L-566.9,479.6 L-573.7,469.6 L-580.3,459.6 L-586.9,449.6 L-593.5,439.5 L-600.0,429.5 L-606.5,419.5 L-612.9,409.5 L-619.3,399.5 L-625.6,389.5 L-631.8,379.5 L-638.0,369.4 L-644.2,359.4 L-650.3,349.4 L-656.4,339.4 L-662.4,329.4 L-668.3,319.4 L-674.3,309.4 L-680.1,299.3 L-685.9,289.3 L-691.7,279.3 L-697.4,269.3 L-703.1,259.3 L-708.7,249.3 L-714.3,239.3 L-719.8,229.2 L-725.3,219.2 L-730.7,209.2 L-736.1,199.2"/>
<path d="M887.1,1791.5 L876.3,1781.5 L865.3,1771.5 L854.3,1761.5 L843.1,1751.4 L831.7,1741.4 L820.3,1731.4 L808.8,1721.4 L797.2,1711.4 L785.4,1701.4 L773.6,1691.4 L761.8,1681.3 L749.8,1671.3 L737.7,1661.3 L725.6,1651.3 L713.4,1641.3 L701.2,1631.3 L688.9,1621.3 L676.5,1611.2 L664.1,1601.2 L651.6,1591.2 L639.1,1581.2 L626.5,1571.2 L613.9,1561.2 L601.3,1551.2 L588.6,1541.1 L576.0,1531.1 L563.3,1521.1 L550.6,1511.1 L537.9,1501.1 L525.2,1491.1 L512.5,1481.1 L499.8,1471.0 L487.1,1461.0 L474.4,1451.0 L461.7,1441.0 L449.1,1431.0 L436.5,1421.0 L423.9,1411.0 L411.3,1400.9 L398.8,1390.9 L386.3,1380.9 L373.9,1370.9 L361.5,1360.9 L349.1,1350.9 L336.8,1340.8 L324.5,1330.8 L312.3,1320.8 L300.1,1310.8 L288.0,1300.8 L275.9,1290.8 L263.9,1280.8 L251.9,1270.7 L240.0,1260.7 L228.2,1250.7 L216.4,1240.7 L204.7,1230.7 L193.0,1220.7 L181.4,1210.7 L169.9,1200.6 L158.4,1190.6 L147.0,1180.6 L135.7,1170.6 L124.4,1160.6 L113.2,1150.6 L102.1,1140.6 L91.0,1130.5 L80.0,1120.5 L69.0,1110.5 L58.1,1100.5 L47.3,1090.5 L36.6,1080.5 L25.9,1070.5 L15.3,1060.4 L4.7,1050.4 L-5.8,1040.4 L-16.2,1030.4 L-26.6,1020.4 L-36.8,1010.4 L-47.1,1000.4 L-57.2,990.3 L-67.3,980.3 L-77.3,970.3 L-87.3,960.3 L-97.2,950.3 L-107.0,940.3 L-116.8,930.3 L-126.5,920.2 L-136.1,910.2 L-145.7,900.2 L-155.2,890.2 L-164.6,880.2 L-174.0,870.2 L-183.3,860.2 L-192.6,850.1 L-201.8,840.1 L-210.9,830.1 L-220.0,820.1 L-229.0,810.1 L-237.9,800.1 L-246.8,790.1 L-255.6,780.0 L-264.4,770.0 L-273.1,760.0 L-281.7,750.0 L-290.3,740.0 L-298.8,730.0 L-307.3,720.0 L-315.6,709.9 L-324.0,699.9 L-332.3,689.9 L-340.5,679.9 L-348.6,669.9 L-356.7,659.9 L-364.8,649.9 L-372.8,639.8 L-380.7,629.8 L-388.6,619.8 L-396.4,609.8 L-404.1,599.8 L-411.8,589.8 L-419.5,579.7 L-427.1,569.7 L-434.6,559.7 L-442.1,549.7 L-449.5,539.7 L-456.9,529.7 L-464.2,519.7 L-471.4,509.6 L-478.6,499.6 L-485.8,489.6 L-492.8,479.6 L-499.9,469.6 L-506.9,459.6 L-513.8,449.6 L-520.7,439.5 L-527.5,429.5 L-534.3,419.5 L-541.0,409.5 L-547.6,399.5 L-554.3,389.5 L-560.8,379.5 L-567.3,369.4 L-573.8,359.4 L-580.2,349.4 L-586.5,339.4 L-592.9,329.4 L-599.1,319.4 L-605.3,309.4 L-611.5,299.3 L-617.6,289.3 L-623.6,279.3 L-629.6,269.3 L-635.6,259.3 L-641.5,249.3 L-647.3,239.3 L-653.1,229.2 L-658.9,219.2 L-664.6,209.2 L-670.3,199.2"/>
<path d="M980.6,1791.5 L970.8,1781.5 L960.8,1771.5 L950.8,1761.5 L940.5,1751.4 L930.2,1741.4 L919.7,1731.4 L909.1,1721.4 L898.4,1711.4 L887.6,1701.4 L876.7,1691.4 L865.6,1681.3 L854.5,1671.3 L843.3,1661.3 L831.9,1651.3 L820.5,1641.3 L809.0,1631.3 L797.3,1621.3 L785.6,1611.2 L773.8,1601.2 L761.9,1591.2 L750.0,1581.2 L737.9,1571.2 L725.8,1561.2 L713.7,1551.2 L701.4,1541.1 L689.1,1531.1 L676.8,1521.1 L664.4,1511.1 L652.0,1501.1 L639.5,1491.1 L627.0,1481.1 L614.5,1471.0 L601.9,1461.0 L589.3,1451.0 L576.7,1441.0 L564.1,1431.0 L551.5,1421.0 L538.9,1411.0 L526.3,1400.9 L513.7,1390.9 L501.1,1380.9 L488.5,1370.9 L476.0,1360.9 L463.4,1350.9 L450.9,1340.8 L438.5,1330.8 L426.0,1320.8 L413.6,1310.8 L401.2,1300.8 L388.9,1290.8 L376.6,1280.8 L364.3,1270.7 L352.1,1260.7 L339.9,1250.7 L327.8,1240.7 L315.7,1230.7 L303.7,1220.7 L291.8,1210.7 L279.9,1200.6 L268.0,1190.6 L256.3,1180.6 L244.5,1170.6 L232.9,1160.6 L221.3,1150.6 L209.7,1140.6 L198.2,1130.5 L186.8,1120.5 L175.5,1110.5 L164.2,1100.5 L152.9,1090.5 L141.8,1080.5 L130.7,1070.5 L119.6,1060.4 L108.7,1050.4 L97.8,1040.4 L86.9,1030.4 L76.2,1020.4 L65.5,1010.4 L54.8,1000.4 L44.3,990.3 L33.8,980.3 L23.3,970.3 L12.9,960.3 L2.6,950.3 L-7.6,940.3 L-17.8,930.3 L-27.9,920.2 L-37.9,910.2 L-47.9,900.2 L-57.8,890.2 L-67.7,880.2 L-77.5,870.2 L-87.2,860.2 L-96.8,850.1 L-106.4,840.1 L-116.0,830.1 L-125.4,820.1 L-134.8,810.1 L-144.2,800.1 L-153.4,790.1 L-162.6,780.0 L-171.8,770.0 L-180.9,760.0 L-189.9,750.0 L-198.9,740.0 L-207.8,730.0 L-216.6,720.0 L-225.4,709.9 L-234.1,699.9 L-242.8,689.9 L-251.4,679.9 L-259.9,669.9 L-268.4,659.9 L-276.8,649.9 L-285.1,639.8 L-293.4,629.8 L-301.7,619.8 L-309.8,609.8 L-318.0,599.8 L-326.0,589.8 L-334.0,579.7 L-342.0,569.7 L-349.9,559.7 L-357.7,549.7 L-365.5,539.7 L-373.2,529.7 L-380.9,519.7 L-388.5,509.6 L-396.0,499.6 L-403.5,489.6 L-410.9,479.6 L-418.3,469.6 L-425.6,459.6 L-432.9,449.6 L-440.1,439.5 L-447.3,429.5 L-454.4,419.5 L-461.5,409.5 L-468.5,399.5 L-475.4,389.5 L-482.3,379.5 L-489.1,369.4 L-495.9,359.4 L-502.7,349.4 L-509.3,339.4 L-516.0,329.4 L-522.6,319.4 L-529.1,309.4 L-535.6,299.3 L-542.0,289.3 L-548.3,279.3 L-554.7,269.3 L-560.9,259.3 L-567.2,249.3 L-573.3,239.3 L-579.4,229.2 L-585.5,219.2 L-591.5,209.2 L-597.5,199.2"/>
<path d="M1073.8,1791.5 L1065.1,1781.5 L1056.2,1771.5 L1047.3,1761.5 L1038.1,1751.4 L1028.9,1741.4 L1019.5,1731.4 L1010.1,1721.4 L1000.5,1711.4 L990.8,1701.4 L980.9,1691.4 L971.0,1681.3 L960.9,1671.3 L950.8,1661.3 L940.5,1651.3 L930.1,1641.3 L919.6,1631.3 L908.9,1621.3 L898.2,1611.2 L887.4,1601.2 L876.4,1591.2 L865.3,1581.2 L854.2,1571.2 L842.9,1561.2 L831.5,1551.2 L820.1,1541.1 L808.5,1531.1 L796.9,1521.1 L785.2,1511.1 L773.4,1501.1 L761.5,1491.1 L749.5,1481.1 L737.5,1471.0 L725.4,1461.0 L713.2,1451.0 L701.0,1441.0 L688.8,1431.0 L676.5,1421.0 L664.1,1411.0 L651.7,1400.9 L639.3,1390.9 L626.9,1380.9 L614.4,1370.9 L601.9,1360.9 L589.4,1350.9 L576.9,1340.8 L564.4,1330.8 L551.9,1320.8 L539.4,1310.8 L526.9,1300.8 L514.5,1290.8 L502.0,1280.8 L489.5,1270.7 L477.1,1260.7 L464.7,1250.7 L452.4,1240.7 L440.0,1230.7 L427.8,1220.7 L415.5,1210.7 L403.3,1200.6 L391.1,1190.6 L379.0,1180.6 L366.9,1170.6 L354.9,1160.6 L342.9,1150.6 L331.0,1140.6 L319.1,1130.5 L307.3,1120.5 L295.5,1110.5 L283.8,1100.5 L272.1,1090.5 L260.5,1080.5 L249.0,1070.5 L237.5,1060.4 L226.1,1050.4 L214.8,1040.4 L203.5,1030.4 L192.3,1020.4 L181.1,1010.4 L170.1,1000.4 L159.0,990.3 L148.1,980.3 L137.2,970.3 L126.4,960.3 L115.6,950.3 L104.9,940.3 L94.3,930.3 L83.7,920.2 L73.2,910.2 L62.8,900.2 L52.4,890.2 L42.1,880.2 L31.8,870.2 L21.7,860.2 L11.6,850.1 L1.5,840.1 L-8.5,830.1 L-18.4,820.1 L-28.2,810.1 L-38.0,800.1 L-47.7,790.1 L-57.4,780.0 L-67.0,770.0 L-76.5,760.0 L-85.9,750.0 L-95.3,740.0 L-104.7,730.0 L-113.9,720.0 L-123.2,709.9 L-132.3,699.9 L-141.4,689.9 L-150.4,679.9 L-159.4,669.9 L-168.3,659.9 L-177.1,649.9 L-185.9,639.8 L-194.6,629.8 L-203.2,619.8 L-211.8,609.8 L-220.4,599.8 L-228.8,589.8 L-237.3,579.7 L-245.6,569.7 L-253.9,559.7 L-262.1,549.7 L-270.3,539.7 L-278.4,529.7 L-286.5,519.7 L-294.5,509.6 L-302.4,499.6 L-310.3,489.6 L-318.2,479.6 L-325.9,469.6 L-333.7,459.6 L-341.3,449.6 L-348.9,439.5 L-356.5,429.5 L-364.0,419.5 L-371.4,409.5 L-378.8,399.5 L-386.1,389.5 L-393.4,379.5 L-400.6,369.4 L-407.7,359.4 L-414.8,349.4 L-421.9,339.4 L-428.9,329.4 L-435.8,319.4 L-442.7,309.4 L-449.6,299.3 L-456.4,289.3 L-463.1,279.3 L-469.8,269.3 L-476.4,259.3 L-483.0,249.3 L-489.5,239.3 L-496.0,229.2 L-502.4,219.2 L-508.8,209.2 L-515.1,199.2"/>
<path d="M1166.8,1791.5 L1159.2,1781.5 L1151.5,1771.5 L1143.7,1761.5 L1135.8,1751.4 L1127.7,1741.4 L1119.6,1731.4 L1111.3,1721.4 L1103.0,1711.4 L1094.5,1701.4 L1085.9,1691.4 L1077.2,1681.3 L1068.4,1671.3 L1059.5,1661.3 L1050.5,1651.3 L1041.4,1641.3 L1032.1,1631.3 L1022.8,1621.3 L1013.3,1611.2 L1003.7,1601.2 L994.0,1591.2 L984.1,1581.2 L974.2,1571.2 L964.1,1561.2 L953.9,1551.2 L943.6,1541.1 L933.2,1531.1 L922.7,1521.1 L912.0,1511.1 L901.3,1501.1 L890.4,1491.1 L879.4,1481.1 L868.4,1471.0 L857.2,1461.0 L845.9,1451.0 L834.5,1441.0 L823.1,1431.0 L811.5,1421.0 L799.9,1411.0 L788.2,1400.9 L776.4,1390.9 L764.5,1380.9 L752.6,1370.9 L740.6,1360.9 L728.5,1350.9 L716.4,1340.8 L704.2,1330.8 L692.0,1320.8 L679.8,1310.8 L667.5,1300.8 L655.2,1290.8 L642.9,1280.8 L630.5,1270.7 L618.1,1260.7 L605.7,1250.7 L593.4,1240.7 L581.0,1230.7 L568.6,1220.7 L556.2,1210.7 L543.8,1200.6 L531.5,1190.6 L519.1,1180.6 L506.8,1170.6 L494.5,1160.6 L482.3,1150.6 L470.0,1140.6 L457.8,1130.5 L445.7,1120.5 L433.6,1110.5 L421.5,1100.5 L409.4,1090.5 L397.5,1080.5 L385.5,1070.5 L373.6,1060.4 L361.8,1050.4 L350.0,1040.4 L338.3,1030.4 L326.6,1020.4 L315.0,1010.4 L303.4,1000.4 L291.9,990.3 L280.4,980.3 L269.1,970.3 L257.7,960.3 L246.5,950.3 L235.3,940.3 L224.2,930.3 L213.1,920.2 L202.1,910.2 L191.1,900.2 L180.3,890.2 L169.4,880.2 L158.7,870.2 L148.0,860.2 L137.4,850.1 L126.8,840.1 L116.3,830.1 L105.9,820.1 L95.6,810.1 L85.3,800.1 L75.1,790.1 L64.9,780.0 L54.8,770.0 L44.8,760.0 L34.8,750.0 L24.9,740.0 L15.1,730.0 L5.3,720.0 L-4.4,709.9 L-14.1,699.9 L-23.6,689.9 L-33.1,679.9 L-42.6,669.9 L-52.0,659.9 L-61.3,649.9 L-70.6,639.8 L-79.8,629.8 L-88.9,619.8 L-98.0,609.8 L-107.0,599.8 L-115.9,589.8 L-124.8,579.7 L-133.7,569.7 L-142.4,559.7 L-151.1,549.7 L-159.8,539.7 L-168.4,529.7 L-176.9,519.7 L-185.3,509.6 L-193.8,499.6 L-202.1,489.6 L-210.4,479.6 L-218.6,469.6 L-226.8,459.6 L-234.9,449.6 L-242.9,439.5 L-250.9,429.5 L-258.9,419.5 L-266.7,409.5 L-274.6,399.5 L-282.3,389.5 L-290.0,379.5 L-297.7,369.4 L-305.3,359.4 L-312.8,349.4 L-320.3,339.4 L-327.7,329.4 L-335.1,319.4 L-342.4,309.4 L-349.7,299.3 L-356.9,289.3 L-364.0,279.3 L-371.1,269.3 L-378.2,259.3 L-385.2,249.3 L-392.1,239.3 L-399.0,229.2 L-405.8,219.2 L-412.6,209.2 L-419.3,199.2"/>
<path d="M1259.8,1791.5 L1253.4,1781.5 L1246.8,1771.5 L1240.2,1761.5 L1233.4,1751.4 L1226.6,1741.4 L1219.6,1731.4 L1212.6,1721.4 L1205.5,1711.4 L1198.3,1701.4 L1191.0,1691.4 L1183.7,1681.3 L1176.2,1671.3 L1168.6,1661.3 L1161.0,1651.3 L1153.2,1641.3 L1145.4,1631.3 L1137.4,1621.3 L1129.4,1611.2 L1121.2,1601.2 L1112.9,1591.2 L1104.5,1581.2 L1096.0,1571.2 L1087.4,1561.2 L1078.7,1551.2 L1069.9,1541.1 L1060.9,1531.1 L1051.8,1521.1 L1042.7,1511.1 L1033.4,1501.1 L1023.9,1491.1 L1014.4,1481.1 L1004.7,1471.0 L995.0,1461.0 L985.1,1451.0 L975.0,1441.0 L964.9,1431.0 L954.6,1421.0 L944.3,1411.0 L933.8,1400.9 L923.2,1390.9 L912.5,1380.9 L901.7,1370.9 L890.7,1360.9 L879.7,1350.9 L868.6,1340.8 L857.3,1330.8 L846.0,1320.8 L834.6,1310.8 L823.1,1300.8 L811.5,1290.8 L799.9,1280.8 L788.1,1270.7 L776.3,1260.7 L764.5,1250.7 L752.5,1240.7 L740.6,1230.7 L728.5,1220.7 L716.5,1210.7 L704.3,1200.6 L692.2,1190.6 L680.0,1180.6 L667.8,1170.6 L655.6,1160.6 L643.3,1150.6 L631.1,1140.6 L618.8,1130.5 L606.6,1120.5 L594.3,1110.5 L582.1,1100.5 L569.8,1090.5 L557.6,1080.5 L545.4,1070.5 L533.2,1060.4 L521.0,1050.4 L508.9,1040.4 L496.8,1030.4 L484.7,1020.4 L472.7,1010.4 L460.7,1000.4 L448.8,990.3 L436.9,980.3 L425.0,970.3 L413.2,960.3 L401.5,950.3 L389.8,940.3 L378.1,930.3 L366.5,920.2 L355.0,910.2 L343.5,900.2 L332.1,890.2 L320.7,880.2 L309.4,870.2 L298.1,860.2 L287.0,850.1 L275.8,840.1 L264.8,830.1 L253.8,820.1 L242.8,810.1 L232.0,800.1 L221.2,790.1 L210.4,780.0 L199.7,770.0 L189.1,760.0 L178.6,750.0 L168.1,740.0 L157.7,730.0 L147.3,720.0 L137.0,709.9 L126.8,699.9 L116.6,689.9 L106.5,679.9 L96.5,669.9 L86.5,659.9 L76.6,649.9 L66.8,639.8 L57.0,629.8 L47.3,619.8 L37.7,609.8 L28.1,599.8 L18.6,589.8 L9.1,579.7 L-0.2,569.7 L-9.6,559.7 L-18.8,549.7 L-28.0,539.7 L-37.2,529.7 L-46.3,519.7 L-55.3,509.6 L-64.2,499.6 L-73.1,489.6 L-81.9,479.6 L-90.7,469.6 L-99.4,459.6 L-108.1,449.6 L-116.6,439.5 L-125.2,429.5 L-133.6,419.5 L-142.0,409.5 L-150.4,399.5 L-158.7,389.5 L-166.9,379.5 L-175.1,369.4 L-183.2,359.4 L-191.2,349.4 L-199.2,339.4 L-207.2,329.4 L-215.0,319.4 L-222.9,309.4 L-230.6,299.3 L-238.3,289.3 L-246.0,279.3 L-253.6,269.3 L-261.1,259.3 L-268.6,249.3 L-276.0,239.3 L-283.4,229.2 L-290.7,219.2 L-298.0,209.2 L-305.2,199.2"/>
<path d="M1353.1,1791.5 L1347.7,1781.5 L1342.2,1771.5 L1336.7,1761.5 L1331.0,1751.4 L1325.3,1741.4 L1319.5,1731.4 L1313.7,1721.4 L1307.8,1711.4 L1301.8,1701.4 L1295.8,1691.4 L1289.7,1681.3 L1283.5,1671.3 L1277.2,1661.3 L1270.9,1651.3 L1264.5,1641.3 L1258.1,1631.3 L1251.5,1621.3 L1244.9,1611.2 L1238.2,1601.2 L1231.4,1591.2 L1224.5,1581.2 L1217.5,1571.2 L1210.5,1561.2 L1203.3,1551.2 L1196.1,1541.1 L1188.7,1531.1 L1181.3,1521.1 L1173.7,1511.1 L1166.1,1501.1 L1158.3,1491.1 L1150.5,1481.1 L1142.5,1471.0 L1134.5,1461.0 L1126.3,1451.0 L1118.0,1441.0 L1109.6,1431.0 L1101.0,1421.0 L1092.4,1411.0 L1083.7,1400.9 L1074.8,1390.9 L1065.8,1380.9 L1056.7,1370.9 L1047.4,1360.9 L1038.1,1350.9 L1028.6,1340.8 L1019.0,1330.8 L1009.3,1320.8 L999.4,1310.8 L989.4,1300.8 L979.4,1290.8 L969.2,1280.8 L958.8,1270.7 L948.4,1260.7 L937.8,1250.7 L927.2,1240.7 L916.4,1230.7 L905.5,1220.7 L894.6,1210.7 L883.5,1200.6 L872.3,1190.6 L861.1,1180.6 L849.7,1170.6 L838.3,1160.6 L826.8,1150.6 L815.2,1140.6 L803.5,1130.5 L791.8,1120.5 L780.0,1110.5 L768.2,1100.5 L756.3,1090.5 L744.3,1080.5 L732.4,1070.5 L720.4,1060.4 L708.3,1050.4 L696.3,1040.4 L684.2,1030.4 L672.1,1020.4 L660.0,1010.4 L647.9,1000.4 L635.8,990.3 L623.7,980.3 L611.6,970.3 L599.5,960.3 L587.4,950.3 L575.4,940.3 L563.3,930.3 L551.3,920.2 L539.4,910.2 L527.4,900.2 L515.5,890.2 L503.6,880.2 L491.8,870.2 L480.0,860.2 L468.3,850.1 L456.6,840.1 L444.9,830.1 L433.4,820.1 L421.8,810.1 L410.3,800.1 L398.9,790.1 L387.5,780.0 L376.2,770.0 L364.9,760.0 L353.7,750.0 L342.6,740.0 L331.5,730.0 L320.5,720.0 L309.5,709.9 L298.6,699.9 L287.8,689.9 L277.0,679.9 L266.3,669.9 L255.7,659.9 L245.1,649.9 L234.6,639.8 L224.1,629.8 L213.7,619.8 L203.4,609.8 L193.1,599.8 L182.9,589.8 L172.8,579.7 L162.7,569.7 L152.7,559.7 L142.8,549.7 L132.9,539.7 L123.1,529.7 L113.4,519.7 L103.7,509.6 L94.1,499.6 L84.5,489.6 L75.1,479.6 L65.6,469.6 L56.3,459.6 L47.0,449.6 L37.7,439.5 L28.6,429.5 L19.4,419.5 L10.4,409.5 L1.4,399.5 L-7.5,389.5 L-16.4,379.5 L-25.2,369.4 L-33.9,359.4 L-42.6,349.4 L-51.2,339.4 L-59.8,329.4 L-68.3,319.4 L-76.7,309.4 L-85.1,299.3 L-93.4,289.3 L-101.7,279.3 L-109.9,269.3 L-118.0,259.3 L-126.1,249.3 L-134.2,239.3 L-142.1,229.2 L-150.0,219.2 L-157.9,209.2 L-165.7,199.2"/>
<path d="M1446.8,1791.5 L1442.3,1781.5 L1437.7,1771.5 L1433.2,1761.5 L1428.5,1751.4 L1423.8,1741.4 L1419.1,1731.4 L1414.3,1721.4 L1409.5,1711.4 L1404.6,1701.4 L1399.7,1691.4 L1394.7,1681.3 L1389.7,1671.3 L1384.7,1661.3 L1379.6,1651.3 L1374.4,1641.3 L1369.2,1631.3 L1363.9,1621.3 L1358.6,1611.2 L1353.3,1601.2 L1347.8,1591.2 L1342.4,1581.2 L1336.8,1571.2 L1331.2,1561.2 L1325.5,1551.2 L1319.8,1541.1 L1314.0,1531.1 L1308.1,1521.1 L1302.2,1511.1 L1296.1,1501.1 L1290.0,1491.1 L1283.9,1481.1 L1277.6,1471.0 L1271.3,1461.0 L1264.9,1451.0 L1258.4,1441.0 L1251.8,1431.0 L1245.1,1421.0 L1238.3,1411.0 L1231.5,1400.9 L1224.5,1390.9 L1217.5,1380.9 L1210.3,1370.9 L1203.1,1360.9 L1195.7,1350.9 L1188.3,1340.8 L1180.7,1330.8 L1173.1,1320.8 L1165.3,1310.8 L1157.4,1300.8 L1149.4,1290.8 L1141.2,1280.8 L1133.0,1270.7 L1124.7,1260.7 L1116.2,1250.7 L1107.6,1240.7 L1098.9,1230.7 L1090.0,1220.7 L1081.0,1210.7 L1072.0,1200.6 L1062.7,1190.6 L1053.4,1180.6 L1043.9,1170.6 L1034.3,1160.6 L1024.6,1150.6 L1014.8,1140.6 L1004.8,1130.5 L994.8,1120.5 L984.6,1110.5 L974.3,1100.5 L963.8,1090.5 L953.3,1080.5 L942.7,1070.5 L931.9,1060.4 L921.0,1050.4 L910.1,1040.4 L899.0,1030.4 L887.9,1020.4 L876.7,1010.4 L865.4,1000.4 L854.0,990.3 L842.5,980.3 L831.0,970.3 L819.4,960.3 L807.8,950.3 L796.1,940.3 L784.3,930.3 L772.5,920.2 L760.7,910.2 L748.9,900.2 L737.0,890.2 L725.1,880.2 L713.2,870.2 L701.2,860.2 L689.3,850.1 L677.4,840.1 L665.4,830.1 L653.5,820.1 L641.6,810.1 L629.7,800.1 L617.8,790.1 L605.9,780.0 L594.1,770.0 L582.3,760.0 L570.5,750.0 L558.8,740.0 L547.1,730.0 L535.4,720.0 L523.8,709.9 L512.2,699.9 L500.7,689.9 L489.2,679.9 L477.8,669.9 L466.4,659.9 L455.1,649.9 L443.8,639.8 L432.6,629.8 L421.5,619.8 L410.4,609.8 L399.3,599.8 L388.3,589.8 L377.4,579.7 L366.6,569.7 L355.8,559.7 L345.0,549.7 L334.3,539.7 L323.7,529.7 L313.2,519.7 L302.7,509.6 L292.3,499.6 L281.9,489.6 L271.6,479.6 L261.4,469.6 L251.2,459.6 L241.1,449.6 L231.1,439.5 L221.1,429.5 L211.2,419.5 L201.4,409.5 L191.6,399.5 L181.9,389.5 L172.2,379.5 L162.6,369.4 L153.1,359.4 L143.6,349.4 L134.2,339.4 L124.9,329.4 L115.6,319.4 L106.4,309.4 L97.3,299.3 L88.2,289.3 L79.1,279.3 L70.2,269.3 L61.3,259.3 L52.4,249.3 L43.7,239.3 L34.9,229.2 L26.3,219.2 L17.7,209.2 L9.1,199.2"/>
<path d="M1540.8,1791.5 L1537.2,1781.5 L1533.5,1771.5 L1529.7,1761.5 L1525.9,1751.4 L1522.1,1741.4 L1518.3,1731.4 L1514.4,1721.4 L1510.5,1711.4 L1506.5,1701.4 L1502.6,1691.4 L1498.6,1681.3 L1494.6,1671.3 L1490.6,1661.3 L1486.5,1651.3 L1482.4,1641.3 L1478.3,1631.3 L1474.1,1621.3 L1469.9,1611.2 L1465.7,1601.2 L1461.5,1591.2 L1457.2,1581.2 L1452.9,1571.2 L1448.5,1561.2 L1444.1,1551.2 L1439.6,1541.1 L1435.2,1531.1 L1430.6,1521.1 L1426.1,1511.1 L1421.5,1501.1 L1416.8,1491.1 L1412.1,1481.1 L1407.3,1471.0 L1402.5,1461.0 L1397.7,1451.0 L1392.8,1441.0 L1387.8,1431.0 L1382.8,1421.0 L1377.7,1411.0 L1372.6,1400.9 L1367.4,1390.9 L1362.1,1380.9 L1356.8,1370.9 L1351.4,1360.9 L1346.0,1350.9 L1340.4,1340.8 L1334.8,1330.8 L1329.2,1320.8 L1323.4,1310.8 L1317.6,1300.8 L1311.7,1290.8 L1305.8,1280.8 L1299.7,1270.7 L1293.6,1260.7 L1287.3,1250.7 L1281.0,1240.7 L1274.6,1230.7 L1268.1,1220.7 L1261.5,1210.7 L1254.8,1200.6 L1248.0,1190.6 L1241.1,1180.6 L1234.1,1170.6 L1227.0,1160.6 L1219.8,1150.6 L1212.5,1140.6 L1205.1,1130.5 L1197.6,1120.5 L1189.9,1110.5 L1182.1,1100.5 L1174.2,1090.5 L1166.2,1080.5 L1158.1,1070.5 L1149.8,1060.4 L1141.5,1050.4 L1132.9,1040.4 L1124.3,1030.4 L1115.6,1020.4 L1106.7,1010.4 L1097.7,1000.4 L1088.5,990.3 L1079.2,980.3 L1069.8,970.3 L1060.3,960.3 L1050.7,950.3 L1040.9,940.3 L1031.0,930.3 L1021.0,920.2 L1010.9,910.2 L1000.6,900.2 L990.2,890.2 L979.8,880.2 L969.2,870.2 L958.5,860.2 L947.7,850.1 L936.8,840.1 L925.9,830.1 L914.8,820.1 L903.7,810.1 L892.5,800.1 L881.2,790.1 L869.8,780.0 L858.4,770.0 L846.9,760.0 L835.4,750.0 L823.9,740.0 L812.3,730.0 L800.6,720.0 L788.9,709.9 L777.3,699.9 L765.5,689.9 L753.8,679.9 L742.1,669.9 L730.4,659.9 L718.6,649.9 L706.9,639.8 L695.2,629.8 L683.5,619.8 L671.8,609.8 L660.1,599.8 L648.5,589.8 L636.9,579.7 L625.3,569.7 L613.8,559.7 L602.3,549.7 L590.8,539.7 L579.4,529.7 L568.0,519.7 L556.6,509.6 L545.3,499.6 L534.1,489.6 L522.9,479.6 L511.8,469.6 L500.7,459.6 L489.7,449.6 L478.7,439.5 L467.8,429.5 L456.9,419.5 L446.1,409.5 L435.4,399.5 L424.7,389.5 L414.1,379.5 L403.6,369.4 L393.1,359.4 L382.6,349.4 L372.3,339.4 L362.0,329.4 L351.7,319.4 L341.6,309.4 L331.4,299.3 L321.4,289.3 L311.4,279.3 L301.5,269.3 L291.6,259.3 L281.8,249.3 L272.1,239.3 L262.4,229.2 L252.8,219.2 L243.3,209.2 L233.8,199.2"/>
<path d="M1635.4,1791.5 L1632.4,1781.5 L1629.4,1771.5 L1626.3,1761.5 L1623.3,1751.4 L1620.1,1741.4 L1617.0,1731.4 L1613.9,1721.4 L1610.8,1711.4 L1607.6,1701.4 L1604.4,1691.4 L1601.3,1681.3 L1598.1,1671.3 L1594.9,1661.3 L1591.6,1651.3 L1588.4,1641.3 L1585.2,1631.3 L1581.9,1621.3 L1578.6,1611.2 L1575.4,1601.2 L1572.0,1591.2 L1568.7,1581.2 L1565.4,1571.2 L1562.0,1561.2 L1558.6,1551.2 L1555.2,1541.1 L1551.8,1531.1 L1548.4,1521.1 L1544.9,1511.1 L1541.4,1501.1 L1537.9,1491.1 L1534.4,1481.1 L1530.8,1471.0 L1527.2,1461.0 L1523.6,1451.0 L1520.0,1441.0 L1516.3,1431.0 L1512.6,1421.0 L1508.9,1411.0 L1505.1,1400.9 L1501.3,1390.9 L1497.5,1380.9 L1493.6,1370.9 L1489.7,1360.9 L1485.8,1350.9 L1481.8,1340.8 L1477.8,1330.8 L1473.8,1320.8 L1469.7,1310.8 L1465.6,1300.8 L1461.4,1290.8 L1457.2,1280.8 L1453.0,1270.7 L1448.7,1260.7 L1444.3,1250.7 L1439.9,1240.7 L1435.5,1230.7 L1431.0,1220.7 L1426.4,1210.7 L1421.8,1200.6 L1417.1,1190.6 L1412.4,1180.6 L1407.6,1170.6 L1402.8,1160.6 L1397.9,1150.6 L1392.9,1140.6 L1387.9,1130.5 L1382.8,1120.5 L1377.6,1110.5 L1372.4,1100.5 L1367.0,1090.5 L1361.6,1080.5 L1356.2,1070.5 L1350.6,1060.4 L1345.0,1050.4 L1339.3,1040.4 L1333.4,1030.4 L1327.6,1020.4 L1321.6,1010.4 L1315.5,1000.4 L1309.3,990.3 L1303.1,980.3 L1296.7,970.3 L1290.2,960.3 L1283.7,950.3 L1277.0,940.3 L1270.2,930.3 L1263.3,920.2 L1256.3,910.2 L1249.2,900.2 L1241.9,890.2 L1234.6,880.2 L1227.1,870.2 L1219.5,860.2 L1211.8,850.1 L1203.9,840.1 L1196.0,830.1 L1187.9,820.1 L1179.6,810.1 L1171.3,800.1 L1162.8,790.1 L1154.2,780.0 L1145.4,770.0 L1136.5,760.0 L1127.5,750.0 L1118.4,740.0 L1109.1,730.0 L1099.7,720.0 L1090.1,709.9 L1080.5,699.9 L1070.7,689.9 L1060.8,679.9 L1050.8,669.9 L1040.6,659.9 L1030.4,649.9 L1020.0,639.8 L1009.6,629.8 L999.0,619.8 L988.3,609.8 L977.6,599.8 L966.7,589.8 L955.8,579.7 L944.8,569.7 L933.7,559.7 L922.6,549.7 L911.4,539.7 L900.2,529.7 L888.9,519.7 L877.5,509.6 L866.1,499.6 L854.7,489.6 L843.3,479.6 L831.8,469.6 L820.4,459.6 L808.9,449.6 L797.4,439.5 L785.9,429.5 L774.4,419.5 L762.9,409.5 L751.4,399.5 L740.0,389.5 L728.6,379.5 L717.2,369.4 L705.8,359.4 L694.4,349.4 L683.1,339.4 L671.8,329.4 L660.6,319.4 L649.4,309.4 L638.2,299.3 L627.1,289.3 L616.0,279.3 L605.0,269.3 L594.1,259.3 L583.1,249.3 L572.3,239.3 L561.5,229.2 L550.7,219.2 L540.0,209.2 L529.4,199.2"/>
<path d="M1730.4,1791.5 L1727.9,1781.5 L1725.4,1771.5 L1723.0,1761.5 L1720.5,1751.4 L1717.9,1741.4 L1715.4,1731.4 L1712.9,1721.4 L1710.3,1711.4 L1707.8,1701.4 L1705.3,1691.4 L1702.7,1681.3 L1700.2,1671.3 L1697.6,1661.3 L1695.1,1651.3 L1692.5,1641.3 L1690.0,1631.3 L1687.4,1621.3 L1684.9,1611.2 L1682.3,1601.2 L1679.7,1591.2 L1677.1,1581.2 L1674.5,1571.2 L1672.0,1561.2 L1669.4,1551.2 L1666.8,1541.1 L1664.1,1531.1 L1661.5,1521.1 L1658.9,1511.1 L1656.3,1501.1 L1653.6,1491.1 L1651.0,1481.1 L1648.3,1471.0 L1645.6,1461.0 L1643.0,1451.0 L1640.3,1441.0 L1637.6,1431.0 L1634.8,1421.0 L1632.1,1411.0 L1629.4,1400.9 L1626.6,1390.9 L1623.9,1380.9 L1621.1,1370.9 L1618.3,1360.9 L1615.5,1350.9 L1612.7,1340.8 L1609.8,1330.8 L1607.0,1320.8 L1604.1,1310.8 L1601.2,1300.8 L1598.3,1290.8 L1595.4,1280.8 L1592.4,1270.7 L1589.5,1260.7 L1586.5,1250.7 L1583.5,1240.7 L1580.4,1230.7 L1577.4,1220.7 L1574.3,1210.7 L1571.2,1200.6 L1568.1,1190.6 L1564.9,1180.6 L1561.7,1170.6 L1558.5,1160.6 L1555.3,1150.6 L1552.0,1140.6 L1548.8,1130.5 L1545.4,1120.5 L1542.1,1110.5 L1538.7,1100.5 L1535.3,1090.5 L1531.8,1080.5 L1528.3,1070.5 L1524.8,1060.4 L1521.2,1050.4 L1517.6,1040.4 L1514.0,1030.4 L1510.3,1020.4 L1506.6,1010.4 L1502.8,1000.4 L1499.0,990.3 L1495.1,980.3 L1491.2,970.3 L1487.2,960.3 L1483.2,950.3 L1479.2,940.3 L1475.0,930.3 L1470.9,920.2 L1466.6,910.2 L1462.4,900.2 L1458.0,890.2 L1453.6,880.2 L1449.1,870.2 L1444.6,860.2 L1440.0,850.1 L1435.3,840.1 L1430.6,830.1 L1425.8,820.1 L1420.9,810.1 L1415.9,800.1 L1410.9,790.1 L1405.8,780.0 L1400.6,770.0 L1395.3,760.0 L1389.9,750.0 L1384.4,740.0 L1378.9,730.0 L1373.2,720.0 L1367.5,709.9 L1361.7,699.9 L1355.7,689.9 L1349.7,679.9 L1343.5,669.9 L1337.3,659.9 L1330.9,649.9 L1324.4,639.8 L1317.8,629.8 L1311.1,619.8 L1304.3,609.8 L1297.3,599.8 L1290.2,589.8 L1283.0,579.7 L1275.7,569.7 L1268.2,559.7 L1260.7,549.7 L1252.9,539.7 L1245.1,529.7 L1237.1,519.7 L1229.0,509.6 L1220.7,499.6 L1212.3,489.6 L1203.8,479.6 L1195.1,469.6 L1186.3,459.6 L1177.4,449.6 L1168.3,439.5 L1159.1,429.5 L1149.8,419.5 L1140.4,409.5 L1130.8,399.5 L1121.1,389.5 L1111.2,379.5 L1101.3,369.4 L1091.2,359.4 L1081.1,349.4 L1070.8,339.4 L1060.4,329.4 L1050.0,319.4 L1039.4,309.4 L1028.8,299.3 L1018.1,289.3 L1007.3,279.3 L996.4,269.3 L985.5,259.3 L974.6,249.3 L963.5,239.3 L952.5,229.2 L941.4,219.2 L930.2,209.2 L919.1,199.2"/>
<path d="M1825.7,1791.5 L1823.7,1781.5 L1821.7,1771.5 L1819.7,1761.5 L1817.6,1751.4 L1815.5,1741.4 L1813.4,1731.4 L1811.4,1721.4 L1809.3,1711.4 L1807.3,1701.4 L1805.2,1691.4 L1803.1,1681.3 L1801.1,1671.3 L1799.1,1661.3 L1797.0,1651.3 L1795.0,1641.3 L1792.9,1631.3 L1790.9,1621.3 L1788.9,1611.2 L1786.9,1601.2 L1784.8,1591.2 L1782.8,1581.2 L1780.8,1571.2 L1778.8,1561.2 L1776.8,1551.2 L1774.8,1541.1 L1772.8,1531.1 L1770.7,1521.1 L1768.7,1511.1 L1766.7,1501.1 L1764.7,1491.1 L1762.7,1481.1 L1760.7,1471.0 L1758.7,1461.0 L1756.7,1451.0 L1754.7,1441.0 L1752.7,1431.0 L1750.7,1421.0 L1748.7,1411.0 L1746.7,1400.9 L1744.7,1390.9 L1742.6,1380.9 L1740.6,1370.9 L1738.6,1360.9 L1736.6,1350.9 L1734.6,1340.8 L1732.5,1330.8 L1730.5,1320.8 L1728.5,1310.8 L1726.4,1300.8 L1724.4,1290.8 L1722.4,1280.8 L1720.3,1270.7 L1718.3,1260.7 L1716.2,1250.7 L1714.1,1240.7 L1712.1,1230.7 L1710.0,1220.7 L1707.9,1210.7 L1705.8,1200.6 L1703.7,1190.6 L1701.6,1180.6 L1699.5,1170.6 L1697.4,1160.6 L1695.3,1150.6 L1693.1,1140.6 L1691.0,1130.5 L1688.8,1120.5 L1686.7,1110.5 L1684.5,1100.5 L1682.3,1090.5 L1680.1,1080.5 L1677.9,1070.5 L1675.7,1060.4 L1673.4,1050.4 L1671.2,1040.4 L1668.9,1030.4 L1666.6,1020.4 L1664.4,1010.4 L1662.0,1000.4 L1659.7,990.3 L1657.4,980.3 L1655.0,970.3 L1652.7,960.3 L1650.3,950.3 L1647.9,940.3 L1645.4,930.3 L1643.0,920.2 L1640.5,910.2 L1638.1,900.2 L1635.6,890.2 L1633.0,880.2 L1630.5,870.2 L1627.9,860.2 L1625.3,850.1 L1622.7,840.1 L1620.0,830.1 L1617.4,820.1 L1614.6,810.1 L1611.9,800.1 L1609.2,790.1 L1606.4,780.0 L1603.5,770.0 L1600.7,760.0 L1597.8,750.0 L1594.9,740.0 L1591.9,730.0 L1589.0,720.0 L1585.9,709.9 L1582.9,699.9 L1579.8,689.9 L1576.6,679.9 L1573.5,669.9 L1570.2,659.9 L1567.0,649.9 L1563.7,639.8 L1560.3,629.8 L1556.9,619.8 L1553.4,609.8 L1549.9,599.8 L1546.4,589.8 L1542.8,579.7 L1539.1,569.7 L1535.4,559.7 L1531.6,549.7 L1527.8,539.7 L1523.9,529.7 L1519.9,519.7 L1515.9,509.6 L1511.8,499.6 L1507.6,489.6 L1503.4,479.6 L1499.1,469.6 L1494.7,459.6 L1490.3,449.6 L1485.7,439.5 L1481.1,429.5 L1476.4,419.5 L1471.6,409.5 L1466.8,399.5 L1461.8,389.5 L1456.8,379.5 L1451.6,369.4 L1446.4,359.4 L1441.0,349.4 L1435.6,339.4 L1430.0,329.4 L1424.4,319.4 L1418.6,309.4 L1412.7,299.3 L1406.7,289.3 L1400.6,279.3 L1394.4,269.3 L1388.0,259.3 L1381.5,249.3 L1374.9,239.3 L1368.2,229.2 L1361.3,219.2 L1354.3,209.2 L1347.2,199.2"/>
<path d="M1921.5,1791.5 L1919.8,1781.5 L1918.1,1771.5 L1916.4,1761.5 L1914.6,1751.4 L1912.9,1741.4 L1911.2,1731.4 L1909.5,1721.4 L1907.8,1711.4 L1906.1,1701.4 L1904.4,1691.4 L1902.7,1681.3 L1901.0,1671.3 L1899.3,1661.3 L1897.7,1651.3 L1896.0,1641.3 L1894.4,1631.3 L1892.7,1621.3 L1891.1,1611.2 L1889.5,1601.2 L1887.8,1591.2 L1886.2,1581.2 L1884.6,1571.2 L1883.0,1561.2 L1881.4,1551.2 L1879.9,1541.1 L1878.3,1531.1 L1876.7,1521.1 L1875.1,1511.1 L1873.6,1501.1 L1872.0,1491.1 L1870.5,1481.1 L1869.0,1471.0 L1867.4,1461.0 L1865.9,1451.0 L1864.4,1441.0 L1862.9,1431.0 L1861.3,1421.0 L1859.8,1411.0 L1858.3,1400.9 L1856.8,1390.9 L1855.3,1380.9 L1853.9,1370.9 L1852.4,1360.9 L1850.9,1350.9 L1849.4,1340.8 L1848.0,1330.8 L1846.5,1320.8 L1845.0,1310.8 L1843.6,1300.8 L1842.1,1290.8 L1840.7,1280.8 L1839.2,1270.7 L1837.8,1260.7 L1836.3,1250.7 L1834.9,1240.7 L1833.5,1230.7 L1832.0,1220.7 L1830.6,1210.7 L1829.2,1200.6 L1827.7,1190.6 L1826.3,1180.6 L1824.9,1170.6 L1823.5,1160.6 L1822.1,1150.6 L1820.6,1140.6 L1819.2,1130.5 L1817.8,1120.5 L1816.4,1110.5 L1815.0,1100.5 L1813.6,1090.5 L1812.2,1080.5 L1810.8,1070.5 L1809.3,1060.4 L1807.9,1050.4 L1806.5,1040.4 L1805.1,1030.4 L1803.7,1020.4 L1802.3,1010.4 L1800.9,1000.4 L1799.5,990.3 L1798.0,980.3 L1796.6,970.3 L1795.2,960.3 L1793.8,950.3 L1792.4,940.3 L1790.9,930.3 L1789.5,920.2 L1788.1,910.2 L1786.6,900.2 L1785.2,890.2 L1783.7,880.2 L1782.3,870.2 L1780.8,860.2 L1779.4,850.1 L1777.9,840.1 L1776.5,830.1 L1775.0,820.1 L1773.5,810.1 L1772.0,800.1 L1770.5,790.1 L1769.0,780.0 L1767.5,770.0 L1766.0,760.0 L1764.5,750.0 L1763.0,740.0 L1761.4,730.0 L1759.9,720.0 L1758.3,709.9 L1756.8,699.9 L1755.2,689.9 L1753.6,679.9 L1752.0,669.9 L1750.4,659.9 L1748.8,649.9 L1747.2,639.8 L1745.6,629.8 L1743.9,619.8 L1742.3,609.8 L1740.6,599.8 L1738.9,589.8 L1737.2,579.7 L1735.5,569.7 L1733.8,559.7 L1732.0,549.7 L1730.3,539.7 L1728.5,529.7 L1726.7,519.7 L1724.9,509.6 L1723.1,499.6 L1721.2,489.6 L1719.4,479.6 L1717.5,469.6 L1715.6,459.6 L1713.6,449.6 L1711.7,439.5 L1709.7,429.5 L1707.7,419.5 L1705.7,409.5 L1703.7,399.5 L1701.6,389.5 L1699.5,379.5 L1697.4,369.4 L1695.2,359.4 L1693.0,349.4 L1690.8,339.4 L1688.6,329.4 L1686.3,319.4 L1684.0,309.4 L1681.7,299.3 L1679.3,289.3 L1676.9,279.3 L1674.5,269.3 L1672.0,259.3 L1669.5,249.3 L1667.0,239.3 L1664.4,229.2 L1661.7,219.2 L1659.1,209.2 L1656.4,199.2"/>
<path d="M2017.5,1791.5 L2016.0,1781.5 L2014.6,1771.5 L2013.1,1761.5 L2011.6,1751.4 L2010.1,1741.4 L2008.7,1731.4 L2007.2,1721.4 L2005.7,1711.4 L2004.3,1701.4 L2002.9,1691.4 L2001.4,1681.3 L2000.0,1671.3 L1998.6,1661.3 L1997.2,1651.3 L1995.9,1641.3 L1994.5,1631.3 L1993.1,1621.3 L1991.8,1611.2 L1990.4,1601.2 L1989.1,1591.2 L1987.8,1581.2 L1986.5,1571.2 L1985.2,1561.2 L1983.9,1551.2 L1982.6,1541.1 L1981.3,1531.1 L1980.0,1521.1 L1978.8,1511.1 L1977.5,1501.1 L1976.3,1491.1 L1975.1,1481.1 L1973.9,1471.0 L1972.7,1461.0 L1971.5,1451.0 L1970.3,1441.0 L1969.1,1431.0 L1967.9,1421.0 L1966.7,1411.0 L1965.6,1400.9 L1964.4,1390.9 L1963.3,1380.9 L1962.2,1370.9 L1961.0,1360.9 L1959.9,1350.9 L1958.8,1340.8 L1957.7,1330.8 L1956.6,1320.8 L1955.6,1310.8 L1954.5,1300.8 L1953.4,1290.8 L1952.4,1280.8 L1951.3,1270.7 L1950.3,1260.7 L1949.2,1250.7 L1948.2,1240.7 L1947.2,1230.7 L1946.2,1220.7 L1945.2,1210.7 L1944.2,1200.6 L1943.2,1190.6 L1942.2,1180.6 L1941.2,1170.6 L1940.2,1160.6 L1939.3,1150.6 L1938.3,1140.6 L1937.3,1130.5 L1936.4,1120.5 L1935.5,1110.5 L1934.5,1100.5 L1933.6,1090.5 L1932.7,1080.5 L1931.8,1070.5 L1930.9,1060.4 L1929.9,1050.4 L1929.1,1040.4 L1928.2,1030.4 L1927.3,1020.4 L1926.4,1010.4 L1925.5,1000.4 L1924.6,990.3 L1923.8,980.3 L1922.9,970.3 L1922.1,960.3 L1921.2,950.3 L1920.4,940.3 L1919.5,930.3 L1918.7,920.2 L1917.9,910.2 L1917.0,900.2 L1916.2,890.2 L1915.4,880.2 L1914.6,870.2 L1913.8,860.2 L1913.0,850.1 L1912.2,840.1 L1911.4,830.1 L1910.6,820.1 L1909.8,810.1 L1909.0,800.1 L1908.2,790.1 L1907.4,780.0 L1906.6,770.0 L1905.9,760.0 L1905.1,750.0 L1904.3,740.0 L1903.6,730.0 L1902.8,720.0 L1902.0,709.9 L1901.3,699.9 L1900.5,689.9 L1899.8,679.9 L1899.0,669.9 L1898.2,659.9 L1897.5,649.9 L1896.7,639.8 L1896.0,629.8 L1895.2,619.8 L1894.5,609.8 L1893.7,599.8 L1893.0,589.8 L1892.3,579.7 L1891.5,569.7 L1890.8,559.7 L1890.0,549.7 L1889.3,539.7 L1888.5,529.7 L1887.8,519.7 L1887.0,509.6 L1886.3,499.6 L1885.6,489.6 L1884.8,479.6 L1884.1,469.6 L1883.3,459.6 L1882.6,449.6 L1881.8,439.5 L1881.0,429.5 L1880.3,419.5 L1879.5,409.5 L1878.8,399.5 L1878.0,389.5 L1877.2,379.5 L1876.4,369.4 L1875.7,359.4 L1874.9,349.4 L1874.1,339.4 L1873.3,329.4 L1872.5,319.4 L1871.7,309.4 L1870.9,299.3 L1870.1,289.3 L1869.3,279.3 L1868.5,269.3 L1867.7,259.3 L1866.9,249.3 L1866.0,239.3 L1865.2,229.2 L1864.3,219.2 L1863.5,209.2 L1862.6,199.2"/>
</g>
<g stroke="#008000" stroke-opacity="0.75" stroke-width="2.8" fill="none" stroke-dasharray="2.87 4.74">
<path d="M511.5,1758.5 L515.0,1745.4 L518.5,1732.3 L522.1,1719.2 L525.6,1706.0 L529.1,1692.9 L532.7,1679.8 L536.2,1666.7 L539.8,1653.6 L543.3,1640.5 L546.9,1627.4 L550.5,1614.3 L554.0,1601.2 L557.6,1588.1 L561.2,1575.0 L564.9,1561.9 L568.5,1548.8 L572.1,1535.7 L575.7,1522.6 L579.4,1509.5 L583.0,1496.4 L586.7,1483.3 L590.3,1470.2 L594.0,1457.1 L597.7,1444.0 L601.3,1430.9 L605.0,1417.8 L608.7,1404.7 L612.4,1391.6 L616.2,1378.5 L619.9,1365.4 L623.6,1352.3 L627.3,1339.2 L631.1,1326.1 L634.8,1313.0 L638.6,1299.9 L642.3,1286.8 L646.1,1273.6 L649.9,1260.5 L653.7,1247.4 L657.5,1234.3 L661.3,1221.2 L665.1,1208.1 L668.9,1195.0 L672.7,1181.9 L676.5,1168.8 L680.4,1155.7 L684.2,1142.6 L688.0,1129.5 L691.9,1116.4 L695.8,1103.3 L699.6,1090.2 L703.5,1077.1 L707.4,1064.0 L711.3,1050.9 L715.2,1037.8 L719.1,1024.7 L723.0,1011.6 L726.9,998.5 L730.8,985.4 L734.7,972.3 L738.7,959.2 L742.6,946.1 L746.6,933.0 L750.5,919.9 L754.5,906.8 L758.4,893.7 L762.4,880.6 L766.4,867.5 L770.4,854.4 L774.4,841.2 L778.4,828.1 L782.4,815.0 L786.4,801.9 L790.4,788.8 L794.4,775.7 L798.5,762.6 L802.5,749.5 L806.6,736.4 L810.6,723.3 L814.7,710.2 L818.7,697.1 L822.8,684.0 L826.9,670.9 L831.0,657.8 L835.0,644.7 L839.1,631.6 L843.2,618.5 L847.4,605.4 L851.5,592.3 L855.6,579.2 L859.7,566.1 L863.8,553.0 L868.0,539.9 L872.1,526.8 L876.3,513.7 L880.4,500.6 L884.6,487.5 L888.8,474.4 L892.9,461.3 L897.1,448.2 L901.3,435.1 L905.5,422.0 L909.7,408.8 L913.9,395.7 L918.1,382.6 L922.3,369.5 L926.5,356.4 L930.8,343.3 L935.0,330.2 L939.3,317.1 L943.5,304.0 L947.7,290.9 L952.0,277.8 L956.3,264.7 L960.5,251.6 L964.8,238.5 L969.1,225.4 L973.4,212.3 L977.7,199.2"/>
<path d="M712.9,1758.5 L716.0,1745.4 L719.1,1732.3 L722.2,1719.2 L725.4,1706.0 L728.5,1692.9 L731.6,1679.8 L734.8,1666.7 L738.0,1653.6 L741.1,1640.5 L744.3,1627.4 L747.5,1614.3 L750.7,1601.2 L753.9,1588.1 L757.1,1575.0 L760.4,1561.9 L763.6,1548.8 L766.8,1535.7 L770.1,1522.6 L773.3,1509.5 L776.6,1496.4 L779.9,1483.3 L783.2,1470.2 L786.5,1457.1 L789.8,1444.0 L793.1,1430.9 L796.4,1417.8 L799.7,1404.7 L803.1,1391.6 L806.4,1378.5 L809.8,1365.4 L813.1,1352.3 L816.5,1339.2 L819.9,1326.1 L823.2,1313.0 L826.6,1299.9 L830.0,1286.8 L833.4,1273.6 L836.9,1260.5 L840.3,1247.4 L843.7,1234.3 L847.2,1221.2 L850.6,1208.1 L854.1,1195.0 L857.5,1181.9 L861.0,1168.8 L864.5,1155.7 L868.0,1142.6 L871.5,1129.5 L875.0,1116.4 L878.5,1103.3 L882.0,1090.2 L885.6,1077.1 L889.1,1064.0 L892.6,1050.9 L896.2,1037.8 L899.8,1024.7 L903.3,1011.6 L906.9,998.5 L910.5,985.4 L914.1,972.3 L917.7,959.2 L921.3,946.1 L924.9,933.0 L928.5,919.9 L932.1,906.8 L935.8,893.7 L939.4,880.6 L943.1,867.5 L946.7,854.4 L950.4,841.2 L954.1,828.1 L957.7,815.0 L961.4,801.9 L965.1,788.8 L968.8,775.7 L972.5,762.6 L976.3,749.5 L980.0,736.4 L983.7,723.3 L987.5,710.2 L991.2,697.1 L995.0,684.0 L998.7,670.9 L1002.5,657.8 L1006.3,644.7 L1010.0,631.6 L1013.8,618.5 L1017.6,605.4 L1021.4,592.3 L1025.2,579.2 L1029.1,566.1 L1032.9,553.0 L1036.7,539.9 L1040.5,526.8 L1044.4,513.7 L1048.2,500.6 L1052.1,487.5 L1056.0,474.4 L1059.8,461.3 L1063.7,448.2 L1067.6,435.1 L1071.5,422.0 L1075.4,408.8 L1079.3,395.7 L1083.2,382.6 L1087.1,369.5 L1091.1,356.4 L1095.0,343.3 L1098.9,330.2 L1102.9,317.1 L1106.8,304.0 L1110.8,290.9 L1114.7,277.8 L1118.7,264.7 L1122.7,251.6 L1126.7,238.5 L1130.7,225.4 L1134.7,212.3 L1138.7,199.2"/>
<path d="M878.4,1758.5 L881.2,1745.4 L883.9,1732.3 L886.7,1719.2 L889.5,1706.0 L892.3,1692.9 L895.1,1679.8 L897.9,1666.7 L900.7,1653.6 L903.6,1640.5 L906.4,1627.4 L909.3,1614.3 L912.2,1601.2 L915.0,1588.1 L917.9,1575.0 L920.8,1561.9 L923.7,1548.8 L926.6,1535.7 L929.6,1522.6 L932.5,1509.5 L935.4,1496.4 L938.4,1483.3 L941.4,1470.2 L944.3,1457.1 L947.3,1444.0 L950.3,1430.9 L953.3,1417.8 L956.3,1404.7 L959.3,1391.6 L962.4,1378.5 L965.4,1365.4 L968.5,1352.3 L971.5,1339.2 L974.6,1326.1 L977.7,1313.0 L980.7,1299.9 L983.8,1286.8 L986.9,1273.6 L990.0,1260.5 L993.2,1247.4 L996.3,1234.3 L999.4,1221.2 L1002.6,1208.1 L1005.7,1195.0 L1008.9,1181.9 L1012.1,1168.8 L1015.3,1155.7 L1018.5,1142.6 L1021.7,1129.5 L1024.9,1116.4 L1028.1,1103.3 L1031.3,1090.2 L1034.5,1077.1 L1037.8,1064.0 L1041.0,1050.9 L1044.3,1037.8 L1047.6,1024.7 L1050.9,1011.6 L1054.1,998.5 L1057.4,985.4 L1060.7,972.3 L1064.1,959.2 L1067.4,946.1 L1070.7,933.0 L1074.0,919.9 L1077.4,906.8 L1080.7,893.7 L1084.1,880.6 L1087.5,867.5 L1090.9,854.4 L1094.2,841.2 L1097.6,828.1 L1101.0,815.0 L1104.5,801.9 L1107.9,788.8 L1111.3,775.7 L1114.7,762.6 L1118.2,749.5 L1121.6,736.4 L1125.1,723.3 L1128.6,710.2 L1132.0,697.1 L1135.5,684.0 L1139.0,670.9 L1142.5,657.8 L1146.0,644.7 L1149.5,631.6 L1153.1,618.5 L1156.6,605.4 L1160.1,592.3 L1163.7,579.2 L1167.2,566.1 L1170.8,553.0 L1174.4,539.9 L1177.9,526.8 L1181.5,513.7 L1185.1,500.6 L1188.7,487.5 L1192.3,474.4 L1195.9,461.3 L1199.6,448.2 L1203.2,435.1 L1206.8,422.0 L1210.5,408.8 L1214.1,395.7 L1217.8,382.6 L1221.5,369.5 L1225.1,356.4 L1228.8,343.3 L1232.5,330.2 L1236.2,317.1 L1239.9,304.0 L1243.6,290.9 L1247.3,277.8 L1251.1,264.7 L1254.8,251.6 L1258.5,238.5 L1262.3,225.4 L1266.0,212.3 L1269.8,199.2"/>
<path d="M1056.5,1758.5 L1058.8,1745.4 L1061.2,1732.3 L1063.6,1719.2 L1066.0,1706.0 L1068.4,1692.9 L1070.9,1679.8 L1073.3,1666.7 L1075.8,1653.6 L1078.2,1640.5 L1080.7,1627.4 L1083.2,1614.3 L1085.7,1601.2 L1088.2,1588.1 L1090.7,1575.0 L1093.3,1561.9 L1095.8,1548.8 L1098.3,1535.7 L1100.9,1522.6 L1103.5,1509.5 L1106.1,1496.4 L1108.7,1483.3 L1111.3,1470.2 L1113.9,1457.1 L1116.5,1444.0 L1119.1,1430.9 L1121.8,1417.8 L1124.5,1404.7 L1127.1,1391.6 L1129.8,1378.5 L1132.5,1365.4 L1135.2,1352.3 L1137.9,1339.2 L1140.6,1326.1 L1143.4,1313.0 L1146.1,1299.9 L1148.8,1286.8 L1151.6,1273.6 L1154.4,1260.5 L1157.2,1247.4 L1159.9,1234.3 L1162.7,1221.2 L1165.6,1208.1 L1168.4,1195.0 L1171.2,1181.9 L1174.1,1168.8 L1176.9,1155.7 L1179.8,1142.6 L1182.6,1129.5 L1185.5,1116.4 L1188.4,1103.3 L1191.3,1090.2 L1194.2,1077.1 L1197.1,1064.0 L1200.1,1050.9 L1203.0,1037.8 L1205.9,1024.7 L1208.9,1011.6 L1211.9,998.5 L1214.8,985.4 L1217.8,972.3 L1220.8,959.2 L1223.8,946.1 L1226.8,933.0 L1229.9,919.9 L1232.9,906.8 L1235.9,893.7 L1239.0,880.6 L1242.1,867.5 L1245.1,854.4 L1248.2,841.2 L1251.3,828.1 L1254.4,815.0 L1257.5,801.9 L1260.6,788.8 L1263.7,775.7 L1266.9,762.6 L1270.0,749.5 L1273.2,736.4 L1276.3,723.3 L1279.5,710.2 L1282.7,697.1 L1285.8,684.0 L1289.0,670.9 L1292.2,657.8 L1295.5,644.7 L1298.7,631.6 L1301.9,618.5 L1305.1,605.4 L1308.4,592.3 L1311.7,579.2 L1314.9,566.1 L1318.2,553.0 L1321.5,539.9 L1324.8,526.8 L1328.1,513.7 L1331.4,500.6 L1334.7,487.5 L1338.0,474.4 L1341.3,461.3 L1344.7,448.2 L1348.0,435.1 L1351.4,422.0 L1354.7,408.8 L1358.1,395.7 L1361.5,382.6 L1364.9,369.5 L1368.3,356.4 L1371.7,343.3 L1375.1,330.2 L1378.5,317.1 L1382.0,304.0 L1385.4,290.9 L1388.9,277.8 L1392.3,264.7 L1395.8,251.6 L1399.2,238.5 L1402.7,225.4 L1406.2,212.3 L1409.7,199.2"/>
<path d="M1210.1,1758.5 L1212.1,1745.4 L1214.2,1732.3 L1216.2,1719.2 L1218.3,1706.0 L1220.4,1692.9 L1222.5,1679.8 L1224.6,1666.7 L1226.7,1653.6 L1228.8,1640.5 L1231.0,1627.4 L1233.1,1614.3 L1235.3,1601.2 L1237.5,1588.1 L1239.7,1575.0 L1241.9,1561.9 L1244.1,1548.8 L1246.3,1535.7 L1248.6,1522.6 L1250.8,1509.5 L1253.1,1496.4 L1255.3,1483.3 L1257.6,1470.2 L1259.9,1457.1 L1262.2,1444.0 L1264.6,1430.9 L1266.9,1417.8 L1269.2,1404.7 L1271.6,1391.6 L1274.0,1378.5 L1276.3,1365.4 L1278.7,1352.3 L1281.1,1339.2 L1283.5,1326.1 L1286.0,1313.0 L1288.4,1299.9 L1290.8,1286.8 L1293.3,1273.6 L1295.8,1260.5 L1298.2,1247.4 L1300.7,1234.3 L1303.2,1221.2 L1305.7,1208.1 L1308.3,1195.0 L1310.8,1181.9 L1313.3,1168.8 L1315.9,1155.7 L1318.5,1142.6 L1321.0,1129.5 L1323.6,1116.4 L1326.2,1103.3 L1328.8,1090.2 L1331.5,1077.1 L1334.1,1064.0 L1336.7,1050.9 L1339.4,1037.8 L1342.0,1024.7 L1344.7,1011.6 L1347.4,998.5 L1350.1,985.4 L1352.8,972.3 L1355.5,959.2 L1358.2,946.1 L1361.0,933.0 L1363.7,919.9 L1366.5,906.8 L1369.2,893.7 L1372.0,880.6 L1374.8,867.5 L1377.6,854.4 L1380.4,841.2 L1383.2,828.1 L1386.0,815.0 L1388.9,801.9 L1391.7,788.8 L1394.6,775.7 L1397.4,762.6 L1400.3,749.5 L1403.2,736.4 L1406.1,723.3 L1409.0,710.2 L1411.9,697.1 L1414.8,684.0 L1417.7,670.9 L1420.7,657.8 L1423.6,644.7 L1426.6,631.6 L1429.6,618.5 L1432.5,605.4 L1435.5,592.3 L1438.5,579.2 L1441.5,566.1 L1444.5,553.0 L1447.6,539.9 L1450.6,526.8 L1453.7,513.7 L1456.7,500.6 L1459.8,487.5 L1462.8,474.4 L1465.9,461.3 L1469.0,448.2 L1472.1,435.1 L1475.2,422.0 L1478.3,408.8 L1481.5,395.7 L1484.6,382.6 L1487.7,369.5 L1490.9,356.4 L1494.1,343.3 L1497.2,330.2 L1500.4,317.1 L1503.6,304.0 L1506.8,290.9 L1510.0,277.8 L1513.2,264.7 L1516.4,251.6 L1519.7,238.5 L1522.9,225.4 L1526.2,212.3 L1529.4,199.2"/>
<path d="M1312.8,1758.5 L1314.6,1745.4 L1316.4,1732.3 L1318.2,1719.2 L1320.1,1706.0 L1321.9,1692.9 L1323.8,1679.8 L1325.7,1666.7 L1327.6,1653.6 L1329.5,1640.5 L1331.4,1627.4 L1333.3,1614.3 L1335.3,1601.2 L1337.2,1588.1 L1339.2,1575.0 L1341.2,1561.9 L1343.1,1548.8 L1345.2,1535.7 L1347.2,1522.6 L1349.2,1509.5 L1351.2,1496.4 L1353.3,1483.3 L1355.4,1470.2 L1357.4,1457.1 L1359.5,1444.0 L1361.6,1430.9 L1363.8,1417.8 L1365.9,1404.7 L1368.0,1391.6 L1370.2,1378.5 L1372.3,1365.4 L1374.5,1352.3 L1376.7,1339.2 L1378.9,1326.1 L1381.1,1313.0 L1383.4,1299.9 L1385.6,1286.8 L1387.8,1273.6 L1390.1,1260.5 L1392.4,1247.4 L1394.7,1234.3 L1396.9,1221.2 L1399.3,1208.1 L1401.6,1195.0 L1403.9,1181.9 L1406.2,1168.8 L1408.6,1155.7 L1411.0,1142.6 L1413.3,1129.5 L1415.7,1116.4 L1418.1,1103.3 L1420.5,1090.2 L1423.0,1077.1 L1425.4,1064.0 L1427.8,1050.9 L1430.3,1037.8 L1432.8,1024.7 L1435.2,1011.6 L1437.7,998.5 L1440.2,985.4 L1442.7,972.3 L1445.2,959.2 L1447.8,946.1 L1450.3,933.0 L1452.9,919.9 L1455.4,906.8 L1458.0,893.7 L1460.6,880.6 L1463.2,867.5 L1465.8,854.4 L1468.4,841.2 L1471.0,828.1 L1473.7,815.0 L1476.3,801.9 L1479.0,788.8 L1481.7,775.7 L1484.3,762.6 L1487.0,749.5 L1489.7,736.4 L1492.5,723.3 L1495.2,710.2 L1497.9,697.1 L1500.6,684.0 L1503.4,670.9 L1506.2,657.8 L1508.9,644.7 L1511.7,631.6 L1514.5,618.5 L1517.3,605.4 L1520.1,592.3 L1522.9,579.2 L1525.8,566.1 L1528.6,553.0 L1531.5,539.9 L1534.3,526.8 L1537.2,513.7 L1540.1,500.6 L1543.0,487.5 L1545.9,474.4 L1548.8,461.3 L1551.7,448.2 L1554.6,435.1 L1557.6,422.0 L1560.5,408.8 L1563.5,395.7 L1566.5,382.6 L1569.4,369.5 L1572.4,356.4 L1575.4,343.3 L1578.4,330.2 L1581.4,317.1 L1584.5,304.0 L1587.5,290.9 L1590.5,277.8 L1593.6,264.7 L1596.7,251.6 L1599.7,238.5 L1602.8,225.4 L1605.9,212.3 L1609.0,199.2"/>
<path d="M1454.0,1758.5 L1455.4,1745.4 L1456.9,1732.3 L1458.4,1719.2 L1459.9,1706.0 L1461.5,1692.9 L1463.0,1679.8 L1464.5,1666.7 L1466.1,1653.6 L1467.7,1640.5 L1469.3,1627.4 L1470.9,1614.3 L1472.5,1601.2 L1474.2,1588.1 L1475.8,1575.0 L1477.5,1561.9 L1479.1,1548.8 L1480.8,1535.7 L1482.5,1522.6 L1484.3,1509.5 L1486.0,1496.4 L1487.7,1483.3 L1489.5,1470.2 L1491.3,1457.1 L1493.1,1444.0 L1494.9,1430.9 L1496.7,1417.8 L1498.5,1404.7 L1500.3,1391.6 L1502.2,1378.5 L1504.1,1365.4 L1505.9,1352.3 L1507.8,1339.2 L1509.7,1326.1 L1511.7,1313.0 L1513.6,1299.9 L1515.5,1286.8 L1517.5,1273.6 L1519.5,1260.5 L1521.4,1247.4 L1523.4,1234.3 L1525.4,1221.2 L1527.5,1208.1 L1529.5,1195.0 L1531.5,1181.9 L1533.6,1168.8 L1535.7,1155.7 L1537.7,1142.6 L1539.8,1129.5 L1541.9,1116.4 L1544.1,1103.3 L1546.2,1090.2 L1548.3,1077.1 L1550.5,1064.0 L1552.7,1050.9 L1554.8,1037.8 L1557.0,1024.7 L1559.2,1011.6 L1561.5,998.5 L1563.7,985.4 L1565.9,972.3 L1568.2,959.2 L1570.4,946.1 L1572.7,933.0 L1575.0,919.9 L1577.3,906.8 L1579.6,893.7 L1581.9,880.6 L1584.3,867.5 L1586.6,854.4 L1589.0,841.2 L1591.3,828.1 L1593.7,815.0 L1596.1,801.9 L1598.5,788.8 L1600.9,775.7 L1603.3,762.6 L1605.8,749.5 L1608.2,736.4 L1610.7,723.3 L1613.1,710.2 L1615.6,697.1 L1618.1,684.0 L1620.6,670.9 L1623.1,657.8 L1625.6,644.7 L1628.2,631.6 L1630.7,618.5 L1633.3,605.4 L1635.8,592.3 L1638.4,579.2 L1641.0,566.1 L1643.6,553.0 L1646.2,539.9 L1648.8,526.8 L1651.5,513.7 L1654.1,500.6 L1656.8,487.5 L1659.4,474.4 L1662.1,461.3 L1664.8,448.2 L1667.5,435.1 L1670.2,422.0 L1672.9,408.8 L1675.6,395.7 L1678.3,382.6 L1681.1,369.5 L1683.8,356.4 L1686.6,343.3 L1689.4,330.2 L1692.2,317.1 L1695.0,304.0 L1697.8,290.9 L1700.6,277.8 L1703.4,264.7 L1706.2,251.6 L1709.1,238.5 L1711.9,225.4 L1714.8,212.3 L1717.7,199.2"/>
<path d="M1580.9,1758.5 L1582.1,1745.4 L1583.2,1732.3 L1584.4,1719.2 L1585.6,1706.0 L1586.9,1692.9 L1588.1,1679.8 L1589.4,1666.7 L1590.6,1653.6 L1591.9,1640.5 L1593.2,1627.4 L1594.5,1614.3 L1595.9,1601.2 L1597.2,1588.1 L1598.6,1575.0 L1599.9,1561.9 L1601.3,1548.8 L1602.7,1535.7 L1604.1,1522.6 L1605.6,1509.5 L1607.0,1496.4 L1608.5,1483.3 L1610.0,1470.2 L1611.5,1457.1 L1613.0,1444.0 L1614.5,1430.9 L1616.0,1417.8 L1617.6,1404.7 L1619.1,1391.6 L1620.7,1378.5 L1622.3,1365.4 L1623.9,1352.3 L1625.5,1339.2 L1627.1,1326.1 L1628.8,1313.0 L1630.5,1299.9 L1632.1,1286.8 L1633.8,1273.6 L1635.5,1260.5 L1637.2,1247.4 L1639.0,1234.3 L1640.7,1221.2 L1642.5,1208.1 L1644.2,1195.0 L1646.0,1181.9 L1647.8,1168.8 L1649.6,1155.7 L1651.4,1142.6 L1653.3,1129.5 L1655.1,1116.4 L1657.0,1103.3 L1658.9,1090.2 L1660.7,1077.1 L1662.7,1064.0 L1664.6,1050.9 L1666.5,1037.8 L1668.4,1024.7 L1670.4,1011.6 L1672.3,998.5 L1674.3,985.4 L1676.3,972.3 L1678.3,959.2 L1680.3,946.1 L1682.4,933.0 L1684.4,919.9 L1686.5,906.8 L1688.5,893.7 L1690.6,880.6 L1692.7,867.5 L1694.8,854.4 L1696.9,841.2 L1699.0,828.1 L1701.2,815.0 L1703.3,801.9 L1705.5,788.8 L1707.7,775.7 L1709.9,762.6 L1712.1,749.5 L1714.3,736.4 L1716.5,723.3 L1718.7,710.2 L1721.0,697.1 L1723.2,684.0 L1725.5,670.9 L1727.8,657.8 L1730.1,644.7 L1732.4,631.6 L1734.7,618.5 L1737.0,605.4 L1739.4,592.3 L1741.7,579.2 L1744.1,566.1 L1746.5,553.0 L1748.9,539.9 L1751.3,526.8 L1753.7,513.7 L1756.1,500.6 L1758.5,487.5 L1761.0,474.4 L1763.4,461.3 L1765.9,448.2 L1768.3,435.1 L1770.8,422.0 L1773.3,408.8 L1775.8,395.7 L1778.4,382.6 L1780.9,369.5 L1783.4,356.4 L1786.0,343.3 L1788.5,330.2 L1791.1,317.1 L1793.7,304.0 L1796.3,290.9 L1798.9,277.8 L1801.5,264.7 L1804.1,251.6 L1806.8,238.5 L1809.4,225.4 L1812.1,212.3 L1814.8,199.2"/>
<path d="M1673.7,1758.5 L1674.6,1745.4 L1675.5,1732.3 L1676.5,1719.2 L1677.5,1706.0 L1678.5,1692.9 L1679.5,1679.8 L1680.5,1666.7 L1681.6,1653.6 L1682.6,1640.5 L1683.7,1627.4 L1684.8,1614.3 L1685.9,1601.2 L1687.1,1588.1 L1688.2,1575.0 L1689.4,1561.9 L1690.5,1548.8 L1691.7,1535.7 L1692.9,1522.6 L1694.1,1509.5 L1695.4,1496.4 L1696.6,1483.3 L1697.9,1470.2 L1699.2,1457.1 L1700.5,1444.0 L1701.8,1430.9 L1703.1,1417.8 L1704.4,1404.7 L1705.8,1391.6 L1707.2,1378.5 L1708.6,1365.4 L1710.0,1352.3 L1711.4,1339.2 L1712.8,1326.1 L1714.3,1313.0 L1715.7,1299.9 L1717.2,1286.8 L1718.7,1273.6 L1720.2,1260.5 L1721.7,1247.4 L1723.2,1234.3 L1724.8,1221.2 L1726.3,1208.1 L1727.9,1195.0 L1729.5,1181.9 L1731.1,1168.8 L1732.7,1155.7 L1734.3,1142.6 L1736.0,1129.5 L1737.6,1116.4 L1739.3,1103.3 L1741.0,1090.2 L1742.7,1077.1 L1744.4,1064.0 L1746.1,1050.9 L1747.9,1037.8 L1749.6,1024.7 L1751.4,1011.6 L1753.2,998.5 L1755.0,985.4 L1756.8,972.3 L1758.6,959.2 L1760.4,946.1 L1762.3,933.0 L1764.1,919.9 L1766.0,906.8 L1767.9,893.7 L1769.8,880.6 L1771.7,867.5 L1773.6,854.4 L1775.5,841.2 L1777.5,828.1 L1779.5,815.0 L1781.4,801.9 L1783.4,788.8 L1785.4,775.7 L1787.4,762.6 L1789.5,749.5 L1791.5,736.4 L1793.5,723.3 L1795.6,710.2 L1797.7,697.1 L1799.8,684.0 L1801.9,670.9 L1804.0,657.8 L1806.1,644.7 L1808.2,631.6 L1810.4,618.5 L1812.6,605.4 L1814.7,592.3 L1816.9,579.2 L1819.1,566.1 L1821.3,553.0 L1823.5,539.9 L1825.8,526.8 L1828.0,513.7 L1830.3,500.6 L1832.5,487.5 L1834.8,474.4 L1837.1,461.3 L1839.4,448.2 L1841.7,435.1 L1844.1,422.0 L1846.4,408.8 L1848.7,395.7 L1851.1,382.6 L1853.5,369.5 L1855.9,356.4 L1858.3,343.3 L1860.7,330.2 L1863.1,317.1 L1865.5,304.0 L1867.9,290.9 L1870.4,277.8 L1872.9,264.7 L1875.3,251.6 L1877.8,238.5 L1880.3,225.4 L1882.8,212.3 L1885.3,199.2"/>
</g>
<path d="M1025.5,1791.5 L1943.9,199.2" stroke="#00bfbf" stroke-width="4.1" fill="none" stroke-dasharray="15.17 6.56"/>
<path d="M1525.7,1758.5 L1400.4,1687.1 L1374.6,1668.0 L1349.4,1648.4 L1338.7,1628.2 L1328.0,1607.4 L1316.3,1585.9 L1302.7,1563.6 L1273.8,1516.9 L1241.7,1466.7 L1206.7,1412.5 L1161.0,1353.6 L1109.5,1289.1 L1045.6,1217.7 L964.5,1138.0 L862.9,1047.5 L743.2,943.2 L604.8,819.7 L518.5,748.3 L422.4,668.6 L-24.5,199.2" stroke="#000" stroke-width="6.3" fill="none" stroke-linejoin="round"/><path d="M1525.7,1758.5 L1492.7,1741.3 L1470.8,1723.7 L1456.7,1705.7 L1436.5,1687.1 L1417.8,1668.0 L1398.7,1648.4 L1381.3,1628.2 L1365.0,1607.4 L1345.5,1585.9 L1320.5,1563.6 L1265.5,1516.9 L1207.5,1466.7 L1146.5,1412.5 L1094.5,1353.6 L1054.3,1289.1 L1011.5,1217.7 L959.0,1138.0 L905.1,1047.5 L898.6,943.2 L896.2,668.6 L732.8,199.2" stroke="#ff0000" stroke-width="6.3" fill="none" stroke-linejoin="round"/><path d="M1349.6,1758.5 L1342.0,1741.3 L1327.7,1723.7 L1303.4,1705.7 L1279.8,1648.4 L1161.5,1607.4 L1098.0,1585.9 L1034.6,1563.6 L1012.5,1516.9 L963.5,1466.7 L849.1,1412.5 L671.5,1353.6 L607.8,1289.1 L456.0,1217.7 L456.5,1138.0 L570.9,943.2 L367.4,668.6 L352.0,199.2" stroke="#008000" stroke-width="6.3" fill="none" stroke-linejoin="round"/>
</g>
<rect x="251.0" y="199.2" width="1549.0" height="1592.3" fill="none" stroke="#000" stroke-width="3.5" stroke-linejoin="miter"/>
<g stroke="#000" stroke-width="3.5">
<path d="M251.0,1791.5 v14.5"/>
<path d="M444.6,1791.5 v14.5"/>
<path d="M638.2,1791.5 v14.5"/>
<path d="M831.9,1791.5 v14.5"/>
<path d="M1025.5,1791.5 v14.5"/>
<path d="M1219.1,1791.5 v14.5"/>
<path d="M1412.8,1791.5 v14.5"/>
<path d="M1606.4,1791.5 v14.5"/>
<path d="M1800.0,1791.5 v14.5"/>
<path d="M251.0,199.2 h-14.5"/>
<path d="M251.0,668.6 h-14.5"/>
<path d="M251.0,943.2 h-14.5"/>
<path d="M251.0,1138.0 h-14.5"/>
<path d="M251.0,1289.1 h-14.5"/>
<path d="M251.0,1412.5 h-14.5"/>
<path d="M251.0,1516.9 h-14.5"/>
<path d="M251.0,1607.4 h-14.5"/>
<path d="M251.0,1687.1 h-14.5"/>
<path d="M251.0,1758.5 h-14.5"/>
</g>
<g font-family="'DejaVu Sans', 'Liberation Sans', sans-serif" font-size="41.0" fill="#000">
<text x="251.0" y="1851.5" text-anchor="middle">−40</text>
<text x="444.6" y="1851.5" text-anchor="middle">−30</text>
<text x="638.2" y="1851.5" text-anchor="middle">−20</text>
<text x="831.9" y="1851.5" text-anchor="middle">−10</text>
<text x="1025.5" y="1851.5" text-anchor="middle">0</text>
<text x="1219.1" y="1851.5" text-anchor="middle">10</text>
<text x="1412.8" y="1851.5" text-anchor="middle">20</text>
<text x="1606.4" y="1851.5" text-anchor="middle">30</text>
<text x="1800.0" y="1851.5" text-anchor="middle">40</text>
<text x="222.0" y="214.7" text-anchor="end">100</text>
<text x="222.0" y="684.1" text-anchor="end">200</text>
<text x="222.0" y="958.7" text-anchor="end">300</text>
<text x="222.0" y="1153.5" text-anchor="end">400</text>
<text x="222.0" y="1304.6" text-anchor="end">500</text>
<text x="222.0" y="1428.0" text-anchor="end">600</text>
<text x="222.0" y="1532.4" text-anchor="end">700</text>
<text x="222.0" y="1622.9" text-anchor="end">800</text>
<text x="222.0" y="1702.6" text-anchor="end">900</text>
<text x="222.0" y="1774.0" text-anchor="end">1000</text>
<text x="1025.5" y="1913" text-anchor="middle" font-size="49.2">Temperature (°C)</text>
<text transform="translate(90,995.4) rotate(-90)" text-anchor="middle" font-size="49.2">Pressure (hPa)</text>
</g>
<rect x="1061.0" y="218.6" width="718.3" height="193.4" rx="8" ry="8" fill="#fff" fill-opacity="0.8" stroke="#ccc" stroke-opacity="0.8" stroke-width="3.3"/>
<path d="M1077.5,252.9 H1159" stroke="#000" stroke-width="6.3" stroke-linecap="square" fill="none"/>
<text x="1191.5" y="267.3" font-family="'DejaVu Sans', 'Liberation Sans', sans-serif" font-size="41.0" fill="#000">Parcel Profile</text>
<path d="M1077.5,313.2 H1159" stroke="#ff0000" stroke-width="6.3" stroke-linecap="square" fill="none"/>
<text x="1191.5" y="327.6" font-family="'DejaVu Sans', 'Liberation Sans', sans-serif" font-size="41.0" fill="#000">Environmental Temperature</text>
<path d="M1077.5,373.6 H1159" stroke="#008000" stroke-width="6.3" stroke-linecap="square" fill="none"/>
<text x="1191.5" y="388.0" font-family="'DejaVu Sans', 'Liberation Sans', sans-serif" font-size="41.0" fill="#000">Dewpoint Temperature</text>
<rect x="266.2" y="1424.8" width="456.00000000000006" height="348.4000000000001" fill="#fff" fill-opacity="0.8" stroke="#808080" stroke-opacity="0.8" stroke-width="3.6"/>
<text font-family="'DejaVu Sans', 'Liberation Sans', sans-serif" font-size="41.0" fill="#000">
<tspan x="282.5" y="1472.9">CIN: -77.62 J/kg</tspan>
<tspan x="282.5" y="1519.0">CAPE: 430.13 J/kg</tspan>
<tspan x="282.5" y="1565.1">DCAPE: 1048.72 J/kg</tspan>
<tspan x="282.5" y="1611.2">KI: 24.12°C</tspan>
<tspan x="282.5" y="1657.3">SI: -0.51 °C</tspan>
<tspan x="282.5" y="1703.4">TT: 50.42°C</tspan>
<tspan x="282.5" y="1749.5">LI: -2.68°C</tspan>
</text>
<text transform="translate(1011.2,92.8) scale(1.09,1)" x="0" y="0" text-anchor="middle" font-family="'Liberation Serif', 'DejaVu Serif', serif" font-weight="bold" font-size="73.5" fill="#000">BJ</text><text transform="scale(0.95,1)" x="836.4 866.4 896.4 926.4 956.4 986.4 1016.4 1046.4 1077.7 1109.1 1139.3 1169.5 1199.7 1229.9 1260.1 1290.3 1320.5" y="174.2" text-anchor="middle" font-family="'Liberation Sans', 'DejaVu Sans', sans-serif" font-size="56" fill="#000" xml:space="preserve">20240530 08:00:00</text>
</g>
</svg>
</body></html>
